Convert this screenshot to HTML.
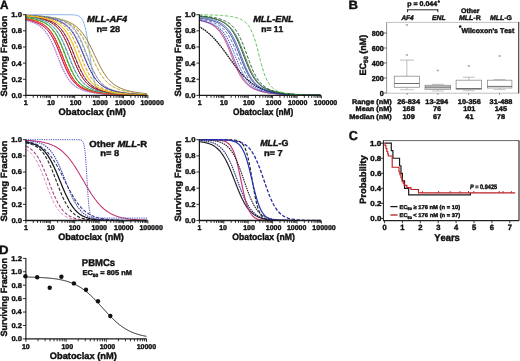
<!DOCTYPE html>
<html><head><meta charset="utf-8"><style>
html,body{margin:0;padding:0;background:#fff;}
svg{display:block;will-change:transform;filter:blur(0.35px);}
text{font-family:"Liberation Sans",sans-serif;font-kerning:none;stroke:#111;stroke-width:0.4px;white-space:pre;}
</style></head><body>
<svg width="520" height="361" viewBox="0 0 520 361" text-rendering="geometricPrecision">
<rect width="520" height="361" fill="#fff"/>
<g id="A">
<g fill="#111" transform="translate(-0.09,9.00) scale(0.9813,1)"><text x="0.00" y="0.00" font-size="12.0" style="font-weight:bold">A</text></g>
<path d="M25.9,14.7 26.9,14.7 27.9,14.7 28.9,14.7 29.9,14.7 30.9,14.7 31.9,14.7 32.9,14.7 33.9,14.7 34.9,14.7 35.9,14.7 36.9,14.7 37.9,14.7 38.9,14.7 39.9,14.7 40.9,14.7 41.9,14.7 42.9,14.7 43.9,14.7 44.9,14.7 45.9,14.7 46.9,14.7 47.9,14.7 48.9,14.7 49.9,14.7 50.9,14.7 51.9,14.7 52.9,14.7 53.9,14.7 54.9,14.7 55.9,14.7 56.9,14.7 57.9,14.7 58.9,14.7 59.9,14.7 60.9,14.7 61.9,14.7 62.9,14.7 63.9,14.7 64.9,14.7 65.9,14.7 66.9,14.7 67.9,14.7 68.9,14.7 69.9,14.7 70.9,14.8 71.9,14.8 72.9,14.9 73.9,14.9 74.9,15.0 75.9,15.2 76.9,15.4 77.9,15.7 78.9,16.1 79.9,16.8 80.9,17.7 81.9,18.9 82.9,20.7 83.9,23.2 84.9,26.4 85.9,30.6 86.9,35.8 87.9,41.9 88.9,48.7 89.9,55.8 90.9,62.7 91.9,69.0 92.9,74.6 93.9,79.3 94.9,83.1 95.9,86.0 96.9,88.4 97.9,90.1 98.9,91.5 99.9,92.5 100.9,93.2 101.9,93.8 102.9,94.2 103.9,94.5 104.9,94.7 105.9,94.9 106.9,95.0 107.9,95.1 108.9,95.2 109.9,95.3 110.9,95.3 111.9,95.3 112.9,95.3 113.9,95.4 114.9,95.4 115.9,95.4 116.9,95.4 117.9,95.4 118.9,95.4 119.9,95.4 120.9,95.4 121.9,95.4 122.9,95.4 123.9,95.4 124.9,95.4 125.9,95.4 126.9,95.4 127.9,95.4 128.9,95.4 129.9,95.4 130.9,95.4 131.9,95.4 132.9,95.4 133.9,95.4 134.9,95.4 135.9,95.4 136.9,95.4 137.9,95.4 138.9,95.4 139.9,95.4 140.9,95.4 141.9,95.4 142.9,95.4 143.9,95.4 144.9,95.4 145.9,95.4 146.9,95.4" fill="none" stroke="#80b0e8" stroke-width="0.95" />
<path d="M25.9,15.5 26.9,15.5 27.9,15.5 28.9,15.6 29.9,15.6 30.9,15.7 31.9,15.7 32.9,15.8 33.9,15.8 34.9,15.9 35.9,16.0 36.9,16.0 37.9,16.1 38.9,16.2 39.9,16.2 40.9,16.3 41.9,16.4 42.9,16.5 43.9,16.6 44.9,16.7 45.9,16.8 46.9,16.9 47.9,17.0 48.9,17.2 49.9,17.3 50.9,17.4 51.9,17.6 52.9,17.7 53.9,17.9 54.9,18.1 55.9,18.2 56.9,18.4 57.9,18.6 58.9,18.9 59.9,19.1 60.9,19.3 61.9,19.6 62.9,19.9 63.9,20.2 64.9,20.5 65.9,20.9 66.9,21.2 67.9,21.6 68.9,22.1 69.9,22.5 70.9,23.0 71.9,23.6 72.9,24.2 73.9,24.8 74.9,25.5 75.9,26.3 76.9,27.1 77.9,28.0 78.9,28.9 79.9,30.0 80.9,31.1 81.9,32.3 82.9,33.6 83.9,35.0 84.9,36.5 85.9,38.0 86.9,39.7 87.9,41.5 88.9,43.3 89.9,45.3 90.9,47.3 91.9,49.3 92.9,51.4 93.9,53.6 94.9,55.7 95.9,57.8 96.9,59.9 97.9,62.0 98.9,64.0 99.9,66.0 100.9,67.9 101.9,69.7 102.9,71.4 103.9,73.0 104.9,74.5 105.9,76.0 106.9,77.3 107.9,78.6 108.9,79.7 109.9,80.8 110.9,81.8 111.9,82.7 112.9,83.5 113.9,84.3 114.9,85.0 115.9,85.7 116.9,86.3 117.9,86.8 118.9,87.4 119.9,87.8 120.9,88.3 121.9,88.7 122.9,89.1 123.9,89.5 124.9,89.8 125.9,90.1 126.9,90.4 127.9,90.7 128.9,90.9 129.9,91.2 130.9,91.4 131.9,91.6 132.9,91.8 133.9,92.0 134.9,92.2 135.9,92.3 136.9,92.5 137.9,92.6 138.9,92.8 139.9,92.9 140.9,93.0 141.9,93.1 142.9,93.3 143.9,93.4 144.9,93.5 145.9,93.6 146.9,93.7" fill="none" stroke="#8a6a30" stroke-width="0.9" />
<path d="M25.9,15.5 26.9,15.5 27.9,15.6 28.9,15.6 29.9,15.7 30.9,15.7 31.9,15.8 32.9,15.8 33.9,15.9 34.9,15.9 35.9,16.0 36.9,16.1 37.9,16.2 38.9,16.2 39.9,16.3 40.9,16.4 41.9,16.5 42.9,16.6 43.9,16.7 44.9,16.8 45.9,16.9 46.9,17.1 47.9,17.2 48.9,17.3 49.9,17.5 50.9,17.6 51.9,17.8 52.9,18.0 53.9,18.2 54.9,18.4 55.9,18.6 56.9,18.8 57.9,19.1 58.9,19.3 59.9,19.6 60.9,19.9 61.9,20.2 62.9,20.5 63.9,20.9 64.9,21.3 65.9,21.7 66.9,22.2 67.9,22.7 68.9,23.3 69.9,23.9 70.9,24.5 71.9,25.2 72.9,26.0 73.9,26.8 74.9,27.7 75.9,28.7 76.9,29.7 77.9,30.9 78.9,32.2 79.9,33.5 80.9,35.0 81.9,36.5 82.9,38.2 83.9,40.0 84.9,41.8 85.9,43.8 86.9,45.9 87.9,48.0 88.9,50.1 89.9,52.4 90.9,54.6 91.9,56.8 92.9,59.1 93.9,61.3 94.9,63.4 95.9,65.5 96.9,67.5 97.9,69.4 98.9,71.2 99.9,72.9 100.9,74.5 101.9,76.0 102.9,77.4 103.9,78.7 104.9,79.9 105.9,81.0 106.9,82.0 107.9,83.0 108.9,83.8 109.9,84.6 110.9,85.3 111.9,86.0 112.9,86.6 113.9,87.2 114.9,87.7 115.9,88.2 116.9,88.6 117.9,89.0 118.9,89.4 119.9,89.8 120.9,90.1 121.9,90.4 122.9,90.7 123.9,90.9 124.9,91.2 125.9,91.4 126.9,91.6 127.9,91.8 128.9,92.0 129.9,92.2 130.9,92.4 131.9,92.6 132.9,92.7 133.9,92.8 134.9,93.0 135.9,93.1 136.9,93.2 137.9,93.3 138.9,93.5 139.9,93.6 140.9,93.6 141.9,93.7 142.9,93.8 143.9,93.9 144.9,94.0 145.9,94.1 146.9,94.1" fill="none" stroke="#a09040" stroke-width="0.85" stroke-dasharray="3.2,1.7" />
<path d="M25.9,15.4 26.9,15.4 27.9,15.4 28.9,15.5 29.9,15.5 30.9,15.6 31.9,15.6 32.9,15.7 33.9,15.7 34.9,15.8 35.9,15.8 36.9,15.9 37.9,16.0 38.9,16.1 39.9,16.1 40.9,16.2 41.9,16.3 42.9,16.4 43.9,16.5 44.9,16.6 45.9,16.7 46.9,16.8 47.9,16.9 48.9,17.1 49.9,17.2 50.9,17.3 51.9,17.5 52.9,17.7 53.9,17.8 54.9,18.0 55.9,18.2 56.9,18.4 57.9,18.7 58.9,18.9 59.9,19.2 60.9,19.4 61.9,19.7 62.9,20.0 63.9,20.4 64.9,20.8 65.9,21.1 66.9,21.6 67.9,22.0 68.9,22.6 69.9,23.1 70.9,23.7 71.9,24.4 72.9,25.1 73.9,25.9 74.9,26.7 75.9,27.6 76.9,28.7 77.9,29.8 78.9,31.0 79.9,32.3 80.9,33.7 81.9,35.2 82.9,36.8 83.9,38.6 84.9,40.5 85.9,42.4 86.9,44.5 87.9,46.6 88.9,48.8 89.9,51.1 90.9,53.4 91.9,55.7 92.9,58.1 93.9,60.3 94.9,62.6 95.9,64.8 96.9,66.9 97.9,68.9 98.9,70.8 99.9,72.6 100.9,74.3 101.9,75.8 102.9,77.3 103.9,78.6 104.9,79.9 105.9,81.0 106.9,82.1 107.9,83.0 108.9,83.9 109.9,84.7 110.9,85.5 111.9,86.1 112.9,86.8 113.9,87.3 114.9,87.9 115.9,88.3 116.9,88.8 117.9,89.2 118.9,89.6 119.9,89.9 120.9,90.3 121.9,90.6 122.9,90.8 123.9,91.1 124.9,91.4 125.9,91.6 126.9,91.8 127.9,92.0 128.9,92.2 129.9,92.4 130.9,92.5 131.9,92.7 132.9,92.8 133.9,93.0 134.9,93.1 135.9,93.2 136.9,93.4 137.9,93.5 138.9,93.6 139.9,93.7 140.9,93.8 141.9,93.9 142.9,93.9 143.9,94.0 144.9,94.1 145.9,94.2 146.9,94.2" fill="none" stroke="#e0c840" stroke-width="0.85" stroke-dasharray="3.2,1.7" />
<path d="M25.9,15.2 26.9,15.3 27.9,15.3 28.9,15.3 29.9,15.4 30.9,15.4 31.9,15.5 32.9,15.5 33.9,15.6 34.9,15.6 35.9,15.7 36.9,15.8 37.9,15.8 38.9,15.9 39.9,16.0 40.9,16.1 41.9,16.2 42.9,16.3 43.9,16.4 44.9,16.5 45.9,16.6 46.9,16.7 47.9,16.8 48.9,17.0 49.9,17.1 50.9,17.3 51.9,17.5 52.9,17.7 53.9,17.9 54.9,18.1 55.9,18.3 56.9,18.5 57.9,18.8 58.9,19.1 59.9,19.4 60.9,19.7 61.9,20.1 62.9,20.5 63.9,20.9 64.9,21.4 65.9,21.9 66.9,22.5 67.9,23.1 68.9,23.8 69.9,24.6 70.9,25.4 71.9,26.3 72.9,27.3 73.9,28.5 74.9,29.7 75.9,31.1 76.9,32.6 77.9,34.2 78.9,36.0 79.9,37.9 80.9,40.0 81.9,42.2 82.9,44.6 83.9,47.0 84.9,49.6 85.9,52.2 86.9,54.8 87.9,57.4 88.9,60.0 89.9,62.6 90.9,65.0 91.9,67.4 92.9,69.7 93.9,71.8 94.9,73.7 95.9,75.5 96.9,77.2 97.9,78.7 98.9,80.1 99.9,81.4 100.9,82.6 101.9,83.6 102.9,84.5 103.9,85.4 104.9,86.2 105.9,86.9 106.9,87.5 107.9,88.1 108.9,88.6 109.9,89.1 110.9,89.5 111.9,89.9 112.9,90.3 113.9,90.6 114.9,90.9 115.9,91.2 116.9,91.5 117.9,91.8 118.9,92.0 119.9,92.2 120.9,92.4 121.9,92.6 122.9,92.8 123.9,92.9 124.9,93.1 125.9,93.2 126.9,93.4 127.9,93.5 128.9,93.6 129.9,93.7 130.9,93.8 131.9,93.9 132.9,94.0 133.9,94.1 134.9,94.2 135.9,94.2 136.9,94.3 137.9,94.4 138.9,94.4 139.9,94.5 140.9,94.6 141.9,94.6 142.9,94.7 143.9,94.7 144.9,94.7 145.9,94.8 146.9,94.8" fill="none" stroke="#8898b0" stroke-width="0.85" />
<path d="M25.9,15.3 26.9,15.4 27.9,15.4 28.9,15.5 29.9,15.5 30.9,15.6 31.9,15.6 32.9,15.7 33.9,15.7 34.9,15.8 35.9,15.9 36.9,16.0 37.9,16.0 38.9,16.1 39.9,16.2 40.9,16.3 41.9,16.4 42.9,16.5 43.9,16.6 44.9,16.7 45.9,16.9 46.9,17.0 47.9,17.1 48.9,17.3 49.9,17.5 50.9,17.6 51.9,17.8 52.9,18.0 53.9,18.2 54.9,18.5 55.9,18.7 56.9,19.0 57.9,19.3 58.9,19.6 59.9,19.9 60.9,20.3 61.9,20.7 62.9,21.1 63.9,21.6 64.9,22.1 65.9,22.7 66.9,23.3 67.9,24.0 68.9,24.7 69.9,25.5 70.9,26.4 71.9,27.4 72.9,28.5 73.9,29.7 74.9,31.0 75.9,32.5 76.9,34.0 77.9,35.7 78.9,37.5 79.9,39.5 80.9,41.6 81.9,43.8 82.9,46.1 83.9,48.5 84.9,51.0 85.9,53.5 86.9,56.1 87.9,58.6 88.9,61.1 89.9,63.5 90.9,65.8 91.9,68.1 92.9,70.2 93.9,72.2 94.9,74.0 95.9,75.8 96.9,77.3 97.9,78.8 98.9,80.1 99.9,81.4 100.9,82.5 101.9,83.5 102.9,84.4 103.9,85.2 104.9,86.0 105.9,86.7 106.9,87.3 107.9,87.9 108.9,88.4 109.9,88.9 110.9,89.3 111.9,89.7 112.9,90.1 113.9,90.4 114.9,90.8 115.9,91.0 116.9,91.3 117.9,91.6 118.9,91.8 119.9,92.0 120.9,92.2 121.9,92.4 122.9,92.6 123.9,92.8 124.9,92.9 125.9,93.1 126.9,93.2 127.9,93.3 128.9,93.5 129.9,93.6 130.9,93.7 131.9,93.8 132.9,93.9 133.9,94.0 134.9,94.1 135.9,94.1 136.9,94.2 137.9,94.3 138.9,94.3 139.9,94.4 140.9,94.5 141.9,94.5 142.9,94.6 143.9,94.6 144.9,94.7 145.9,94.7 146.9,94.7" fill="none" stroke="#909090" stroke-width="0.85" stroke-dasharray="3.2,1.7" />
<path d="M25.9,15.5 26.9,15.5 27.9,15.5 28.9,15.6 29.9,15.7 30.9,15.7 31.9,15.8 32.9,15.8 33.9,15.9 34.9,16.0 35.9,16.1 36.9,16.2 37.9,16.3 38.9,16.3 39.9,16.4 40.9,16.6 41.9,16.7 42.9,16.8 43.9,16.9 44.9,17.1 45.9,17.2 46.9,17.4 47.9,17.6 48.9,17.7 49.9,17.9 50.9,18.1 51.9,18.4 52.9,18.6 53.9,18.9 54.9,19.1 55.9,19.4 56.9,19.8 57.9,20.1 58.9,20.5 59.9,20.9 60.9,21.4 61.9,21.9 62.9,22.4 63.9,23.0 64.9,23.6 65.9,24.3 66.9,25.1 67.9,26.0 68.9,26.9 69.9,28.0 70.9,29.1 71.9,30.4 72.9,31.7 73.9,33.2 74.9,34.9 75.9,36.6 76.9,38.5 77.9,40.5 78.9,42.7 79.9,45.0 80.9,47.3 81.9,49.8 82.9,52.3 83.9,54.8 84.9,57.3 85.9,59.8 86.9,62.3 87.9,64.7 88.9,67.0 89.9,69.1 90.9,71.2 91.9,73.1 92.9,74.9 93.9,76.6 94.9,78.1 95.9,79.5 96.9,80.8 97.9,81.9 98.9,83.0 99.9,83.9 100.9,84.8 101.9,85.6 102.9,86.3 103.9,87.0 104.9,87.6 105.9,88.1 106.9,88.6 107.9,89.1 108.9,89.5 109.9,89.9 110.9,90.3 111.9,90.6 112.9,90.9 113.9,91.2 114.9,91.4 115.9,91.7 116.9,91.9 117.9,92.1 118.9,92.3 119.9,92.5 120.9,92.7 121.9,92.8 122.9,93.0 123.9,93.1 124.9,93.3 125.9,93.4 126.9,93.5 127.9,93.6 128.9,93.7 129.9,93.8 130.9,93.9 131.9,94.0 132.9,94.1 133.9,94.2 134.9,94.2 135.9,94.3 136.9,94.4 137.9,94.4 138.9,94.5 139.9,94.5 140.9,94.6 141.9,94.6 142.9,94.7 143.9,94.7 144.9,94.8 145.9,94.8 146.9,94.8" fill="none" stroke="#4060c0" stroke-width="1.0" stroke-dasharray="0.5,1.8" stroke-linecap="round"/>
<path d="M25.9,15.6 26.9,15.6 27.9,15.7 28.9,15.8 29.9,15.8 30.9,15.9 31.9,16.0 32.9,16.0 33.9,16.1 34.9,16.2 35.9,16.3 36.9,16.4 37.9,16.5 38.9,16.6 39.9,16.7 40.9,16.8 41.9,17.0 42.9,17.1 43.9,17.2 44.9,17.4 45.9,17.6 46.9,17.7 47.9,17.9 48.9,18.1 49.9,18.3 50.9,18.6 51.9,18.8 52.9,19.1 53.9,19.4 54.9,19.7 55.9,20.0 56.9,20.3 57.9,20.7 58.9,21.1 59.9,21.6 60.9,22.1 61.9,22.6 62.9,23.2 63.9,23.8 64.9,24.5 65.9,25.3 66.9,26.1 67.9,27.1 68.9,28.1 69.9,29.2 70.9,30.4 71.9,31.7 72.9,33.1 73.9,34.7 74.9,36.4 75.9,38.2 76.9,40.1 77.9,42.1 78.9,44.3 79.9,46.5 80.9,48.8 81.9,51.2 82.9,53.6 83.9,56.0 84.9,58.4 85.9,60.8 86.9,63.2 87.9,65.4 88.9,67.6 89.9,69.6 90.9,71.6 91.9,73.4 92.9,75.1 93.9,76.7 94.9,78.1 95.9,79.5 96.9,80.7 97.9,81.8 98.9,82.8 99.9,83.8 100.9,84.6 101.9,85.4 102.9,86.1 103.9,86.8 104.9,87.4 105.9,87.9 106.9,88.4 107.9,88.9 108.9,89.3 109.9,89.7 110.9,90.0 111.9,90.4 112.9,90.7 113.9,91.0 114.9,91.2 115.9,91.5 116.9,91.7 117.9,91.9 118.9,92.1 119.9,92.3 120.9,92.5 121.9,92.7 122.9,92.8 123.9,93.0 124.9,93.1 125.9,93.2 126.9,93.4 127.9,93.5 128.9,93.6 129.9,93.7 130.9,93.8 131.9,93.9 132.9,94.0 133.9,94.0 134.9,94.1 135.9,94.2 136.9,94.3 137.9,94.3 138.9,94.4 139.9,94.4 140.9,94.5 141.9,94.5 142.9,94.6 143.9,94.6 144.9,94.7 145.9,94.7 146.9,94.8" fill="none" stroke="#302890" stroke-width="0.85" />
<path d="M25.9,15.6 26.9,15.7 27.9,15.7 28.9,15.8 29.9,15.9 30.9,15.9 31.9,16.0 32.9,16.1 33.9,16.2 34.9,16.3 35.9,16.4 36.9,16.5 37.9,16.6 38.9,16.7 39.9,16.8 40.9,17.0 41.9,17.1 42.9,17.3 43.9,17.4 44.9,17.6 45.9,17.8 46.9,18.0 47.9,18.2 48.9,18.4 49.9,18.7 50.9,18.9 51.9,19.2 52.9,19.5 53.9,19.9 54.9,20.2 55.9,20.6 56.9,21.0 57.9,21.5 58.9,22.0 59.9,22.6 60.9,23.2 61.9,23.8 62.9,24.6 63.9,25.4 64.9,26.2 65.9,27.2 66.9,28.3 67.9,29.5 68.9,30.7 69.9,32.2 70.9,33.7 71.9,35.4 72.9,37.2 73.9,39.1 74.9,41.2 75.9,43.4 76.9,45.7 77.9,48.1 78.9,50.5 79.9,53.0 80.9,55.6 81.9,58.1 82.9,60.6 83.9,63.0 84.9,65.4 85.9,67.6 86.9,69.8 87.9,71.8 88.9,73.7 89.9,75.4 90.9,77.0 91.9,78.5 92.9,79.9 93.9,81.1 94.9,82.3 95.9,83.3 96.9,84.2 97.9,85.1 98.9,85.8 99.9,86.5 100.9,87.2 101.9,87.8 102.9,88.3 103.9,88.8 104.9,89.2 105.9,89.6 106.9,90.0 107.9,90.4 108.9,90.7 109.9,91.0 110.9,91.3 111.9,91.5 112.9,91.8 113.9,92.0 114.9,92.2 115.9,92.4 116.9,92.6 117.9,92.7 118.9,92.9 119.9,93.0 120.9,93.2 121.9,93.3 122.9,93.4 123.9,93.6 124.9,93.7 125.9,93.8 126.9,93.9 127.9,93.9 128.9,94.0 129.9,94.1 130.9,94.2 131.9,94.3 132.9,94.3 133.9,94.4 134.9,94.5 135.9,94.5 136.9,94.6 137.9,94.6 138.9,94.7 139.9,94.7 140.9,94.7 141.9,94.8 142.9,94.8 143.9,94.8 144.9,94.9 145.9,94.9 146.9,94.9" fill="none" stroke="#b0c040" stroke-width="0.85" stroke-dasharray="3.2,1.7" />
<path d="M25.9,16.1 26.9,16.2 27.9,16.3 28.9,16.3 29.9,16.4 30.9,16.6 31.9,16.7 32.9,16.8 33.9,16.9 34.9,17.1 35.9,17.2 36.9,17.4 37.9,17.6 38.9,17.7 39.9,17.9 40.9,18.1 41.9,18.4 42.9,18.6 43.9,18.9 44.9,19.1 45.9,19.4 46.9,19.8 47.9,20.1 48.9,20.5 49.9,20.9 50.9,21.4 51.9,21.9 52.9,22.4 53.9,23.0 54.9,23.6 55.9,24.3 56.9,25.1 57.9,26.0 58.9,26.9 59.9,28.0 60.9,29.1 61.9,30.4 62.9,31.7 63.9,33.2 64.9,34.9 65.9,36.6 66.9,38.5 67.9,40.5 68.9,42.7 69.9,45.0 70.9,47.3 71.9,49.8 72.9,52.3 73.9,54.8 74.9,57.3 75.9,59.8 76.9,62.3 77.9,64.7 78.9,67.0 79.9,69.1 80.9,71.2 81.9,73.1 82.9,74.9 83.9,76.6 84.9,78.1 85.9,79.5 86.9,80.8 87.9,81.9 88.9,83.0 89.9,83.9 90.9,84.8 91.9,85.6 92.9,86.3 93.9,87.0 94.9,87.6 95.9,88.1 96.9,88.6 97.9,89.1 98.9,89.5 99.9,89.9 100.9,90.3 101.9,90.6 102.9,90.9 103.9,91.2 104.9,91.4 105.9,91.7 106.9,91.9 107.9,92.1 108.9,92.3 109.9,92.5 110.9,92.7 111.9,92.8 112.9,93.0 113.9,93.1 114.9,93.3 115.9,93.4 116.9,93.5 117.9,93.6 118.9,93.7 119.9,93.8 120.9,93.9 121.9,94.0 122.9,94.1 123.9,94.2 124.9,94.2 125.9,94.3 126.9,94.4 127.9,94.4 128.9,94.5 129.9,94.5 130.9,94.6 131.9,94.6 132.9,94.7 133.9,94.7 134.9,94.8 135.9,94.8 136.9,94.8 137.9,94.9 138.9,94.9 139.9,94.9 140.9,95.0 141.9,95.0 142.9,95.0 143.9,95.0 144.9,95.1 145.9,95.1 146.9,95.1" fill="none" stroke="#202020" stroke-width="0.85" stroke-dasharray="3.2,1.7" />
<path d="M25.9,16.0 26.9,16.1 27.9,16.2 28.9,16.3 29.9,16.4 30.9,16.5 31.9,16.6 32.9,16.8 33.9,16.9 34.9,17.0 35.9,17.2 36.9,17.3 37.9,17.5 38.9,17.7 39.9,17.9 40.9,18.1 41.9,18.3 42.9,18.5 43.9,18.8 44.9,19.1 45.9,19.3 46.9,19.7 47.9,20.0 48.9,20.4 49.9,20.8 50.9,21.2 51.9,21.7 52.9,22.2 53.9,22.8 54.9,23.4 55.9,24.1 56.9,24.9 57.9,25.7 58.9,26.6 59.9,27.6 60.9,28.7 61.9,30.0 62.9,31.3 63.9,32.8 64.9,34.3 65.9,36.1 66.9,37.9 67.9,39.9 68.9,42.0 69.9,44.3 70.9,46.6 71.9,49.0 72.9,51.5 73.9,54.0 74.9,56.6 75.9,59.1 76.9,61.6 77.9,64.0 78.9,66.3 79.9,68.5 80.9,70.6 81.9,72.6 82.9,74.4 83.9,76.1 84.9,77.6 85.9,79.1 86.9,80.4 87.9,81.6 88.9,82.7 89.9,83.7 90.9,84.6 91.9,85.4 92.9,86.1 93.9,86.8 94.9,87.4 95.9,88.0 96.9,88.5 97.9,89.0 98.9,89.4 99.9,89.8 100.9,90.2 101.9,90.5 102.9,90.8 103.9,91.1 104.9,91.4 105.9,91.6 106.9,91.9 107.9,92.1 108.9,92.3 109.9,92.5 110.9,92.6 111.9,92.8 112.9,93.0 113.9,93.1 114.9,93.2 115.9,93.4 116.9,93.5 117.9,93.6 118.9,93.7 119.9,93.8 120.9,93.9 121.9,94.0 122.9,94.1 123.9,94.1 124.9,94.2 125.9,94.3 126.9,94.4 127.9,94.4 128.9,94.5 129.9,94.5 130.9,94.6 131.9,94.6 132.9,94.7 133.9,94.7 134.9,94.8 135.9,94.8 136.9,94.8 137.9,94.9 138.9,94.9 139.9,94.9 140.9,95.0 141.9,95.0 142.9,95.0 143.9,95.0 144.9,95.0 145.9,95.1 146.9,95.1" fill="none" stroke="#a01850" stroke-width="0.9" />
<path d="M25.9,16.3 26.9,16.4 27.9,16.5 28.9,16.6 29.9,16.7 30.9,16.9 31.9,17.0 32.9,17.1 33.9,17.3 34.9,17.4 35.9,17.6 36.9,17.8 37.9,18.0 38.9,18.2 39.9,18.5 40.9,18.7 41.9,19.0 42.9,19.3 43.9,19.6 44.9,19.9 45.9,20.3 46.9,20.7 47.9,21.1 48.9,21.6 49.9,22.1 50.9,22.6 51.9,23.2 52.9,23.9 53.9,24.6 54.9,25.4 55.9,26.3 56.9,27.3 57.9,28.4 58.9,29.6 59.9,30.9 60.9,32.3 61.9,33.9 62.9,35.5 63.9,37.4 64.9,39.3 65.9,41.4 66.9,43.6 67.9,45.9 68.9,48.3 69.9,50.8 70.9,53.3 71.9,55.8 72.9,58.3 73.9,60.8 74.9,63.3 75.9,65.6 76.9,67.8 77.9,70.0 78.9,72.0 79.9,73.8 80.9,75.6 81.9,77.2 82.9,78.7 83.9,80.0 84.9,81.2 85.9,82.4 86.9,83.4 87.9,84.3 88.9,85.1 89.9,85.9 90.9,86.6 91.9,87.2 92.9,87.8 93.9,88.3 94.9,88.8 95.9,89.3 96.9,89.7 97.9,90.1 98.9,90.4 99.9,90.7 100.9,91.0 101.9,91.3 102.9,91.5 103.9,91.8 104.9,92.0 105.9,92.2 106.9,92.4 107.9,92.6 108.9,92.8 109.9,92.9 110.9,93.1 111.9,93.2 112.9,93.3 113.9,93.4 114.9,93.6 115.9,93.7 116.9,93.8 117.9,93.9 118.9,94.0 119.9,94.0 120.9,94.1 121.9,94.2 122.9,94.3 123.9,94.3 124.9,94.4 125.9,94.5 126.9,94.5 127.9,94.6 128.9,94.6 129.9,94.7 130.9,94.7 131.9,94.7 132.9,94.8 133.9,94.8 134.9,94.9 135.9,94.9 136.9,94.9 137.9,94.9 138.9,95.0 139.9,95.0 140.9,95.0 141.9,95.0 142.9,95.1 143.9,95.1 144.9,95.1 145.9,95.1 146.9,95.1" fill="none" stroke="#d02030" stroke-width="1.0" stroke-dasharray="0.5,1.8" stroke-linecap="round"/>
<path d="M25.9,16.3 26.9,16.4 27.9,16.5 28.9,16.6 29.9,16.7 30.9,16.8 31.9,16.9 32.9,17.1 33.9,17.2 34.9,17.4 35.9,17.6 36.9,17.8 37.9,17.9 38.9,18.2 39.9,18.4 40.9,18.6 41.9,18.9 42.9,19.2 43.9,19.5 44.9,19.8 45.9,20.2 46.9,20.5 47.9,21.0 48.9,21.4 49.9,21.9 50.9,22.4 51.9,23.0 52.9,23.7 53.9,24.4 54.9,25.2 55.9,26.1 56.9,27.0 57.9,28.1 58.9,29.2 59.9,30.5 60.9,31.9 61.9,33.4 62.9,35.0 63.9,36.8 64.9,38.7 65.9,40.8 66.9,42.9 67.9,45.2 68.9,47.6 69.9,50.0 70.9,52.5 71.9,55.1 72.9,57.6 73.9,60.1 74.9,62.5 75.9,64.9 76.9,67.2 77.9,69.3 78.9,71.4 79.9,73.3 80.9,75.1 81.9,76.7 82.9,78.2 83.9,79.6 84.9,80.9 85.9,82.0 86.9,83.1 87.9,84.0 88.9,84.9 89.9,85.7 90.9,86.4 91.9,87.1 92.9,87.7 93.9,88.2 94.9,88.7 95.9,89.1 96.9,89.6 97.9,89.9 98.9,90.3 99.9,90.6 100.9,90.9 101.9,91.2 102.9,91.5 103.9,91.7 104.9,91.9 105.9,92.2 106.9,92.3 107.9,92.5 108.9,92.7 109.9,92.9 110.9,93.0 111.9,93.2 112.9,93.3 113.9,93.4 114.9,93.5 115.9,93.6 116.9,93.7 117.9,93.8 118.9,93.9 119.9,94.0 120.9,94.1 121.9,94.2 122.9,94.2 123.9,94.3 124.9,94.4 125.9,94.4 126.9,94.5 127.9,94.5 128.9,94.6 129.9,94.6 130.9,94.7 131.9,94.7 132.9,94.8 133.9,94.8 134.9,94.8 135.9,94.9 136.9,94.9 137.9,94.9 138.9,95.0 139.9,95.0 140.9,95.0 141.9,95.0 142.9,95.1 143.9,95.1 144.9,95.1 145.9,95.1 146.9,95.1" fill="none" stroke="#a01020" stroke-width="0.9" />
<path d="M25.9,16.7 26.9,16.8 27.9,16.9 28.9,17.0 29.9,17.2 30.9,17.3 31.9,17.5 32.9,17.7 33.9,17.9 34.9,18.1 35.9,18.3 36.9,18.6 37.9,18.8 38.9,19.1 39.9,19.4 40.9,19.7 41.9,20.0 42.9,20.4 43.9,20.8 44.9,21.3 45.9,21.8 46.9,22.3 47.9,22.9 48.9,23.5 49.9,24.2 50.9,25.0 51.9,25.8 52.9,26.7 53.9,27.7 54.9,28.9 55.9,30.1 56.9,31.4 57.9,32.9 58.9,34.5 59.9,36.3 60.9,38.1 61.9,40.1 62.9,42.3 63.9,44.5 64.9,46.8 65.9,49.3 66.9,51.8 67.9,54.3 68.9,56.8 69.9,59.3 70.9,61.8 71.9,64.2 72.9,66.5 73.9,68.7 74.9,70.8 75.9,72.7 76.9,74.6 77.9,76.2 78.9,77.8 79.9,79.2 80.9,80.5 81.9,81.7 82.9,82.8 83.9,83.8 84.9,84.7 85.9,85.5 86.9,86.2 87.9,86.9 88.9,87.5 89.9,88.0 90.9,88.5 91.9,89.0 92.9,89.4 93.9,89.8 94.9,90.2 95.9,90.5 96.9,90.8 97.9,91.1 98.9,91.4 99.9,91.6 100.9,91.9 101.9,92.1 102.9,92.3 103.9,92.5 104.9,92.7 105.9,92.8 106.9,93.0 107.9,93.1 108.9,93.2 109.9,93.4 110.9,93.5 111.9,93.6 112.9,93.7 113.9,93.8 114.9,93.9 115.9,94.0 116.9,94.1 117.9,94.2 118.9,94.2 119.9,94.3 120.9,94.4 121.9,94.4 122.9,94.5 123.9,94.5 124.9,94.6 125.9,94.6 126.9,94.7 127.9,94.7 128.9,94.8 129.9,94.8 130.9,94.8 131.9,94.9 132.9,94.9 133.9,94.9 134.9,95.0 135.9,95.0 136.9,95.0 137.9,95.0 138.9,95.1 139.9,95.1 140.9,95.1 141.9,95.1 142.9,95.1 143.9,95.1 144.9,95.2 145.9,95.2 146.9,95.2" fill="none" stroke="#3080c0" stroke-width="0.85" stroke-dasharray="3.2,1.7" />
<path d="M25.9,16.6 26.9,16.7 27.9,16.9 28.9,17.0 29.9,17.1 30.9,17.3 31.9,17.4 32.9,17.6 33.9,17.8 34.9,18.0 35.9,18.2 36.9,18.5 37.9,18.7 38.9,19.0 39.9,19.3 40.9,19.6 41.9,19.9 42.9,20.3 43.9,20.7 44.9,21.1 45.9,21.6 46.9,22.1 47.9,22.6 48.9,23.2 49.9,23.9 50.9,24.6 51.9,25.4 52.9,26.3 53.9,27.3 54.9,28.4 55.9,29.6 56.9,30.9 57.9,32.3 58.9,33.9 59.9,35.5 60.9,37.4 61.9,39.3 62.9,41.4 63.9,43.6 64.9,45.9 65.9,48.3 66.9,50.8 67.9,53.3 68.9,55.8 69.9,58.3 70.9,60.8 71.9,63.3 72.9,65.6 73.9,67.8 74.9,70.0 75.9,72.0 76.9,73.8 77.9,75.6 78.9,77.2 79.9,78.7 80.9,80.0 81.9,81.2 82.9,82.4 83.9,83.4 84.9,84.3 85.9,85.1 86.9,85.9 87.9,86.6 88.9,87.2 89.9,87.8 90.9,88.3 91.9,88.8 92.9,89.3 93.9,89.7 94.9,90.1 95.9,90.4 96.9,90.7 97.9,91.0 98.9,91.3 99.9,91.5 100.9,91.8 101.9,92.0 102.9,92.2 103.9,92.4 104.9,92.6 105.9,92.8 106.9,92.9 107.9,93.1 108.9,93.2 109.9,93.3 110.9,93.4 111.9,93.6 112.9,93.7 113.9,93.8 114.9,93.9 115.9,94.0 116.9,94.0 117.9,94.1 118.9,94.2 119.9,94.3 120.9,94.3 121.9,94.4 122.9,94.5 123.9,94.5 124.9,94.6 125.9,94.6 126.9,94.7 127.9,94.7 128.9,94.7 129.9,94.8 130.9,94.8 131.9,94.9 132.9,94.9 133.9,94.9 134.9,94.9 135.9,95.0 136.9,95.0 137.9,95.0 138.9,95.0 139.9,95.1 140.9,95.1 141.9,95.1 142.9,95.1 143.9,95.1 144.9,95.2 145.9,95.2 146.9,95.2" fill="none" stroke="#40a0a0" stroke-width="0.8" />
<path d="M25.9,17.6 26.9,17.7 27.9,17.9 28.9,18.0 29.9,18.2 30.9,18.4 31.9,18.6 32.9,18.8 33.9,19.0 34.9,19.2 35.9,19.5 36.9,19.8 37.9,20.1 38.9,20.4 39.9,20.7 40.9,21.1 41.9,21.5 42.9,22.0 43.9,22.5 44.9,23.0 45.9,23.6 46.9,24.3 47.9,25.0 48.9,25.8 49.9,26.7 50.9,27.7 51.9,28.8 52.9,30.0 53.9,31.3 54.9,32.7 55.9,34.3 56.9,36.1 57.9,37.9 58.9,39.9 59.9,42.1 60.9,44.4 61.9,46.8 62.9,49.3 63.9,51.8 64.9,54.4 65.9,57.0 66.9,59.6 67.9,62.2 68.9,64.6 69.9,67.0 70.9,69.3 71.9,71.4 72.9,73.4 73.9,75.2 74.9,76.9 75.9,78.5 76.9,79.9 77.9,81.2 78.9,82.3 79.9,83.4 80.9,84.4 81.9,85.2 82.9,86.0 83.9,86.7 84.9,87.4 85.9,88.0 86.9,88.5 87.9,89.0 88.9,89.5 89.9,89.9 90.9,90.2 91.9,90.6 92.9,90.9 93.9,91.2 94.9,91.5 95.9,91.7 96.9,92.0 97.9,92.2 98.9,92.4 99.9,92.6 100.9,92.7 101.9,92.9 102.9,93.1 103.9,93.2 104.9,93.3 105.9,93.5 106.9,93.6 107.9,93.7 108.9,93.8 109.9,93.9 110.9,94.0 111.9,94.1 112.9,94.2 113.9,94.2 114.9,94.3 115.9,94.4 116.9,94.4 117.9,94.5 118.9,94.5 119.9,94.6 120.9,94.6 121.9,94.7 122.9,94.7 123.9,94.8 124.9,94.8 125.9,94.9 126.9,94.9 127.9,94.9 128.9,94.9 129.9,95.0 130.9,95.0 131.9,95.0 132.9,95.0 133.9,95.1 134.9,95.1 135.9,95.1 136.9,95.1 137.9,95.1 138.9,95.2 139.9,95.2 140.9,95.2 141.9,95.2 142.9,95.2 143.9,95.2 144.9,95.2 145.9,95.2 146.9,95.3" fill="none" stroke="#a0c030" stroke-width="0.85" />
<path d="M25.9,17.6 26.9,17.8 27.9,17.9 28.9,18.1 29.9,18.3 30.9,18.4 31.9,18.6 32.9,18.8 33.9,19.1 34.9,19.3 35.9,19.6 36.9,19.9 37.9,20.2 38.9,20.5 39.9,20.9 40.9,21.2 41.9,21.7 42.9,22.1 43.9,22.7 44.9,23.2 45.9,23.8 46.9,24.5 47.9,25.3 48.9,26.1 49.9,27.0 50.9,28.0 51.9,29.1 52.9,30.4 53.9,31.7 54.9,33.2 55.9,34.8 56.9,36.6 57.9,38.5 58.9,40.6 59.9,42.8 60.9,45.1 61.9,47.5 62.9,50.0 63.9,52.6 64.9,55.2 65.9,57.8 66.9,60.4 67.9,62.9 68.9,65.4 69.9,67.7 70.9,69.9 71.9,72.0 72.9,73.9 73.9,75.7 74.9,77.4 75.9,78.9 76.9,80.3 77.9,81.5 78.9,82.7 79.9,83.7 80.9,84.6 81.9,85.5 82.9,86.3 83.9,86.9 84.9,87.6 85.9,88.1 86.9,88.7 87.9,89.1 88.9,89.6 89.9,90.0 90.9,90.3 91.9,90.7 92.9,91.0 93.9,91.3 94.9,91.5 95.9,91.8 96.9,92.0 97.9,92.2 98.9,92.4 99.9,92.6 100.9,92.8 101.9,93.0 102.9,93.1 103.9,93.2 104.9,93.4 105.9,93.5 106.9,93.6 107.9,93.7 108.9,93.8 109.9,93.9 110.9,94.0 111.9,94.1 112.9,94.2 113.9,94.3 114.9,94.3 115.9,94.4 116.9,94.5 117.9,94.5 118.9,94.6 119.9,94.6 120.9,94.7 121.9,94.7 122.9,94.8 123.9,94.8 124.9,94.8 125.9,94.9 126.9,94.9 127.9,94.9 128.9,95.0 129.9,95.0 130.9,95.0 131.9,95.0 132.9,95.1 133.9,95.1 134.9,95.1 135.9,95.1 136.9,95.1 137.9,95.1 138.9,95.2 139.9,95.2 140.9,95.2 141.9,95.2 142.9,95.2 143.9,95.2 144.9,95.2 145.9,95.2 146.9,95.3" fill="none" stroke="#40b040" stroke-width="0.85" stroke-dasharray="3.2,1.7" />
<path d="M25.9,17.6 26.9,17.7 27.9,17.8 28.9,18.0 29.9,18.1 30.9,18.3 31.9,18.5 32.9,18.7 33.9,18.9 34.9,19.2 35.9,19.4 36.9,19.7 37.9,20.0 38.9,20.3 39.9,20.6 40.9,21.0 41.9,21.4 42.9,21.9 43.9,22.3 44.9,22.9 45.9,23.5 46.9,24.1 47.9,24.8 48.9,25.6 49.9,26.4 50.9,27.4 51.9,28.4 52.9,29.6 53.9,30.9 54.9,32.3 55.9,33.8 56.9,35.5 57.9,37.3 58.9,39.3 59.9,41.4 60.9,43.7 61.9,46.0 62.9,48.5 63.9,51.0 64.9,53.6 65.9,56.2 66.9,58.8 67.9,61.4 68.9,63.9 69.9,66.3 70.9,68.6 71.9,70.8 72.9,72.8 73.9,74.7 74.9,76.4 75.9,78.0 76.9,79.5 77.9,80.8 78.9,82.0 79.9,83.1 80.9,84.1 81.9,85.0 82.9,85.8 83.9,86.5 84.9,87.2 85.9,87.8 86.9,88.4 87.9,88.9 88.9,89.3 89.9,89.7 90.9,90.1 91.9,90.5 92.9,90.8 93.9,91.1 94.9,91.4 95.9,91.6 96.9,91.9 97.9,92.1 98.9,92.3 99.9,92.5 100.9,92.7 101.9,92.9 102.9,93.0 103.9,93.2 104.9,93.3 105.9,93.4 106.9,93.6 107.9,93.7 108.9,93.8 109.9,93.9 110.9,94.0 111.9,94.1 112.9,94.1 113.9,94.2 114.9,94.3 115.9,94.4 116.9,94.4 117.9,94.5 118.9,94.5 119.9,94.6 120.9,94.6 121.9,94.7 122.9,94.7 123.9,94.8 124.9,94.8 125.9,94.8 126.9,94.9 127.9,94.9 128.9,94.9 129.9,95.0 130.9,95.0 131.9,95.0 132.9,95.0 133.9,95.1 134.9,95.1 135.9,95.1 136.9,95.1 137.9,95.1 138.9,95.2 139.9,95.2 140.9,95.2 141.9,95.2 142.9,95.2 143.9,95.2 144.9,95.2 145.9,95.2 146.9,95.3" fill="none" stroke="#30a030" stroke-width="0.9" />
<path d="M25.9,18.8 26.9,19.0 27.9,19.1 28.9,19.3 29.9,19.5 30.9,19.7 31.9,20.0 32.9,20.2 33.9,20.5 34.9,20.8 35.9,21.1 36.9,21.5 37.9,21.8 38.9,22.2 39.9,22.7 40.9,23.2 41.9,23.7 42.9,24.3 43.9,24.9 44.9,25.7 45.9,26.5 46.9,27.3 47.9,28.3 48.9,29.3 49.9,30.5 50.9,31.8 51.9,33.2 52.9,34.8 53.9,36.5 54.9,38.3 55.9,40.3 56.9,42.4 57.9,44.7 58.9,47.0 59.9,49.5 60.9,52.0 61.9,54.6 62.9,57.1 63.9,59.7 64.9,62.2 65.9,64.7 66.9,67.1 67.9,69.3 68.9,71.4 69.9,73.4 70.9,75.2 71.9,76.9 72.9,78.5 73.9,79.9 74.9,81.2 75.9,82.4 76.9,83.4 77.9,84.4 78.9,85.3 79.9,86.1 80.9,86.8 81.9,87.4 82.9,88.0 83.9,88.5 84.9,89.0 85.9,89.5 86.9,89.9 87.9,90.3 88.9,90.6 89.9,90.9 90.9,91.2 91.9,91.5 92.9,91.7 93.9,92.0 94.9,92.2 95.9,92.4 96.9,92.6 97.9,92.8 98.9,92.9 99.9,93.1 100.9,93.2 101.9,93.3 102.9,93.5 103.9,93.6 104.9,93.7 105.9,93.8 106.9,93.9 107.9,94.0 108.9,94.1 109.9,94.2 110.9,94.2 111.9,94.3 112.9,94.4 113.9,94.4 114.9,94.5 115.9,94.6 116.9,94.6 117.9,94.7 118.9,94.7 119.9,94.7 120.9,94.8 121.9,94.8 122.9,94.9 123.9,94.9 124.9,94.9 125.9,94.9 126.9,95.0 127.9,95.0 128.9,95.0 129.9,95.1 130.9,95.1 131.9,95.1 132.9,95.1 133.9,95.1 134.9,95.1 135.9,95.2 136.9,95.2 137.9,95.2 138.9,95.2 139.9,95.2 140.9,95.2 141.9,95.2 142.9,95.2 143.9,95.3 144.9,95.3 145.9,95.3 146.9,95.3" fill="none" stroke="#e03040" stroke-width="0.85" stroke-dasharray="3.2,1.7" />
<path d="M25.9,18.8 26.9,18.9 27.9,19.1 28.9,19.3 29.9,19.5 30.9,19.7 31.9,19.9 32.9,20.2 33.9,20.4 34.9,20.7 35.9,21.0 36.9,21.4 37.9,21.8 38.9,22.2 39.9,22.6 40.9,23.1 41.9,23.6 42.9,24.2 43.9,24.8 44.9,25.5 45.9,26.3 46.9,27.1 47.9,28.1 48.9,29.1 49.9,30.3 50.9,31.5 51.9,32.9 52.9,34.5 53.9,36.1 54.9,37.9 55.9,39.9 56.9,42.0 57.9,44.2 58.9,46.5 59.9,49.0 60.9,51.5 61.9,54.0 62.9,56.6 63.9,59.2 64.9,61.7 65.9,64.2 66.9,66.6 67.9,68.9 68.9,71.0 69.9,73.0 70.9,74.9 71.9,76.6 72.9,78.2 73.9,79.6 74.9,80.9 75.9,82.1 76.9,83.2 77.9,84.2 78.9,85.1 79.9,85.9 80.9,86.6 81.9,87.3 82.9,87.9 83.9,88.4 84.9,88.9 85.9,89.4 86.9,89.8 87.9,90.2 88.9,90.5 89.9,90.9 90.9,91.2 91.9,91.4 92.9,91.7 93.9,91.9 94.9,92.1 95.9,92.3 96.9,92.5 97.9,92.7 98.9,92.9 99.9,93.0 100.9,93.2 101.9,93.3 102.9,93.4 103.9,93.6 104.9,93.7 105.9,93.8 106.9,93.9 107.9,94.0 108.9,94.1 109.9,94.1 110.9,94.2 111.9,94.3 112.9,94.4 113.9,94.4 114.9,94.5 115.9,94.5 116.9,94.6 117.9,94.6 118.9,94.7 119.9,94.7 120.9,94.8 121.9,94.8 122.9,94.8 123.9,94.9 124.9,94.9 125.9,94.9 126.9,95.0 127.9,95.0 128.9,95.0 129.9,95.0 130.9,95.1 131.9,95.1 132.9,95.1 133.9,95.1 134.9,95.1 135.9,95.2 136.9,95.2 137.9,95.2 138.9,95.2 139.9,95.2 140.9,95.2 141.9,95.2 142.9,95.2 143.9,95.3 144.9,95.3 145.9,95.3 146.9,95.3" fill="none" stroke="#d01828" stroke-width="0.95" />
<path d="M25.9,19.9 26.9,20.0 27.9,20.2 28.9,20.5 29.9,20.7 30.9,20.9 31.9,21.2 32.9,21.5 33.9,21.8 34.9,22.1 35.9,22.5 36.9,22.9 37.9,23.3 38.9,23.8 39.9,24.3 40.9,24.8 41.9,25.5 42.9,26.2 43.9,26.9 44.9,27.7 45.9,28.7 46.9,29.7 47.9,30.8 48.9,32.1 49.9,33.4 50.9,34.9 51.9,36.6 52.9,38.3 53.9,40.3 54.9,42.3 55.9,44.5 56.9,46.8 57.9,49.2 58.9,51.7 59.9,54.2 60.9,56.8 61.9,59.3 62.9,61.8 63.9,64.3 64.9,66.7 65.9,68.9 66.9,71.1 67.9,73.1 68.9,74.9 69.9,76.6 70.9,78.2 71.9,79.7 72.9,81.0 73.9,82.2 74.9,83.2 75.9,84.2 76.9,85.1 77.9,85.9 78.9,86.6 79.9,87.3 80.9,87.9 81.9,88.5 82.9,88.9 83.9,89.4 84.9,89.8 85.9,90.2 86.9,90.5 87.9,90.9 88.9,91.2 89.9,91.4 90.9,91.7 91.9,91.9 92.9,92.2 93.9,92.4 94.9,92.6 95.9,92.7 96.9,92.9 97.9,93.0 98.9,93.2 99.9,93.3 100.9,93.5 101.9,93.6 102.9,93.7 103.9,93.8 104.9,93.9 105.9,94.0 106.9,94.1 107.9,94.2 108.9,94.2 109.9,94.3 110.9,94.4 111.9,94.4 112.9,94.5 113.9,94.5 114.9,94.6 115.9,94.6 116.9,94.7 117.9,94.7 118.9,94.8 119.9,94.8 120.9,94.9 121.9,94.9 122.9,94.9 123.9,94.9 124.9,95.0 125.9,95.0 126.9,95.0 127.9,95.0 128.9,95.1 129.9,95.1 130.9,95.1 131.9,95.1 132.9,95.1 133.9,95.2 134.9,95.2 135.9,95.2 136.9,95.2 137.9,95.2 138.9,95.2 139.9,95.2 140.9,95.2 141.9,95.3 142.9,95.3 143.9,95.3 144.9,95.3 145.9,95.3 146.9,95.3" fill="none" stroke="#e070a0" stroke-width="0.85" />
<path d="M25.9,19.8 26.9,20.0 27.9,20.2 28.9,20.4 29.9,20.6 30.9,20.9 31.9,21.1 32.9,21.4 33.9,21.7 34.9,22.0 35.9,22.4 36.9,22.8 37.9,23.2 38.9,23.7 39.9,24.2 40.9,24.7 41.9,25.3 42.9,26.0 43.9,26.8 44.9,27.6 45.9,28.5 46.9,29.5 47.9,30.6 48.9,31.8 49.9,33.1 50.9,34.6 51.9,36.2 52.9,38.0 53.9,39.9 54.9,41.9 55.9,44.0 56.9,46.3 57.9,48.7 58.9,51.2 59.9,53.7 60.9,56.3 61.9,58.8 62.9,61.3 63.9,63.8 64.9,66.2 65.9,68.5 66.9,70.6 67.9,72.7 68.9,74.6 69.9,76.3 70.9,77.9 71.9,79.4 72.9,80.7 73.9,81.9 74.9,83.0 75.9,84.0 76.9,84.9 77.9,85.8 78.9,86.5 79.9,87.2 80.9,87.8 81.9,88.3 82.9,88.9 83.9,89.3 84.9,89.7 85.9,90.1 86.9,90.5 87.9,90.8 88.9,91.1 89.9,91.4 90.9,91.7 91.9,91.9 92.9,92.1 93.9,92.3 94.9,92.5 95.9,92.7 96.9,92.9 97.9,93.0 98.9,93.2 99.9,93.3 100.9,93.4 101.9,93.6 102.9,93.7 103.9,93.8 104.9,93.9 105.9,94.0 106.9,94.1 107.9,94.1 108.9,94.2 109.9,94.3 110.9,94.4 111.9,94.4 112.9,94.5 113.9,94.5 114.9,94.6 115.9,94.6 116.9,94.7 117.9,94.7 118.9,94.8 119.9,94.8 120.9,94.8 121.9,94.9 122.9,94.9 123.9,94.9 124.9,95.0 125.9,95.0 126.9,95.0 127.9,95.0 128.9,95.1 129.9,95.1 130.9,95.1 131.9,95.1 132.9,95.1 133.9,95.2 134.9,95.2 135.9,95.2 136.9,95.2 137.9,95.2 138.9,95.2 139.9,95.2 140.9,95.2 141.9,95.3 142.9,95.3 143.9,95.3 144.9,95.3 145.9,95.3 146.9,95.3" fill="none" stroke="#d0105a" stroke-width="1.0" />
<path d="M25.9,20.4 26.9,20.7 27.9,20.9 28.9,21.2 29.9,21.4 30.9,21.7 31.9,22.1 32.9,22.4 33.9,22.8 34.9,23.2 35.9,23.7 36.9,24.2 37.9,24.8 38.9,25.4 39.9,26.1 40.9,26.8 41.9,27.7 42.9,28.6 43.9,29.6 44.9,30.7 45.9,31.9 46.9,33.3 47.9,34.8 48.9,36.4 49.9,38.2 50.9,40.1 51.9,42.1 52.9,44.3 53.9,46.6 54.9,49.0 55.9,51.4 56.9,54.0 57.9,56.5 58.9,59.1 59.9,61.6 60.9,64.1 61.9,66.4 62.9,68.7 63.9,70.8 64.9,72.9 65.9,74.7 66.9,76.5 67.9,78.1 68.9,79.5 69.9,80.8 70.9,82.1 71.9,83.1 72.9,84.1 73.9,85.0 74.9,85.8 75.9,86.6 76.9,87.2 77.9,87.9 78.9,88.4 79.9,88.9 80.9,89.4 81.9,89.8 82.9,90.2 83.9,90.5 84.9,90.8 85.9,91.1 86.9,91.4 87.9,91.7 88.9,91.9 89.9,92.1 90.9,92.3 91.9,92.5 92.9,92.7 93.9,92.9 94.9,93.0 95.9,93.2 96.9,93.3 97.9,93.4 98.9,93.6 99.9,93.7 100.9,93.8 101.9,93.9 102.9,94.0 103.9,94.1 104.9,94.1 105.9,94.2 106.9,94.3 107.9,94.4 108.9,94.4 109.9,94.5 110.9,94.5 111.9,94.6 112.9,94.6 113.9,94.7 114.9,94.7 115.9,94.8 116.9,94.8 117.9,94.8 118.9,94.9 119.9,94.9 120.9,94.9 121.9,95.0 122.9,95.0 123.9,95.0 124.9,95.0 125.9,95.1 126.9,95.1 127.9,95.1 128.9,95.1 129.9,95.1 130.9,95.2 131.9,95.2 132.9,95.2 133.9,95.2 134.9,95.2 135.9,95.2 136.9,95.2 137.9,95.2 138.9,95.3 139.9,95.3 140.9,95.3 141.9,95.3 142.9,95.3 143.9,95.3 144.9,95.3 145.9,95.3 146.9,95.3" fill="none" stroke="#d050b0" stroke-width="0.95" stroke-dasharray="0.5,1.8" stroke-linecap="round"/>
<path d="M25.9,20.5 26.9,20.7 27.9,21.0 28.9,21.3 29.9,21.6 30.9,21.9 31.9,22.2 32.9,22.6 33.9,23.0 34.9,23.4 35.9,23.9 36.9,24.4 37.9,25.0 38.9,25.7 39.9,26.4 40.9,27.2 41.9,28.0 42.9,29.0 43.9,30.0 44.9,31.2 45.9,32.5 46.9,33.9 47.9,35.4 48.9,37.1 49.9,38.9 50.9,40.9 51.9,42.9 52.9,45.2 53.9,47.5 54.9,49.9 55.9,52.4 56.9,55.0 57.9,57.5 58.9,60.1 59.9,62.6 60.9,65.0 61.9,67.3 62.9,69.6 63.9,71.7 64.9,73.6 65.9,75.4 66.9,77.1 67.9,78.7 68.9,80.1 69.9,81.3 70.9,82.5 71.9,83.6 72.9,84.5 73.9,85.4 74.9,86.1 75.9,86.9 76.9,87.5 77.9,88.1 78.9,88.6 79.9,89.1 80.9,89.5 81.9,89.9 82.9,90.3 83.9,90.6 84.9,91.0 85.9,91.3 86.9,91.5 87.9,91.8 88.9,92.0 89.9,92.2 90.9,92.4 91.9,92.6 92.9,92.8 93.9,92.9 94.9,93.1 95.9,93.2 96.9,93.4 97.9,93.5 98.9,93.6 99.9,93.7 100.9,93.8 101.9,93.9 102.9,94.0 103.9,94.1 104.9,94.2 105.9,94.2 106.9,94.3 107.9,94.4 108.9,94.4 109.9,94.5 110.9,94.6 111.9,94.6 112.9,94.7 113.9,94.7 114.9,94.7 115.9,94.8 116.9,94.8 117.9,94.9 118.9,94.9 119.9,94.9 120.9,95.0 121.9,95.0 122.9,95.0 123.9,95.0 124.9,95.1 125.9,95.1 126.9,95.1 127.9,95.1 128.9,95.1 129.9,95.1 130.9,95.2 131.9,95.2 132.9,95.2 133.9,95.2 134.9,95.2 135.9,95.2 136.9,95.2 137.9,95.2 138.9,95.3 139.9,95.3 140.9,95.3 141.9,95.3 142.9,95.3 143.9,95.3 144.9,95.3 145.9,95.3 146.9,95.3" fill="none" stroke="#a090e0" stroke-width="1.05" stroke-dasharray="0.5,1.8" stroke-linecap="round"/>
<path d="M25.9,15.6 26.9,15.7 27.9,15.8 28.9,15.8 29.9,15.9 30.9,16.0 31.9,16.1 32.9,16.1 33.9,16.2 34.9,16.3 35.9,16.4 36.9,16.5 37.9,16.7 38.9,16.8 39.9,16.9 40.9,17.0 41.9,17.2 42.9,17.3 43.9,17.5 44.9,17.7 45.9,17.9 46.9,18.1 47.9,18.3 48.9,18.6 49.9,18.8 50.9,19.1 51.9,19.4 52.9,19.7 53.9,20.0 54.9,20.4 55.9,20.8 56.9,21.3 57.9,21.8 58.9,22.3 59.9,22.9 60.9,23.5 61.9,24.2 62.9,25.0 63.9,25.8 64.9,26.7 65.9,27.7 66.9,28.9 67.9,30.1 68.9,31.4 69.9,32.9 70.9,34.5 71.9,36.3 72.9,38.1 73.9,40.1 74.9,42.3 75.9,44.5 76.9,46.8 77.9,49.3 78.9,51.8 79.9,54.3 80.9,56.8 81.9,59.3 82.9,61.8 83.9,64.2 84.9,66.5 85.9,68.7 86.9,70.8 87.9,72.7 88.9,74.6 89.9,76.2 90.9,77.8 91.9,79.2 92.9,80.5 93.9,81.7 94.9,82.8 95.9,83.8 96.9,84.7 97.9,85.5 98.9,86.2 99.9,86.9 100.9,87.5 101.9,88.0 102.9,88.5 103.9,89.0 104.9,89.4 105.9,89.8 106.9,90.2 107.9,90.5 108.9,90.8 109.9,91.1 110.9,91.4 111.9,91.6 112.9,91.9 113.9,92.1 114.9,92.3 115.9,92.5 116.9,92.7 117.9,92.8 118.9,93.0 119.9,93.1 120.9,93.2 121.9,93.4 122.9,93.5 123.9,93.6 124.9,93.7 125.9,93.8 126.9,93.9 127.9,94.0 128.9,94.1 129.9,94.2 130.9,94.2 131.9,94.3 132.9,94.4 133.9,94.4 134.9,94.5 135.9,94.5 136.9,94.6 137.9,94.6 138.9,94.7 139.9,94.7 140.9,94.8 141.9,94.8 142.9,94.8 143.9,94.9 144.9,94.9 145.9,94.9 146.9,95.0" fill="none" stroke="#f0a030" stroke-width="0.85" stroke-dasharray="3.2,1.7" />
<path d="M25.9,15.8 26.9,15.9 27.9,16.0 28.9,16.0 29.9,16.1 30.9,16.2 31.9,16.3 32.9,16.4 33.9,16.5 34.9,16.6 35.9,16.7 36.9,16.9 37.9,17.0 38.9,17.2 39.9,17.3 40.9,17.5 41.9,17.7 42.9,17.8 43.9,18.1 44.9,18.3 45.9,18.5 46.9,18.8 47.9,19.0 48.9,19.3 49.9,19.6 50.9,20.0 51.9,20.3 52.9,20.7 53.9,21.2 54.9,21.7 55.9,22.2 56.9,22.7 57.9,23.4 58.9,24.0 59.9,24.8 60.9,25.6 61.9,26.5 62.9,27.5 63.9,28.6 64.9,29.8 65.9,31.2 66.9,32.6 67.9,34.2 68.9,35.9 69.9,37.7 70.9,39.7 71.9,41.8 72.9,44.0 73.9,46.4 74.9,48.8 75.9,51.3 76.9,53.8 77.9,56.3 78.9,58.8 79.9,61.3 80.9,63.7 81.9,66.1 82.9,68.3 83.9,70.4 84.9,72.4 85.9,74.2 86.9,75.9 87.9,77.5 88.9,78.9 89.9,80.3 90.9,81.5 91.9,82.6 92.9,83.6 93.9,84.5 94.9,85.3 95.9,86.1 96.9,86.7 97.9,87.4 98.9,87.9 99.9,88.4 100.9,88.9 101.9,89.4 102.9,89.8 103.9,90.1 104.9,90.5 105.9,90.8 106.9,91.1 107.9,91.3 108.9,91.6 109.9,91.8 110.9,92.0 111.9,92.3 112.9,92.4 113.9,92.6 114.9,92.8 115.9,92.9 116.9,93.1 117.9,93.2 118.9,93.4 119.9,93.5 120.9,93.6 121.9,93.7 122.9,93.8 123.9,93.9 124.9,94.0 125.9,94.1 126.9,94.1 127.9,94.2 128.9,94.3 129.9,94.3 130.9,94.4 131.9,94.5 132.9,94.5 133.9,94.6 134.9,94.6 135.9,94.7 136.9,94.7 137.9,94.8 138.9,94.8 139.9,94.8 140.9,94.9 141.9,94.9 142.9,94.9 143.9,94.9 144.9,95.0 145.9,95.0 146.9,95.0" fill="none" stroke="#e0a820" stroke-width="0.85" />
<path d="M25.9,15.8 26.9,15.9 27.9,16.0 28.9,16.1 29.9,16.2 30.9,16.3 31.9,16.3 32.9,16.4 33.9,16.6 34.9,16.7 35.9,16.8 36.9,16.9 37.9,17.1 38.9,17.2 39.9,17.4 40.9,17.6 41.9,17.7 42.9,17.9 43.9,18.1 44.9,18.4 45.9,18.6 46.9,18.9 47.9,19.1 48.9,19.4 49.9,19.8 50.9,20.1 51.9,20.5 52.9,20.9 53.9,21.4 54.9,21.9 55.9,22.4 56.9,23.0 57.9,23.6 58.9,24.3 59.9,25.1 60.9,26.0 61.9,26.9 62.9,28.0 63.9,29.1 64.9,30.4 65.9,31.7 66.9,33.2 67.9,34.9 68.9,36.6 69.9,38.5 70.9,40.5 71.9,42.7 72.9,45.0 73.9,47.3 74.9,49.8 75.9,52.3 76.9,54.8 77.9,57.3 78.9,59.8 79.9,62.3 80.9,64.7 81.9,67.0 82.9,69.1 83.9,71.2 84.9,73.1 85.9,74.9 86.9,76.6 87.9,78.1 88.9,79.5 89.9,80.8 90.9,81.9 91.9,83.0 92.9,83.9 93.9,84.8 94.9,85.6 95.9,86.3 96.9,87.0 97.9,87.6 98.9,88.1 99.9,88.6 100.9,89.1 101.9,89.5 102.9,89.9 103.9,90.3 104.9,90.6 105.9,90.9 106.9,91.2 107.9,91.4 108.9,91.7 109.9,91.9 110.9,92.1 111.9,92.3 112.9,92.5 113.9,92.7 114.9,92.8 115.9,93.0 116.9,93.1 117.9,93.3 118.9,93.4 119.9,93.5 120.9,93.6 121.9,93.7 122.9,93.8 123.9,93.9 124.9,94.0 125.9,94.1 126.9,94.2 127.9,94.2 128.9,94.3 129.9,94.4 130.9,94.4 131.9,94.5 132.9,94.5 133.9,94.6 134.9,94.6 135.9,94.7 136.9,94.7 137.9,94.8 138.9,94.8 139.9,94.8 140.9,94.9 141.9,94.9 142.9,94.9 143.9,95.0 144.9,95.0 145.9,95.0 146.9,95.0" fill="none" stroke="#f0d020" stroke-width="0.95" />
<path d="M25.9,18.9 26.9,19.0 27.9,19.2 28.9,19.4 29.9,19.6 30.9,19.8 31.9,20.1 32.9,20.3 33.9,20.6 34.9,20.9 35.9,21.2 36.9,21.6 37.9,22.0 38.9,22.4 39.9,22.9 40.9,23.4 41.9,23.9 42.9,24.6 43.9,25.2 44.9,26.0 45.9,26.8 46.9,27.7 47.9,28.7 48.9,29.8 49.9,31.0 50.9,32.4 51.9,33.8 52.9,35.4 53.9,37.2 54.9,39.1 55.9,41.1 56.9,43.3 57.9,45.6 58.9,48.0 59.9,50.5 60.9,53.0 61.9,55.6 62.9,58.2 63.9,60.7 64.9,63.2 65.9,65.7 66.9,68.0 67.9,70.2 68.9,72.2 69.9,74.2 70.9,75.9 71.9,77.6 72.9,79.1 73.9,80.4 74.9,81.7 75.9,82.8 76.9,83.8 77.9,84.8 78.9,85.6 79.9,86.3 80.9,87.0 81.9,87.7 82.9,88.2 83.9,88.7 84.9,89.2 85.9,89.6 86.9,90.0 87.9,90.4 88.9,90.7 89.9,91.0 90.9,91.3 91.9,91.6 92.9,91.8 93.9,92.1 94.9,92.3 95.9,92.5 96.9,92.6 97.9,92.8 98.9,93.0 99.9,93.1 100.9,93.3 101.9,93.4 102.9,93.5 103.9,93.6 104.9,93.7 105.9,93.8 106.9,93.9 107.9,94.0 108.9,94.1 109.9,94.2 110.9,94.3 111.9,94.3 112.9,94.4 113.9,94.5 114.9,94.5 115.9,94.6 116.9,94.6 117.9,94.7 118.9,94.7 119.9,94.8 120.9,94.8 121.9,94.8 122.9,94.9 123.9,94.9 124.9,94.9 125.9,95.0 126.9,95.0 127.9,95.0 128.9,95.0 129.9,95.1 130.9,95.1 131.9,95.1 132.9,95.1 133.9,95.1 134.9,95.2 135.9,95.2 136.9,95.2 137.9,95.2 138.9,95.2 139.9,95.2 140.9,95.2 141.9,95.2 142.9,95.3 143.9,95.3 144.9,95.3 145.9,95.3 146.9,95.3" fill="none" stroke="#e86020" stroke-width="0.85" />
<line x1="25.90" y1="14.40" x2="25.90" y2="95.90" stroke="#1a1a1a" stroke-width="1.25" />
<line x1="25.40" y1="95.40" x2="147.60" y2="95.40" stroke="#1a1a1a" stroke-width="1.3" />
<line x1="22.90" y1="95.40" x2="25.90" y2="95.40" stroke="#1a1a1a" stroke-width="0.9" />
<g fill="#111" transform="translate(11.40,97.80) scale(1.0800,1)"><text x="0.00" y="0.00" font-size="7.0" style="font-weight:bold">0.0</text></g>
<line x1="22.90" y1="79.26" x2="25.90" y2="79.26" stroke="#1a1a1a" stroke-width="0.9" />
<g fill="#111" transform="translate(11.40,81.66) scale(1.0792,1)"><text x="0.00" y="0.00" font-size="7.0" style="font-weight:bold">0.2</text></g>
<line x1="22.90" y1="63.12" x2="25.90" y2="63.12" stroke="#1a1a1a" stroke-width="0.9" />
<g fill="#111" transform="translate(11.41,65.52) scale(1.0513,1)"><text x="0.00" y="0.00" font-size="7.0" style="font-weight:bold">0.4</text></g>
<line x1="22.90" y1="46.98" x2="25.90" y2="46.98" stroke="#1a1a1a" stroke-width="0.9" />
<g fill="#111" transform="translate(11.40,49.38) scale(1.0759,1)"><text x="0.00" y="0.00" font-size="7.0" style="font-weight:bold">0.6</text></g>
<line x1="22.90" y1="30.84" x2="25.90" y2="30.84" stroke="#1a1a1a" stroke-width="0.9" />
<g fill="#111" transform="translate(11.40,33.24) scale(1.0716,1)"><text x="0.00" y="0.00" font-size="7.0" style="font-weight:bold">0.8</text></g>
<line x1="22.90" y1="14.70" x2="25.90" y2="14.70" stroke="#1a1a1a" stroke-width="0.9" />
<g fill="#111" transform="translate(11.22,17.10) scale(1.0996,1)"><text x="0.00" y="0.00" font-size="7.0" style="font-weight:bold">1.0</text></g>
<line x1="25.90" y1="95.40" x2="25.90" y2="98.40" stroke="#1a1a1a" stroke-width="0.9" />
<line x1="33.25" y1="95.40" x2="33.25" y2="97.80" stroke="#1a1a1a" stroke-width="0.9" />
<line x1="37.54" y1="95.40" x2="37.54" y2="97.80" stroke="#1a1a1a" stroke-width="0.9" />
<line x1="40.59" y1="95.40" x2="40.59" y2="97.80" stroke="#1a1a1a" stroke-width="0.9" />
<line x1="42.95" y1="95.40" x2="42.95" y2="97.80" stroke="#1a1a1a" stroke-width="0.9" />
<line x1="44.89" y1="95.40" x2="44.89" y2="97.80" stroke="#1a1a1a" stroke-width="0.9" />
<line x1="46.52" y1="95.40" x2="46.52" y2="97.80" stroke="#1a1a1a" stroke-width="0.9" />
<line x1="47.94" y1="95.40" x2="47.94" y2="97.80" stroke="#1a1a1a" stroke-width="0.9" />
<line x1="49.18" y1="95.40" x2="49.18" y2="97.80" stroke="#1a1a1a" stroke-width="0.9" />
<line x1="50.30" y1="95.40" x2="50.30" y2="98.40" stroke="#1a1a1a" stroke-width="0.9" />
<line x1="57.65" y1="95.40" x2="57.65" y2="97.80" stroke="#1a1a1a" stroke-width="0.9" />
<line x1="61.94" y1="95.40" x2="61.94" y2="97.80" stroke="#1a1a1a" stroke-width="0.9" />
<line x1="64.99" y1="95.40" x2="64.99" y2="97.80" stroke="#1a1a1a" stroke-width="0.9" />
<line x1="67.35" y1="95.40" x2="67.35" y2="97.80" stroke="#1a1a1a" stroke-width="0.9" />
<line x1="69.29" y1="95.40" x2="69.29" y2="97.80" stroke="#1a1a1a" stroke-width="0.9" />
<line x1="70.92" y1="95.40" x2="70.92" y2="97.80" stroke="#1a1a1a" stroke-width="0.9" />
<line x1="72.34" y1="95.40" x2="72.34" y2="97.80" stroke="#1a1a1a" stroke-width="0.9" />
<line x1="73.58" y1="95.40" x2="73.58" y2="97.80" stroke="#1a1a1a" stroke-width="0.9" />
<line x1="74.70" y1="95.40" x2="74.70" y2="98.40" stroke="#1a1a1a" stroke-width="0.9" />
<line x1="82.05" y1="95.40" x2="82.05" y2="97.80" stroke="#1a1a1a" stroke-width="0.9" />
<line x1="86.34" y1="95.40" x2="86.34" y2="97.80" stroke="#1a1a1a" stroke-width="0.9" />
<line x1="89.39" y1="95.40" x2="89.39" y2="97.80" stroke="#1a1a1a" stroke-width="0.9" />
<line x1="91.75" y1="95.40" x2="91.75" y2="97.80" stroke="#1a1a1a" stroke-width="0.9" />
<line x1="93.69" y1="95.40" x2="93.69" y2="97.80" stroke="#1a1a1a" stroke-width="0.9" />
<line x1="95.32" y1="95.40" x2="95.32" y2="97.80" stroke="#1a1a1a" stroke-width="0.9" />
<line x1="96.74" y1="95.40" x2="96.74" y2="97.80" stroke="#1a1a1a" stroke-width="0.9" />
<line x1="97.98" y1="95.40" x2="97.98" y2="97.80" stroke="#1a1a1a" stroke-width="0.9" />
<line x1="99.10" y1="95.40" x2="99.10" y2="98.40" stroke="#1a1a1a" stroke-width="0.9" />
<line x1="106.45" y1="95.40" x2="106.45" y2="97.80" stroke="#1a1a1a" stroke-width="0.9" />
<line x1="110.74" y1="95.40" x2="110.74" y2="97.80" stroke="#1a1a1a" stroke-width="0.9" />
<line x1="113.79" y1="95.40" x2="113.79" y2="97.80" stroke="#1a1a1a" stroke-width="0.9" />
<line x1="116.15" y1="95.40" x2="116.15" y2="97.80" stroke="#1a1a1a" stroke-width="0.9" />
<line x1="118.09" y1="95.40" x2="118.09" y2="97.80" stroke="#1a1a1a" stroke-width="0.9" />
<line x1="119.72" y1="95.40" x2="119.72" y2="97.80" stroke="#1a1a1a" stroke-width="0.9" />
<line x1="121.14" y1="95.40" x2="121.14" y2="97.80" stroke="#1a1a1a" stroke-width="0.9" />
<line x1="122.38" y1="95.40" x2="122.38" y2="97.80" stroke="#1a1a1a" stroke-width="0.9" />
<line x1="123.50" y1="95.40" x2="123.50" y2="98.40" stroke="#1a1a1a" stroke-width="0.9" />
<line x1="130.85" y1="95.40" x2="130.85" y2="97.80" stroke="#1a1a1a" stroke-width="0.9" />
<line x1="135.14" y1="95.40" x2="135.14" y2="97.80" stroke="#1a1a1a" stroke-width="0.9" />
<line x1="138.19" y1="95.40" x2="138.19" y2="97.80" stroke="#1a1a1a" stroke-width="0.9" />
<line x1="140.55" y1="95.40" x2="140.55" y2="97.80" stroke="#1a1a1a" stroke-width="0.9" />
<line x1="142.49" y1="95.40" x2="142.49" y2="97.80" stroke="#1a1a1a" stroke-width="0.9" />
<line x1="144.12" y1="95.40" x2="144.12" y2="97.80" stroke="#1a1a1a" stroke-width="0.9" />
<line x1="145.54" y1="95.40" x2="145.54" y2="97.80" stroke="#1a1a1a" stroke-width="0.9" />
<line x1="146.78" y1="95.40" x2="146.78" y2="97.80" stroke="#1a1a1a" stroke-width="0.9" />
<line x1="147.90" y1="95.40" x2="147.90" y2="98.40" stroke="#1a1a1a" stroke-width="0.9" />
<g fill="#111" transform="translate(23.83,105.10) scale(1.0000,1)"><text x="0.00" y="0.00" font-size="7.0" style="font-weight:bold">1</text></g>
<g fill="#111" transform="translate(47.13,105.10) scale(1.0000,1)"><text x="0.00" y="0.00" font-size="7.0" style="font-weight:bold">10</text></g>
<g fill="#111" transform="translate(69.78,105.10) scale(1.0000,1)"><text x="0.00" y="0.00" font-size="7.0" style="font-weight:bold">100</text></g>
<g fill="#111" transform="translate(92.44,105.10) scale(1.0000,1)"><text x="0.00" y="0.00" font-size="7.0" style="font-weight:bold">1000</text></g>
<g fill="#111" transform="translate(115.09,105.10) scale(1.0000,1)"><text x="0.00" y="0.00" font-size="7.0" style="font-weight:bold">10000</text></g>
<g fill="#111" transform="translate(140.44,105.10) scale(1.0000,1)"><text x="0.00" y="0.00" font-size="7.0" style="font-weight:bold">100000</text></g>
<g fill="#111" transform="translate(87.03,22.30) scale(1.0688,1)"><text x="0.00" y="0.00" font-size="8.8" style="font-weight:bold;font-style:italic">MLL-AF4</text></g>
<g fill="#111" transform="translate(96.50,31.60) scale(1.0655,1)"><text x="0.00" y="0.00" font-size="8.6" style="font-weight:bold">n= 28</text></g>
<g fill="#111" transform="translate(7.20,96.57) rotate(-90) scale(1.0569,1)"><text x="0.00" y="0.00" font-size="9.0" style="font-weight:bold">Survivng Fraction</text></g>
<g fill="#111" transform="translate(58.62,115.30) scale(0.9996,1)"><text x="0.00" y="0.00" font-size="9.3" style="font-weight:bold">Obatoclax (nM)</text></g>
</g>
<g id="ENL">
<path d="M199.4,26.8 200.4,27.4 201.4,27.9 202.4,28.6 203.4,29.2 204.4,29.9 205.4,30.6 206.4,31.4 207.4,32.2 208.4,33.0 209.4,33.9 210.4,34.8 211.4,35.7 212.4,36.7 213.4,37.7 214.4,38.8 215.4,39.9 216.4,41.0 217.4,42.2 218.4,43.4 219.4,44.6 220.4,45.9 221.4,47.2 222.4,48.5 223.4,49.8 224.4,51.2 225.4,52.5 226.4,53.9 227.4,55.3 228.4,56.7 229.4,58.1 230.4,59.4 231.4,60.8 232.4,62.2 233.4,63.5 234.4,64.9 235.4,66.2 236.4,67.5 237.4,68.8 238.4,70.0 239.4,71.2 240.4,72.4 241.4,73.6 242.4,74.7 243.4,75.7 244.4,76.8 245.4,77.8 246.4,78.7 247.4,79.7 248.4,80.5 249.4,81.4 250.4,82.2 251.4,83.0 252.4,83.7 253.4,84.4 254.4,85.1 255.4,85.7 256.4,86.3 257.4,86.9 258.4,87.4 259.4,87.9 260.4,88.4 261.4,88.8 262.4,89.2 263.4,89.6 264.4,90.0 265.4,90.4 266.4,90.7 267.4,91.0 268.4,91.3 269.4,91.6 270.4,91.8 271.4,92.1 272.4,92.3 273.4,92.5 274.4,92.7 275.4,92.9 276.4,93.0 277.4,93.2 278.4,93.3 279.4,93.5 280.4,93.6 281.4,93.7 282.4,93.9 283.4,94.0 284.4,94.1 285.4,94.1 286.4,94.2 287.4,94.3 288.4,94.4 289.4,94.5 290.4,94.5 291.4,94.6 292.4,94.6 293.4,94.7 294.4,94.7 295.4,94.8 296.4,94.8 297.4,94.9 298.4,94.9 299.4,94.9 300.4,95.0 301.4,95.0 302.4,95.0 303.4,95.1 304.4,95.1 305.4,95.1 306.4,95.1 307.4,95.1 308.4,95.2 309.4,95.2 310.4,95.2 311.4,95.2 312.4,95.2 313.4,95.2 314.4,95.2 315.4,95.3 316.4,95.3 317.4,95.3 318.4,95.3 319.4,95.3 320.4,95.3" fill="none" stroke="#111" stroke-width="1.35" stroke-dasharray="0.5,1.8" stroke-linecap="round"/>
<path d="M199.4,20.3 200.4,20.6 201.4,20.8 202.4,21.0 203.4,21.3 204.4,21.6 205.4,21.9 206.4,22.3 207.4,22.7 208.4,23.1 209.4,23.5 210.4,24.0 211.4,24.6 212.4,25.1 213.4,25.8 214.4,26.5 215.4,27.3 216.4,28.2 217.4,29.2 218.4,30.2 219.4,31.4 220.4,32.7 221.4,34.2 222.4,35.7 223.4,37.4 224.4,39.3 225.4,41.3 226.4,43.4 227.4,45.6 228.4,48.0 229.4,50.4 230.4,52.9 231.4,55.5 232.4,58.1 233.4,60.6 234.4,63.1 235.4,65.5 236.4,67.8 237.4,70.0 238.4,72.1 239.4,74.0 240.4,75.8 241.4,77.4 242.4,79.0 243.4,80.3 244.4,81.6 245.4,82.7 246.4,83.8 247.4,84.7 248.4,85.5 249.4,86.3 250.4,87.0 251.4,87.6 252.4,88.2 253.4,88.7 254.4,89.2 255.4,89.6 256.4,90.0 257.4,90.4 258.4,90.7 259.4,91.0 260.4,91.3 261.4,91.6 262.4,91.8 263.4,92.0 264.4,92.3 265.4,92.5 266.4,92.6 267.4,92.8 268.4,93.0 269.4,93.1 270.4,93.3 271.4,93.4 272.4,93.5 273.4,93.6 274.4,93.7 275.4,93.8 276.4,93.9 277.4,94.0 278.4,94.1 279.4,94.2 280.4,94.3 281.4,94.3 282.4,94.4 283.4,94.5 284.4,94.5 285.4,94.6 286.4,94.6 287.4,94.7 288.4,94.7 289.4,94.8 290.4,94.8 291.4,94.8 292.4,94.9 293.4,94.9 294.4,94.9 295.4,95.0 296.4,95.0 297.4,95.0 298.4,95.0 299.4,95.1 300.4,95.1 301.4,95.1 302.4,95.1 303.4,95.1 304.4,95.2 305.4,95.2 306.4,95.2 307.4,95.2 308.4,95.2 309.4,95.2 310.4,95.2 311.4,95.2 312.4,95.3 313.4,95.3 314.4,95.3 315.4,95.3 316.4,95.3 317.4,95.3 318.4,95.3 319.4,95.3 320.4,95.3" fill="none" stroke="#c03080" stroke-width="0.85" />
<path d="M199.4,20.1 200.4,20.3 201.4,20.5 202.4,20.7 203.4,21.0 204.4,21.2 205.4,21.5 206.4,21.8 207.4,22.2 208.4,22.5 209.4,22.9 210.4,23.4 211.4,23.9 212.4,24.4 213.4,25.0 214.4,25.6 215.4,26.3 216.4,27.1 217.4,27.9 218.4,28.9 219.4,29.9 220.4,31.1 221.4,32.3 222.4,33.7 223.4,35.2 224.4,36.9 225.4,38.7 226.4,40.7 227.4,42.7 228.4,44.9 229.4,47.3 230.4,49.7 231.4,52.2 232.4,54.7 233.4,57.3 234.4,59.8 235.4,62.3 236.4,64.8 237.4,67.1 238.4,69.4 239.4,71.5 240.4,73.4 241.4,75.3 242.4,77.0 243.4,78.5 244.4,79.9 245.4,81.2 246.4,82.4 247.4,83.5 248.4,84.4 249.4,85.3 250.4,86.1 251.4,86.8 252.4,87.4 253.4,88.0 254.4,88.6 255.4,89.0 256.4,89.5 257.4,89.9 258.4,90.3 259.4,90.6 260.4,90.9 261.4,91.2 262.4,91.5 263.4,91.7 264.4,92.0 265.4,92.2 266.4,92.4 267.4,92.6 268.4,92.8 269.4,92.9 270.4,93.1 271.4,93.2 272.4,93.4 273.4,93.5 274.4,93.6 275.4,93.7 276.4,93.8 277.4,93.9 278.4,94.0 279.4,94.1 280.4,94.2 281.4,94.2 282.4,94.3 283.4,94.4 284.4,94.4 285.4,94.5 286.4,94.6 287.4,94.6 288.4,94.7 289.4,94.7 290.4,94.7 291.4,94.8 292.4,94.8 293.4,94.9 294.4,94.9 295.4,94.9 296.4,95.0 297.4,95.0 298.4,95.0 299.4,95.0 300.4,95.1 301.4,95.1 302.4,95.1 303.4,95.1 304.4,95.1 305.4,95.1 306.4,95.2 307.4,95.2 308.4,95.2 309.4,95.2 310.4,95.2 311.4,95.2 312.4,95.2 313.4,95.2 314.4,95.3 315.4,95.3 316.4,95.3 317.4,95.3 318.4,95.3 319.4,95.3 320.4,95.3" fill="none" stroke="#7a3090" stroke-width="0.85" />
<path d="M199.4,20.4 200.4,20.6 201.4,20.8 202.4,21.0 203.4,21.2 204.4,21.4 205.4,21.6 206.4,21.9 207.4,22.1 208.4,22.4 209.4,22.8 210.4,23.1 211.4,23.5 212.4,23.9 213.4,24.4 214.4,24.9 215.4,25.4 216.4,26.0 217.4,26.7 218.4,27.4 219.4,28.2 220.4,29.1 221.4,30.1 222.4,31.1 223.4,32.3 224.4,33.6 225.4,35.1 226.4,36.7 227.4,38.4 228.4,40.2 229.4,42.2 230.4,44.4 231.4,46.6 232.4,49.0 233.4,51.4 234.4,53.9 235.4,56.4 236.4,58.9 237.4,61.4 238.4,63.9 239.4,66.3 240.4,68.5 241.4,70.7 242.4,72.7 243.4,74.6 244.4,76.3 245.4,77.9 246.4,79.4 247.4,80.7 248.4,82.0 249.4,83.1 250.4,84.1 251.4,85.0 252.4,85.8 253.4,86.5 254.4,87.2 255.4,87.8 256.4,88.4 257.4,88.9 258.4,89.3 259.4,89.8 260.4,90.1 261.4,90.5 262.4,90.8 263.4,91.1 264.4,91.4 265.4,91.7 266.4,91.9 267.4,92.1 268.4,92.3 269.4,92.5 270.4,92.7 271.4,92.9 272.4,93.0 273.4,93.2 274.4,93.3 275.4,93.4 276.4,93.6 277.4,93.7 278.4,93.8 279.4,93.9 280.4,94.0 281.4,94.1 282.4,94.1 283.4,94.2 284.4,94.3 285.4,94.4 286.4,94.4 287.4,94.5 288.4,94.5 289.4,94.6 290.4,94.6 291.4,94.7 292.4,94.7 293.4,94.8 294.4,94.8 295.4,94.8 296.4,94.9 297.4,94.9 298.4,94.9 299.4,95.0 300.4,95.0 301.4,95.0 302.4,95.0 303.4,95.1 304.4,95.1 305.4,95.1 306.4,95.1 307.4,95.1 308.4,95.2 309.4,95.2 310.4,95.2 311.4,95.2 312.4,95.2 313.4,95.2 314.4,95.2 315.4,95.2 316.4,95.3 317.4,95.3 318.4,95.3 319.4,95.3 320.4,95.3" fill="none" stroke="#4060c8" stroke-width="1.05" stroke-dasharray="0.5,1.8" stroke-linecap="round"/>
<path d="M199.4,19.3 200.4,19.4 201.4,19.6 202.4,19.7 203.4,19.9 204.4,20.1 205.4,20.3 206.4,20.5 207.4,20.7 208.4,21.0 209.4,21.2 210.4,21.5 211.4,21.8 212.4,22.2 213.4,22.5 214.4,22.9 215.4,23.4 216.4,23.9 217.4,24.4 218.4,25.0 219.4,25.6 220.4,26.3 221.4,27.1 222.4,27.9 223.4,28.9 224.4,29.9 225.4,31.1 226.4,32.3 227.4,33.7 228.4,35.2 229.4,36.9 230.4,38.7 231.4,40.7 232.4,42.7 233.4,44.9 234.4,47.3 235.4,49.7 236.4,52.2 237.4,54.7 238.4,57.3 239.4,59.8 240.4,62.3 241.4,64.8 242.4,67.1 243.4,69.4 244.4,71.5 245.4,73.4 246.4,75.3 247.4,77.0 248.4,78.5 249.4,79.9 250.4,81.2 251.4,82.4 252.4,83.5 253.4,84.4 254.4,85.3 255.4,86.1 256.4,86.8 257.4,87.4 258.4,88.0 259.4,88.6 260.4,89.0 261.4,89.5 262.4,89.9 263.4,90.3 264.4,90.6 265.4,90.9 266.4,91.2 267.4,91.5 268.4,91.7 269.4,92.0 270.4,92.2 271.4,92.4 272.4,92.6 273.4,92.8 274.4,92.9 275.4,93.1 276.4,93.2 277.4,93.4 278.4,93.5 279.4,93.6 280.4,93.7 281.4,93.8 282.4,93.9 283.4,94.0 284.4,94.1 285.4,94.2 286.4,94.2 287.4,94.3 288.4,94.4 289.4,94.4 290.4,94.5 291.4,94.6 292.4,94.6 293.4,94.7 294.4,94.7 295.4,94.7 296.4,94.8 297.4,94.8 298.4,94.9 299.4,94.9 300.4,94.9 301.4,95.0 302.4,95.0 303.4,95.0 304.4,95.0 305.4,95.1 306.4,95.1 307.4,95.1 308.4,95.1 309.4,95.1 310.4,95.1 311.4,95.2 312.4,95.2 313.4,95.2 314.4,95.2 315.4,95.2 316.4,95.2 317.4,95.2 318.4,95.2 319.4,95.3 320.4,95.3" fill="none" stroke="#3050b0" stroke-width="0.85" stroke-dasharray="3.2,1.7" />
<path d="M199.4,18.2 200.4,18.4 201.4,18.5 202.4,18.6 203.4,18.8 204.4,18.9 205.4,19.1 206.4,19.3 207.4,19.5 208.4,19.7 209.4,20.0 210.4,20.2 211.4,20.5 212.4,20.8 213.4,21.1 214.4,21.4 215.4,21.8 216.4,22.2 217.4,22.6 218.4,23.1 219.4,23.7 220.4,24.2 221.4,24.9 222.4,25.6 223.4,26.4 224.4,27.2 225.4,28.2 226.4,29.2 227.4,30.4 228.4,31.7 229.4,33.1 230.4,34.6 231.4,36.3 232.4,38.1 233.4,40.1 234.4,42.2 235.4,44.4 236.4,46.8 237.4,49.2 238.4,51.7 239.4,54.3 240.4,56.9 241.4,59.5 242.4,62.0 243.4,64.5 244.4,66.8 245.4,69.1 246.4,71.2 247.4,73.2 248.4,75.1 249.4,76.8 250.4,78.3 251.4,79.8 252.4,81.1 253.4,82.3 254.4,83.3 255.4,84.3 256.4,85.2 257.4,86.0 258.4,86.7 259.4,87.4 260.4,87.9 261.4,88.5 262.4,89.0 263.4,89.4 264.4,89.8 265.4,90.2 266.4,90.6 267.4,90.9 268.4,91.2 269.4,91.5 270.4,91.7 271.4,91.9 272.4,92.2 273.4,92.4 274.4,92.6 275.4,92.7 276.4,92.9 277.4,93.1 278.4,93.2 279.4,93.3 280.4,93.5 281.4,93.6 282.4,93.7 283.4,93.8 284.4,93.9 285.4,94.0 286.4,94.1 287.4,94.2 288.4,94.2 289.4,94.3 290.4,94.4 291.4,94.4 292.4,94.5 293.4,94.5 294.4,94.6 295.4,94.6 296.4,94.7 297.4,94.7 298.4,94.8 299.4,94.8 300.4,94.9 301.4,94.9 302.4,94.9 303.4,94.9 304.4,95.0 305.4,95.0 306.4,95.0 307.4,95.0 308.4,95.1 309.4,95.1 310.4,95.1 311.4,95.1 312.4,95.1 313.4,95.2 314.4,95.2 315.4,95.2 316.4,95.2 317.4,95.2 318.4,95.2 319.4,95.2 320.4,95.2" fill="none" stroke="#2a2a70" stroke-width="0.85" />
<path d="M199.4,17.3 200.4,17.4 201.4,17.6 202.4,17.7 203.4,17.8 204.4,18.0 205.4,18.2 206.4,18.3 207.4,18.5 208.4,18.7 209.4,19.0 210.4,19.2 211.4,19.4 212.4,19.7 213.4,20.0 214.4,20.3 215.4,20.7 216.4,21.0 217.4,21.5 218.4,21.9 219.4,22.4 220.4,22.9 221.4,23.5 222.4,24.2 223.4,24.9 224.4,25.7 225.4,26.5 226.4,27.5 227.4,28.6 228.4,29.7 229.4,31.0 230.4,32.4 231.4,34.0 232.4,35.7 233.4,37.5 234.4,39.5 235.4,41.6 236.4,43.9 237.4,46.3 238.4,48.7 239.4,51.3 240.4,53.9 241.4,56.5 242.4,59.1 243.4,61.7 244.4,64.1 245.4,66.5 246.4,68.8 247.4,71.0 248.4,73.0 249.4,74.9 250.4,76.6 251.4,78.2 252.4,79.6 253.4,80.9 254.4,82.1 255.4,83.2 256.4,84.2 257.4,85.1 258.4,85.9 259.4,86.6 260.4,87.3 261.4,87.9 262.4,88.4 263.4,88.9 264.4,89.4 265.4,89.8 266.4,90.2 267.4,90.5 268.4,90.8 269.4,91.1 270.4,91.4 271.4,91.7 272.4,91.9 273.4,92.1 274.4,92.3 275.4,92.5 276.4,92.7 277.4,92.9 278.4,93.0 279.4,93.2 280.4,93.3 281.4,93.4 282.4,93.6 283.4,93.7 284.4,93.8 285.4,93.9 286.4,94.0 287.4,94.1 288.4,94.1 289.4,94.2 290.4,94.3 291.4,94.4 292.4,94.4 293.4,94.5 294.4,94.5 295.4,94.6 296.4,94.6 297.4,94.7 298.4,94.7 299.4,94.8 300.4,94.8 301.4,94.8 302.4,94.9 303.4,94.9 304.4,94.9 305.4,95.0 306.4,95.0 307.4,95.0 308.4,95.0 309.4,95.1 310.4,95.1 311.4,95.1 312.4,95.1 313.4,95.1 314.4,95.2 315.4,95.2 316.4,95.2 317.4,95.2 318.4,95.2 319.4,95.2 320.4,95.2" fill="none" stroke="#3050c8" stroke-width="0.85" />
<path d="M199.4,16.3 200.4,16.4 201.4,16.5 202.4,16.6 203.4,16.7 204.4,16.8 205.4,17.0 206.4,17.1 207.4,17.3 208.4,17.5 209.4,17.7 210.4,17.9 211.4,18.1 212.4,18.3 213.4,18.5 214.4,18.8 215.4,19.1 216.4,19.4 217.4,19.7 218.4,20.1 219.4,20.5 220.4,20.9 221.4,21.4 222.4,21.9 223.4,22.5 224.4,23.1 225.4,23.8 226.4,24.6 227.4,25.4 228.4,26.3 229.4,27.3 230.4,28.5 231.4,29.7 232.4,31.1 233.4,32.6 234.4,34.2 235.4,36.0 236.4,37.9 237.4,40.0 238.4,42.2 239.4,44.6 240.4,47.0 241.4,49.6 242.4,52.2 243.4,54.8 244.4,57.4 245.4,60.0 246.4,62.6 247.4,65.0 248.4,67.4 249.4,69.7 250.4,71.8 251.4,73.7 252.4,75.5 253.4,77.2 254.4,78.7 255.4,80.1 256.4,81.4 257.4,82.6 258.4,83.6 259.4,84.5 260.4,85.4 261.4,86.2 262.4,86.9 263.4,87.5 264.4,88.1 265.4,88.6 266.4,89.1 267.4,89.5 268.4,89.9 269.4,90.3 270.4,90.6 271.4,90.9 272.4,91.2 273.4,91.5 274.4,91.8 275.4,92.0 276.4,92.2 277.4,92.4 278.4,92.6 279.4,92.8 280.4,92.9 281.4,93.1 282.4,93.2 283.4,93.4 284.4,93.5 285.4,93.6 286.4,93.7 287.4,93.8 288.4,93.9 289.4,94.0 290.4,94.1 291.4,94.2 292.4,94.2 293.4,94.3 294.4,94.4 295.4,94.4 296.4,94.5 297.4,94.6 298.4,94.6 299.4,94.7 300.4,94.7 301.4,94.7 302.4,94.8 303.4,94.8 304.4,94.9 305.4,94.9 306.4,94.9 307.4,95.0 308.4,95.0 309.4,95.0 310.4,95.0 311.4,95.1 312.4,95.1 313.4,95.1 314.4,95.1 315.4,95.1 316.4,95.1 317.4,95.2 318.4,95.2 319.4,95.2 320.4,95.2" fill="none" stroke="#151515" stroke-width="0.85" />
<path d="M199.4,16.2 200.4,16.3 201.4,16.4 202.4,16.5 203.4,16.6 204.4,16.7 205.4,16.8 206.4,17.0 207.4,17.1 208.4,17.3 209.4,17.5 210.4,17.7 211.4,17.9 212.4,18.1 213.4,18.3 214.4,18.5 215.4,18.8 216.4,19.1 217.4,19.4 218.4,19.7 219.4,20.1 220.4,20.5 221.4,20.9 222.4,21.4 223.4,21.9 224.4,22.5 225.4,23.1 226.4,23.8 227.4,24.6 228.4,25.4 229.4,26.3 230.4,27.3 231.4,28.5 232.4,29.7 233.4,31.1 234.4,32.6 235.4,34.2 236.4,36.0 237.4,37.9 238.4,40.0 239.4,42.2 240.4,44.6 241.4,47.0 242.4,49.6 243.4,52.2 244.4,54.8 245.4,57.4 246.4,60.0 247.4,62.6 248.4,65.0 249.4,67.4 250.4,69.7 251.4,71.8 252.4,73.7 253.4,75.5 254.4,77.2 255.4,78.7 256.4,80.1 257.4,81.4 258.4,82.6 259.4,83.6 260.4,84.5 261.4,85.4 262.4,86.2 263.4,86.9 264.4,87.5 265.4,88.1 266.4,88.6 267.4,89.1 268.4,89.5 269.4,89.9 270.4,90.3 271.4,90.6 272.4,90.9 273.4,91.2 274.4,91.5 275.4,91.8 276.4,92.0 277.4,92.2 278.4,92.4 279.4,92.6 280.4,92.8 281.4,92.9 282.4,93.1 283.4,93.2 284.4,93.4 285.4,93.5 286.4,93.6 287.4,93.7 288.4,93.8 289.4,93.9 290.4,94.0 291.4,94.1 292.4,94.2 293.4,94.2 294.4,94.3 295.4,94.4 296.4,94.4 297.4,94.5 298.4,94.6 299.4,94.6 300.4,94.7 301.4,94.7 302.4,94.7 303.4,94.8 304.4,94.8 305.4,94.9 306.4,94.9 307.4,94.9 308.4,95.0 309.4,95.0 310.4,95.0 311.4,95.0 312.4,95.1 313.4,95.1 314.4,95.1 315.4,95.1 316.4,95.1 317.4,95.1 318.4,95.2 319.4,95.2 320.4,95.2" fill="none" stroke="#2a8a3a" stroke-width="0.9" />
<path d="M199.4,15.8 200.4,15.9 201.4,15.9 202.4,16.0 203.4,16.1 204.4,16.2 205.4,16.3 206.4,16.4 207.4,16.5 208.4,16.7 209.4,16.8 210.4,16.9 211.4,17.1 212.4,17.3 213.4,17.4 214.4,17.6 215.4,17.8 216.4,18.1 217.4,18.3 218.4,18.6 219.4,18.8 220.4,19.1 221.4,19.5 222.4,19.8 223.4,20.2 224.4,20.7 225.4,21.1 226.4,21.6 227.4,22.2 228.4,22.8 229.4,23.5 230.4,24.3 231.4,25.1 232.4,26.1 233.4,27.1 234.4,28.3 235.4,29.6 236.4,31.0 237.4,32.6 238.4,34.3 239.4,36.2 240.4,38.3 241.4,40.5 242.4,42.8 243.4,45.3 244.4,47.9 245.4,50.6 246.4,53.4 247.4,56.2 248.4,58.9 249.4,61.6 250.4,64.2 251.4,66.8 252.4,69.1 253.4,71.4 254.4,73.5 255.4,75.4 256.4,77.2 257.4,78.8 258.4,80.2 259.4,81.5 260.4,82.7 261.4,83.8 262.4,84.8 263.4,85.6 264.4,86.4 265.4,87.1 266.4,87.8 267.4,88.4 268.4,88.9 269.4,89.4 270.4,89.8 271.4,90.2 272.4,90.6 273.4,90.9 274.4,91.2 275.4,91.5 276.4,91.8 277.4,92.0 278.4,92.2 279.4,92.4 280.4,92.6 281.4,92.8 282.4,93.0 283.4,93.1 284.4,93.3 285.4,93.4 286.4,93.5 287.4,93.7 288.4,93.8 289.4,93.9 290.4,94.0 291.4,94.1 292.4,94.1 293.4,94.2 294.4,94.3 295.4,94.4 296.4,94.4 297.4,94.5 298.4,94.6 299.4,94.6 300.4,94.7 301.4,94.7 302.4,94.8 303.4,94.8 304.4,94.8 305.4,94.9 306.4,94.9 307.4,94.9 308.4,95.0 309.4,95.0 310.4,95.0 311.4,95.0 312.4,95.1 313.4,95.1 314.4,95.1 315.4,95.1 316.4,95.1 317.4,95.2 318.4,95.2 319.4,95.2 320.4,95.2" fill="none" stroke="#1a4a2a" stroke-width="0.9" stroke-dasharray="3.2,1.7" />
<path d="M199.4,14.8 200.4,14.8 201.4,14.8 202.4,14.8 203.4,14.8 204.4,14.8 205.4,14.9 206.4,14.9 207.4,14.9 208.4,14.9 209.4,14.9 210.4,15.0 211.4,15.0 212.4,15.0 213.4,15.0 214.4,15.1 215.4,15.1 216.4,15.1 217.4,15.2 218.4,15.2 219.4,15.3 220.4,15.4 221.4,15.4 222.4,15.5 223.4,15.6 224.4,15.7 225.4,15.8 226.4,15.9 227.4,16.0 228.4,16.1 229.4,16.2 230.4,16.4 231.4,16.6 232.4,16.7 233.4,16.9 234.4,17.2 235.4,17.4 236.4,17.7 237.4,18.0 238.4,18.3 239.4,18.7 240.4,19.2 241.4,19.6 242.4,20.2 243.4,20.8 244.4,21.5 245.4,22.3 246.4,23.2 247.4,24.3 248.4,25.6 249.4,27.0 250.4,28.7 251.4,30.6 252.4,32.9 253.4,35.5 254.4,38.3 255.4,41.6 256.4,45.1 257.4,48.8 258.4,52.7 259.4,56.6 260.4,60.5 261.4,64.3 262.4,67.9 263.4,71.1 264.4,74.1 265.4,76.7 266.4,79.0 267.4,81.0 268.4,82.8 269.4,84.3 270.4,85.5 271.4,86.7 272.4,87.6 273.4,88.4 274.4,89.2 275.4,89.8 276.4,90.4 277.4,90.9 278.4,91.3 279.4,91.7 280.4,92.0 281.4,92.3 282.4,92.6 283.4,92.9 284.4,93.1 285.4,93.3 286.4,93.5 287.4,93.7 288.4,93.8 289.4,94.0 290.4,94.1 291.4,94.2 292.4,94.3 293.4,94.4 294.4,94.5 295.4,94.6 296.4,94.7 297.4,94.7 298.4,94.8 299.4,94.8 300.4,94.9 301.4,94.9 302.4,95.0 303.4,95.0 304.4,95.1 305.4,95.1 306.4,95.1 307.4,95.1 308.4,95.2 309.4,95.2 310.4,95.2 311.4,95.2 312.4,95.2 313.4,95.3 314.4,95.3 315.4,95.3 316.4,95.3 317.4,95.3 318.4,95.3 319.4,95.3 320.4,95.3" fill="none" stroke="#5ac050" stroke-width="0.95" stroke-dasharray="3.4,1.7" />
<line x1="199.40" y1="14.40" x2="199.40" y2="95.90" stroke="#1a1a1a" stroke-width="1.25" />
<line x1="198.90" y1="95.40" x2="321.00" y2="95.40" stroke="#1a1a1a" stroke-width="1.3" />
<line x1="196.40" y1="95.40" x2="199.40" y2="95.40" stroke="#1a1a1a" stroke-width="0.9" />
<g fill="#111" transform="translate(184.90,97.80) scale(1.0800,1)"><text x="0.00" y="0.00" font-size="7.0" style="font-weight:bold">0.0</text></g>
<line x1="196.40" y1="79.26" x2="199.40" y2="79.26" stroke="#1a1a1a" stroke-width="0.9" />
<g fill="#111" transform="translate(184.90,81.66) scale(1.0792,1)"><text x="0.00" y="0.00" font-size="7.0" style="font-weight:bold">0.2</text></g>
<line x1="196.40" y1="63.12" x2="199.40" y2="63.12" stroke="#1a1a1a" stroke-width="0.9" />
<g fill="#111" transform="translate(184.91,65.52) scale(1.0513,1)"><text x="0.00" y="0.00" font-size="7.0" style="font-weight:bold">0.4</text></g>
<line x1="196.40" y1="46.98" x2="199.40" y2="46.98" stroke="#1a1a1a" stroke-width="0.9" />
<g fill="#111" transform="translate(184.90,49.38) scale(1.0759,1)"><text x="0.00" y="0.00" font-size="7.0" style="font-weight:bold">0.6</text></g>
<line x1="196.40" y1="30.84" x2="199.40" y2="30.84" stroke="#1a1a1a" stroke-width="0.9" />
<g fill="#111" transform="translate(184.90,33.24) scale(1.0716,1)"><text x="0.00" y="0.00" font-size="7.0" style="font-weight:bold">0.8</text></g>
<line x1="196.40" y1="14.70" x2="199.40" y2="14.70" stroke="#1a1a1a" stroke-width="0.9" />
<g fill="#111" transform="translate(184.72,17.10) scale(1.0996,1)"><text x="0.00" y="0.00" font-size="7.0" style="font-weight:bold">1.0</text></g>
<line x1="199.40" y1="95.40" x2="199.40" y2="98.40" stroke="#1a1a1a" stroke-width="0.9" />
<line x1="206.75" y1="95.40" x2="206.75" y2="97.80" stroke="#1a1a1a" stroke-width="0.9" />
<line x1="211.04" y1="95.40" x2="211.04" y2="97.80" stroke="#1a1a1a" stroke-width="0.9" />
<line x1="214.09" y1="95.40" x2="214.09" y2="97.80" stroke="#1a1a1a" stroke-width="0.9" />
<line x1="216.45" y1="95.40" x2="216.45" y2="97.80" stroke="#1a1a1a" stroke-width="0.9" />
<line x1="218.39" y1="95.40" x2="218.39" y2="97.80" stroke="#1a1a1a" stroke-width="0.9" />
<line x1="220.02" y1="95.40" x2="220.02" y2="97.80" stroke="#1a1a1a" stroke-width="0.9" />
<line x1="221.44" y1="95.40" x2="221.44" y2="97.80" stroke="#1a1a1a" stroke-width="0.9" />
<line x1="222.68" y1="95.40" x2="222.68" y2="97.80" stroke="#1a1a1a" stroke-width="0.9" />
<line x1="223.80" y1="95.40" x2="223.80" y2="98.40" stroke="#1a1a1a" stroke-width="0.9" />
<line x1="231.15" y1="95.40" x2="231.15" y2="97.80" stroke="#1a1a1a" stroke-width="0.9" />
<line x1="235.44" y1="95.40" x2="235.44" y2="97.80" stroke="#1a1a1a" stroke-width="0.9" />
<line x1="238.49" y1="95.40" x2="238.49" y2="97.80" stroke="#1a1a1a" stroke-width="0.9" />
<line x1="240.85" y1="95.40" x2="240.85" y2="97.80" stroke="#1a1a1a" stroke-width="0.9" />
<line x1="242.79" y1="95.40" x2="242.79" y2="97.80" stroke="#1a1a1a" stroke-width="0.9" />
<line x1="244.42" y1="95.40" x2="244.42" y2="97.80" stroke="#1a1a1a" stroke-width="0.9" />
<line x1="245.84" y1="95.40" x2="245.84" y2="97.80" stroke="#1a1a1a" stroke-width="0.9" />
<line x1="247.08" y1="95.40" x2="247.08" y2="97.80" stroke="#1a1a1a" stroke-width="0.9" />
<line x1="248.20" y1="95.40" x2="248.20" y2="98.40" stroke="#1a1a1a" stroke-width="0.9" />
<line x1="255.55" y1="95.40" x2="255.55" y2="97.80" stroke="#1a1a1a" stroke-width="0.9" />
<line x1="259.84" y1="95.40" x2="259.84" y2="97.80" stroke="#1a1a1a" stroke-width="0.9" />
<line x1="262.89" y1="95.40" x2="262.89" y2="97.80" stroke="#1a1a1a" stroke-width="0.9" />
<line x1="265.25" y1="95.40" x2="265.25" y2="97.80" stroke="#1a1a1a" stroke-width="0.9" />
<line x1="267.19" y1="95.40" x2="267.19" y2="97.80" stroke="#1a1a1a" stroke-width="0.9" />
<line x1="268.82" y1="95.40" x2="268.82" y2="97.80" stroke="#1a1a1a" stroke-width="0.9" />
<line x1="270.24" y1="95.40" x2="270.24" y2="97.80" stroke="#1a1a1a" stroke-width="0.9" />
<line x1="271.48" y1="95.40" x2="271.48" y2="97.80" stroke="#1a1a1a" stroke-width="0.9" />
<line x1="272.60" y1="95.40" x2="272.60" y2="98.40" stroke="#1a1a1a" stroke-width="0.9" />
<line x1="279.95" y1="95.40" x2="279.95" y2="97.80" stroke="#1a1a1a" stroke-width="0.9" />
<line x1="284.24" y1="95.40" x2="284.24" y2="97.80" stroke="#1a1a1a" stroke-width="0.9" />
<line x1="287.29" y1="95.40" x2="287.29" y2="97.80" stroke="#1a1a1a" stroke-width="0.9" />
<line x1="289.65" y1="95.40" x2="289.65" y2="97.80" stroke="#1a1a1a" stroke-width="0.9" />
<line x1="291.59" y1="95.40" x2="291.59" y2="97.80" stroke="#1a1a1a" stroke-width="0.9" />
<line x1="293.22" y1="95.40" x2="293.22" y2="97.80" stroke="#1a1a1a" stroke-width="0.9" />
<line x1="294.64" y1="95.40" x2="294.64" y2="97.80" stroke="#1a1a1a" stroke-width="0.9" />
<line x1="295.88" y1="95.40" x2="295.88" y2="97.80" stroke="#1a1a1a" stroke-width="0.9" />
<line x1="297.00" y1="95.40" x2="297.00" y2="98.40" stroke="#1a1a1a" stroke-width="0.9" />
<line x1="304.35" y1="95.40" x2="304.35" y2="97.80" stroke="#1a1a1a" stroke-width="0.9" />
<line x1="308.64" y1="95.40" x2="308.64" y2="97.80" stroke="#1a1a1a" stroke-width="0.9" />
<line x1="311.69" y1="95.40" x2="311.69" y2="97.80" stroke="#1a1a1a" stroke-width="0.9" />
<line x1="314.05" y1="95.40" x2="314.05" y2="97.80" stroke="#1a1a1a" stroke-width="0.9" />
<line x1="315.99" y1="95.40" x2="315.99" y2="97.80" stroke="#1a1a1a" stroke-width="0.9" />
<line x1="317.62" y1="95.40" x2="317.62" y2="97.80" stroke="#1a1a1a" stroke-width="0.9" />
<line x1="319.04" y1="95.40" x2="319.04" y2="97.80" stroke="#1a1a1a" stroke-width="0.9" />
<line x1="320.28" y1="95.40" x2="320.28" y2="97.80" stroke="#1a1a1a" stroke-width="0.9" />
<line x1="321.40" y1="95.40" x2="321.40" y2="98.40" stroke="#1a1a1a" stroke-width="0.9" />
<g fill="#111" transform="translate(197.63,105.10) scale(1.0000,1)"><text x="0.00" y="0.00" font-size="7.0" style="font-weight:bold">1</text></g>
<g fill="#111" transform="translate(220.03,105.10) scale(1.0000,1)"><text x="0.00" y="0.00" font-size="7.0" style="font-weight:bold">10</text></g>
<g fill="#111" transform="translate(243.08,105.10) scale(1.0000,1)"><text x="0.00" y="0.00" font-size="7.0" style="font-weight:bold">100</text></g>
<g fill="#111" transform="translate(265.84,105.10) scale(1.0000,1)"><text x="0.00" y="0.00" font-size="7.0" style="font-weight:bold">1000</text></g>
<g fill="#111" transform="translate(287.89,105.10) scale(1.0000,1)"><text x="0.00" y="0.00" font-size="7.0" style="font-weight:bold">10000</text></g>
<g fill="#111" transform="translate(313.84,105.10) scale(1.0000,1)"><text x="0.00" y="0.00" font-size="7.0" style="font-weight:bold">100000</text></g>
<g fill="#111" transform="translate(253.14,22.40) scale(1.0516,1)"><text x="0.00" y="0.00" font-size="8.8" style="font-weight:bold;font-style:italic">MLL-ENL</text></g>
<g fill="#111" transform="translate(261.24,31.60) scale(0.9895,1)"><text x="0.00" y="0.00" font-size="8.6" style="font-weight:bold">n= 11</text></g>
<g fill="#111" transform="translate(181.00,96.57) rotate(-90) scale(1.0569,1)"><text x="0.00" y="0.00" font-size="9.0" style="font-weight:bold">Survivng Fraction</text></g>
<g fill="#111" transform="translate(232.96,115.30) scale(0.8986,1)"><text x="0.00" y="0.00" font-size="9.3" style="font-weight:bold">Obatoclax (nM)</text></g>
</g>
<g id="OR">
<path d="M25.9,149.4 26.9,150.0 27.9,150.6 28.9,151.4 29.9,152.2 30.9,153.2 31.9,154.2 32.9,155.4 33.9,156.7 34.9,158.2 35.9,159.8 36.9,161.6 37.9,163.5 38.9,165.6 39.9,167.8 40.9,170.1 41.9,172.6 42.9,175.1 43.9,177.8 44.9,180.5 45.9,183.2 46.9,185.9 47.9,188.6 48.9,191.2 49.9,193.8 50.9,196.2 51.9,198.5 52.9,200.7 53.9,202.8 54.9,204.7 55.9,206.4 56.9,208.0 57.9,209.4 58.9,210.7 59.9,211.9 60.9,213.0 61.9,213.9 62.9,214.7 63.9,215.4 64.9,216.1 65.9,216.6 66.9,217.1 67.9,217.6 68.9,218.0 69.9,218.3 70.9,218.6 71.9,218.8 72.9,219.1 73.9,219.3 74.9,219.4 75.9,219.6 76.9,219.7 77.9,219.8 78.9,219.9 79.9,220.0 80.9,220.0 81.9,220.1 82.9,220.2 83.9,220.2 84.9,220.2 85.9,220.3 86.9,220.3 87.9,220.3 88.9,220.4 89.9,220.4 90.9,220.4 91.9,220.4 92.9,220.4 93.9,220.4 94.9,220.4 95.9,220.4 96.9,220.5 97.9,220.5 98.9,220.5 99.9,220.5 100.9,220.5 101.9,220.5 102.9,220.5 103.9,220.5 104.9,220.5 105.9,220.5 106.9,220.5 107.9,220.5 108.9,220.5 109.9,220.5 110.9,220.5 111.9,220.5 112.9,220.5 113.9,220.5 114.9,220.5 115.9,220.5 116.9,220.5 117.9,220.5 118.9,220.5 119.9,220.5 120.9,220.5 121.9,220.5 122.9,220.5 123.9,220.5 124.9,220.5 125.9,220.5 126.9,220.5 127.9,220.5 128.9,220.5 129.9,220.5 130.9,220.5 131.9,220.5 132.9,220.5 133.9,220.5 134.9,220.5 135.9,220.5 136.9,220.5 137.9,220.5 138.9,220.5 139.9,220.5 140.9,220.5 141.9,220.5 142.9,220.5 143.9,220.5 144.9,220.5 145.9,220.5 146.9,220.5" fill="none" stroke="#d890b8" stroke-width="1.0" stroke-dasharray="3.2,1.7" />
<path d="M25.9,146.2 26.9,146.6 27.9,147.1 28.9,147.7 29.9,148.4 30.9,149.1 31.9,150.0 32.9,150.9 33.9,151.9 34.9,153.1 35.9,154.3 36.9,155.7 37.9,157.3 38.9,158.9 39.9,160.7 40.9,162.6 41.9,164.7 42.9,166.9 43.9,169.2 44.9,171.6 45.9,174.1 46.9,176.7 47.9,179.3 48.9,181.9 49.9,184.5 50.9,187.1 51.9,189.7 52.9,192.2 53.9,194.6 54.9,196.8 55.9,199.0 56.9,201.0 57.9,203.0 58.9,204.7 59.9,206.4 60.9,207.9 61.9,209.2 62.9,210.5 63.9,211.6 64.9,212.6 65.9,213.5 66.9,214.3 67.9,215.1 68.9,215.7 69.9,216.3 70.9,216.8 71.9,217.2 72.9,217.6 73.9,218.0 74.9,218.3 75.9,218.6 76.9,218.8 77.9,219.0 78.9,219.2 79.9,219.4 80.9,219.5 81.9,219.6 82.9,219.7 83.9,219.8 84.9,219.9 85.9,220.0 86.9,220.1 87.9,220.1 88.9,220.2 89.9,220.2 90.9,220.2 91.9,220.3 92.9,220.3 93.9,220.3 94.9,220.3 95.9,220.4 96.9,220.4 97.9,220.4 98.9,220.4 99.9,220.4 100.9,220.4 101.9,220.4 102.9,220.4 103.9,220.5 104.9,220.5 105.9,220.5 106.9,220.5 107.9,220.5 108.9,220.5 109.9,220.5 110.9,220.5 111.9,220.5 112.9,220.5 113.9,220.5 114.9,220.5 115.9,220.5 116.9,220.5 117.9,220.5 118.9,220.5 119.9,220.5 120.9,220.5 121.9,220.5 122.9,220.5 123.9,220.5 124.9,220.5 125.9,220.5 126.9,220.5 127.9,220.5 128.9,220.5 129.9,220.5 130.9,220.5 131.9,220.5 132.9,220.5 133.9,220.5 134.9,220.5 135.9,220.5 136.9,220.5 137.9,220.5 138.9,220.5 139.9,220.5 140.9,220.5 141.9,220.5 142.9,220.5 143.9,220.5 144.9,220.5 145.9,220.5 146.9,220.5" fill="none" stroke="#a04880" stroke-width="1.1" stroke-dasharray="3.2,1.7" />
<path d="M25.9,142.9 26.9,143.1 27.9,143.3 28.9,143.6 29.9,143.8 30.9,144.1 31.9,144.5 32.9,144.8 33.9,145.3 34.9,145.8 35.9,146.3 36.9,147.0 37.9,147.7 38.9,148.5 39.9,149.4 40.9,150.4 41.9,151.5 42.9,152.7 43.9,154.0 44.9,155.5 45.9,157.1 46.9,158.9 47.9,160.8 48.9,162.8 49.9,164.9 50.9,167.2 51.9,169.6 52.9,172.1 53.9,174.6 54.9,177.2 55.9,179.9 56.9,182.6 57.9,185.2 58.9,187.8 59.9,190.4 60.9,192.8 61.9,195.2 62.9,197.5 63.9,199.6 64.9,201.6 65.9,203.5 66.9,205.2 67.9,206.8 68.9,208.3 69.9,209.6 70.9,210.8 71.9,211.9 72.9,212.9 73.9,213.8 74.9,214.6 75.9,215.3 76.9,215.9 77.9,216.4 78.9,216.9 79.9,217.4 80.9,217.7 81.9,218.1 82.9,218.4 83.9,218.6 84.9,218.9 85.9,219.1 86.9,219.3 87.9,219.4 88.9,219.5 89.9,219.7 90.9,219.8 91.9,219.9 92.9,219.9 93.9,220.0 94.9,220.1 95.9,220.1 96.9,220.2 97.9,220.2 98.9,220.2 99.9,220.3 100.9,220.3 101.9,220.3 102.9,220.4 103.9,220.4 104.9,220.4 105.9,220.4 106.9,220.4 107.9,220.4 108.9,220.4 109.9,220.4 110.9,220.5 111.9,220.5 112.9,220.5 113.9,220.5 114.9,220.5 115.9,220.5 116.9,220.5 117.9,220.5 118.9,220.5 119.9,220.5 120.9,220.5 121.9,220.5 122.9,220.5 123.9,220.5 124.9,220.5 125.9,220.5 126.9,220.5 127.9,220.5 128.9,220.5 129.9,220.5 130.9,220.5 131.9,220.5 132.9,220.5 133.9,220.5 134.9,220.5 135.9,220.5 136.9,220.5 137.9,220.5 138.9,220.5 139.9,220.5 140.9,220.5 141.9,220.5 142.9,220.5 143.9,220.5 144.9,220.5 145.9,220.5 146.9,220.5" fill="none" stroke="#202020" stroke-width="1.1" stroke-dasharray="3.2,1.7" />
<path d="M25.9,142.1 26.9,142.3 27.9,142.5 28.9,142.6 29.9,142.9 30.9,143.1 31.9,143.4 32.9,143.7 33.9,144.1 34.9,144.4 35.9,144.9 36.9,145.4 37.9,145.9 38.9,146.5 39.9,147.2 40.9,147.9 41.9,148.8 42.9,149.7 43.9,150.7 44.9,151.8 45.9,153.0 46.9,154.3 47.9,155.7 48.9,157.3 49.9,158.9 50.9,160.7 51.9,162.6 52.9,164.6 53.9,166.7 54.9,168.9 55.9,171.1 56.9,173.5 57.9,175.8 58.9,178.3 59.9,180.7 60.9,183.1 61.9,185.6 62.9,188.0 63.9,190.3 64.9,192.6 65.9,194.7 66.9,196.8 67.9,198.8 68.9,200.7 69.9,202.5 70.9,204.1 71.9,205.7 72.9,207.1 73.9,208.4 74.9,209.6 75.9,210.7 76.9,211.7 77.9,212.6 78.9,213.5 79.9,214.2 80.9,214.9 81.9,215.5 82.9,216.1 83.9,216.5 84.9,217.0 85.9,217.4 86.9,217.7 87.9,218.0 88.9,218.3 89.9,218.6 90.9,218.8 91.9,219.0 92.9,219.1 93.9,219.3 94.9,219.4 95.9,219.6 96.9,219.7 97.9,219.8 98.9,219.8 99.9,219.9 100.9,220.0 101.9,220.0 102.9,220.1 103.9,220.1 104.9,220.2 105.9,220.2 106.9,220.3 107.9,220.3 108.9,220.3 109.9,220.3 110.9,220.3 111.9,220.4 112.9,220.4 113.9,220.4 114.9,220.4 115.9,220.4 116.9,220.4 117.9,220.4 118.9,220.4 119.9,220.5 120.9,220.5 121.9,220.5 122.9,220.5 123.9,220.5 124.9,220.5 125.9,220.5 126.9,220.5 127.9,220.5 128.9,220.5 129.9,220.5 130.9,220.5 131.9,220.5 132.9,220.5 133.9,220.5 134.9,220.5 135.9,220.5 136.9,220.5 137.9,220.5 138.9,220.5 139.9,220.5 140.9,220.5 141.9,220.5 142.9,220.5 143.9,220.5 144.9,220.5 145.9,220.5 146.9,220.5" fill="none" stroke="#151515" stroke-width="1.25" />
<path d="M25.9,141.3 26.9,141.5 27.9,141.7 28.9,141.9 29.9,142.1 30.9,142.4 31.9,142.7 32.9,143.0 33.9,143.3 34.9,143.7 35.9,144.1 36.9,144.5 37.9,145.0 38.9,145.5 39.9,146.1 40.9,146.7 41.9,147.4 42.9,148.1 43.9,148.9 44.9,149.7 45.9,150.6 46.9,151.6 47.9,152.7 48.9,153.8 49.9,155.0 50.9,156.3 51.9,157.7 52.9,159.1 53.9,160.6 54.9,162.2 55.9,163.8 56.9,165.6 57.9,167.3 58.9,169.2 59.9,171.1 60.9,173.0 61.9,175.0 62.9,177.0 63.9,179.0 64.9,181.0 65.9,183.0 66.9,185.0 67.9,186.9 68.9,188.9 69.9,190.8 70.9,192.6 71.9,194.4 72.9,196.1 73.9,197.8 74.9,199.4 75.9,200.9 76.9,202.3 77.9,203.7 78.9,205.0 79.9,206.2 80.9,207.3 81.9,208.4 82.9,209.4 83.9,210.3 84.9,211.1 85.9,211.9 86.9,212.7 87.9,213.3 88.9,214.0 89.9,214.5 90.9,215.1 91.9,215.6 92.9,216.0 93.9,216.4 94.9,216.8 95.9,217.1 96.9,217.4 97.9,217.7 98.9,218.0 99.9,218.2 100.9,218.4 101.9,218.6 102.9,218.8 103.9,218.9 104.9,219.1 105.9,219.2 106.9,219.3 107.9,219.4 108.9,219.5 109.9,219.6 110.9,219.7 111.9,219.8 112.9,219.9 113.9,219.9 114.9,220.0 115.9,220.0 116.9,220.1 117.9,220.1 118.9,220.1 119.9,220.2 120.9,220.2 121.9,220.2 122.9,220.3 123.9,220.3 124.9,220.3 125.9,220.3 126.9,220.3 127.9,220.4 128.9,220.4 129.9,220.4 130.9,220.4 131.9,220.4 132.9,220.4 133.9,220.4 134.9,220.4 135.9,220.4 136.9,220.4 137.9,220.4 138.9,220.5 139.9,220.5 140.9,220.5 141.9,220.5 142.9,220.5 143.9,220.5 144.9,220.5 145.9,220.5 146.9,220.5" fill="none" stroke="#303a80" stroke-width="1.1" stroke-dasharray="3.2,1.7" />
<path d="M25.9,140.5 26.9,140.6 27.9,140.7 28.9,140.8 29.9,140.9 30.9,141.0 31.9,141.1 32.9,141.3 33.9,141.4 34.9,141.6 35.9,141.9 36.9,142.1 37.9,142.4 38.9,142.7 39.9,143.1 40.9,143.5 41.9,143.9 42.9,144.4 43.9,145.0 44.9,145.6 45.9,146.3 46.9,147.1 47.9,148.0 48.9,149.0 49.9,150.0 50.9,151.2 51.9,152.5 52.9,153.9 53.9,155.4 54.9,157.1 55.9,158.9 56.9,160.8 57.9,162.8 58.9,164.9 59.9,167.2 60.9,169.5 61.9,171.9 62.9,174.4 63.9,176.9 64.9,179.5 65.9,182.0 66.9,184.6 67.9,187.1 68.9,189.6 69.9,191.9 70.9,194.2 71.9,196.4 72.9,198.5 73.9,200.5 74.9,202.4 75.9,204.1 76.9,205.7 77.9,207.2 78.9,208.5 79.9,209.8 80.9,210.9 81.9,211.9 82.9,212.8 83.9,213.7 84.9,214.4 85.9,215.1 86.9,215.7 87.9,216.3 88.9,216.7 89.9,217.2 90.9,217.6 91.9,217.9 92.9,218.2 93.9,218.5 94.9,218.7 95.9,218.9 96.9,219.1 97.9,219.3 98.9,219.4 99.9,219.5 100.9,219.7 101.9,219.8 102.9,219.8 103.9,219.9 104.9,220.0 105.9,220.0 106.9,220.1 107.9,220.2 108.9,220.2 109.9,220.2 110.9,220.3 111.9,220.3 112.9,220.3 113.9,220.3 114.9,220.4 115.9,220.4 116.9,220.4 117.9,220.4 118.9,220.4 119.9,220.4 120.9,220.4 121.9,220.4 122.9,220.4 123.9,220.5 124.9,220.5 125.9,220.5 126.9,220.5 127.9,220.5 128.9,220.5 129.9,220.5 130.9,220.5 131.9,220.5 132.9,220.5 133.9,220.5 134.9,220.5 135.9,220.5 136.9,220.5 137.9,220.5 138.9,220.5 139.9,220.5 140.9,220.5 141.9,220.5 142.9,220.5 143.9,220.5 144.9,220.5 145.9,220.5 146.9,220.5" fill="none" stroke="#3a3a9a" stroke-width="1.1" stroke-dasharray="0.5,1.8" stroke-linecap="round"/>
<path d="M25.9,140.3 26.9,140.4 27.9,140.4 28.9,140.5 29.9,140.5 30.9,140.6 31.9,140.7 32.9,140.8 33.9,140.9 34.9,141.0 35.9,141.1 36.9,141.2 37.9,141.4 38.9,141.5 39.9,141.7 40.9,141.8 41.9,142.0 42.9,142.2 43.9,142.4 44.9,142.7 45.9,142.9 46.9,143.2 47.9,143.5 48.9,143.8 49.9,144.2 50.9,144.5 51.9,144.9 52.9,145.4 53.9,145.8 54.9,146.3 55.9,146.9 56.9,147.5 57.9,148.1 58.9,148.8 59.9,149.5 60.9,150.2 61.9,151.0 62.9,151.9 63.9,152.8 64.9,153.8 65.9,154.8 66.9,155.9 67.9,157.0 68.9,158.2 69.9,159.5 70.9,160.8 71.9,162.1 72.9,163.5 73.9,165.0 74.9,166.5 75.9,168.1 76.9,169.7 77.9,171.3 78.9,173.0 79.9,174.7 80.9,176.4 81.9,178.1 82.9,179.8 83.9,181.5 84.9,183.3 85.9,185.0 86.9,186.7 87.9,188.3 88.9,190.0 89.9,191.6 90.9,193.2 91.9,194.7 92.9,196.2 93.9,197.6 94.9,199.0 95.9,200.3 96.9,201.6 97.9,202.8 98.9,203.9 99.9,205.0 100.9,206.1 101.9,207.1 102.9,208.0 103.9,208.9 104.9,209.7 105.9,210.5 106.9,211.2 107.9,211.9 108.9,212.5 109.9,213.1 110.9,213.7 111.9,214.2 112.9,214.7 113.9,215.1 114.9,215.5 115.9,215.9 116.9,216.3 117.9,216.6 118.9,216.9 119.9,217.2 120.9,217.5 121.9,217.7 122.9,217.9 123.9,218.1 124.9,218.3 125.9,218.5 126.9,218.6 127.9,218.8 128.9,218.9 129.9,219.1 130.9,219.2 131.9,219.3 132.9,219.4 133.9,219.5 134.9,219.6 135.9,219.6 136.9,219.7 137.9,219.8 138.9,219.8 139.9,219.9 140.9,219.9 141.9,220.0 142.9,220.0 143.9,220.1 144.9,220.1 145.9,220.1 146.9,220.2" fill="none" stroke="#c03070" stroke-width="1.05" />
<path d="M25.9,139.7 26.9,139.7 27.9,139.7 28.9,139.7 29.9,139.7 30.9,139.7 31.9,139.7 32.9,139.7 33.9,139.7 34.9,139.7 35.9,139.7 36.9,139.7 37.9,139.7 38.9,139.7 39.9,139.7 40.9,139.7 41.9,139.7 42.9,139.7 43.9,139.7 44.9,139.7 45.9,139.7 46.9,139.7 47.9,139.7 48.9,139.7 49.9,139.7 50.9,139.7 51.9,139.7 52.9,139.7 53.9,139.7 54.9,139.7 55.9,139.7 56.9,139.7 57.9,139.7 58.9,139.7 59.9,139.7 60.9,139.7 61.9,139.7 62.9,139.7 63.9,139.7 64.9,139.7 65.9,139.7 66.9,139.7 67.9,139.7 68.9,139.7 69.9,139.7 70.9,139.7 71.9,139.7 72.9,139.7 73.9,139.7 74.9,139.7 75.9,139.7 76.9,139.7 77.9,139.7 78.9,139.8 79.9,139.8 80.9,140.0 81.9,140.5 82.9,141.7 83.9,144.3 84.9,150.2 85.9,161.4 86.9,177.7 87.9,194.4 88.9,206.4 89.9,212.9 90.9,215.9 91.9,217.2 92.9,217.7 93.9,217.9 94.9,218.0 95.9,218.1 96.9,218.1 97.9,218.1 98.9,218.1 99.9,218.1 100.9,218.1 101.9,218.1 102.9,218.1 103.9,218.1 104.9,218.1 105.9,218.1 106.9,218.1 107.9,218.1 108.9,218.1 109.9,218.1 110.9,218.1 111.9,218.1 112.9,218.1 113.9,218.1 114.9,218.1 115.9,218.1 116.9,218.1 117.9,218.1 118.9,218.1 119.9,218.1 120.9,218.1 121.9,218.1 122.9,218.1 123.9,218.1 124.9,218.1 125.9,218.1 126.9,218.1 127.9,218.1 128.9,218.1 129.9,218.1 130.9,218.1 131.9,218.1 132.9,218.1 133.9,218.1 134.9,218.1 135.9,218.1 136.9,218.1 137.9,218.1 138.9,218.1 139.9,218.1 140.9,218.1 141.9,218.1 142.9,218.1 143.9,218.1 144.9,218.1 145.9,218.1 146.9,218.1" fill="none" stroke="#5050c8" stroke-width="1.0" stroke-dasharray="0.5,1.8" stroke-linecap="round"/>
<line x1="25.90" y1="139.40" x2="25.90" y2="221.00" stroke="#1a1a1a" stroke-width="1.25" />
<line x1="25.40" y1="220.50" x2="147.60" y2="220.50" stroke="#1a1a1a" stroke-width="1.3" />
<line x1="22.90" y1="220.50" x2="25.90" y2="220.50" stroke="#1a1a1a" stroke-width="0.9" />
<g fill="#111" transform="translate(11.40,222.90) scale(1.0800,1)"><text x="0.00" y="0.00" font-size="7.0" style="font-weight:bold">0.0</text></g>
<line x1="22.90" y1="204.34" x2="25.90" y2="204.34" stroke="#1a1a1a" stroke-width="0.9" />
<g fill="#111" transform="translate(11.40,206.74) scale(1.0792,1)"><text x="0.00" y="0.00" font-size="7.0" style="font-weight:bold">0.2</text></g>
<line x1="22.90" y1="188.18" x2="25.90" y2="188.18" stroke="#1a1a1a" stroke-width="0.9" />
<g fill="#111" transform="translate(11.41,190.58) scale(1.0513,1)"><text x="0.00" y="0.00" font-size="7.0" style="font-weight:bold">0.4</text></g>
<line x1="22.90" y1="172.02" x2="25.90" y2="172.02" stroke="#1a1a1a" stroke-width="0.9" />
<g fill="#111" transform="translate(11.40,174.42) scale(1.0759,1)"><text x="0.00" y="0.00" font-size="7.0" style="font-weight:bold">0.6</text></g>
<line x1="22.90" y1="155.86" x2="25.90" y2="155.86" stroke="#1a1a1a" stroke-width="0.9" />
<g fill="#111" transform="translate(11.40,158.26) scale(1.0716,1)"><text x="0.00" y="0.00" font-size="7.0" style="font-weight:bold">0.8</text></g>
<line x1="22.90" y1="139.70" x2="25.90" y2="139.70" stroke="#1a1a1a" stroke-width="0.9" />
<g fill="#111" transform="translate(11.22,142.10) scale(1.0996,1)"><text x="0.00" y="0.00" font-size="7.0" style="font-weight:bold">1.0</text></g>
<line x1="25.90" y1="220.50" x2="25.90" y2="223.50" stroke="#1a1a1a" stroke-width="0.9" />
<line x1="33.25" y1="220.50" x2="33.25" y2="222.90" stroke="#1a1a1a" stroke-width="0.9" />
<line x1="37.54" y1="220.50" x2="37.54" y2="222.90" stroke="#1a1a1a" stroke-width="0.9" />
<line x1="40.59" y1="220.50" x2="40.59" y2="222.90" stroke="#1a1a1a" stroke-width="0.9" />
<line x1="42.95" y1="220.50" x2="42.95" y2="222.90" stroke="#1a1a1a" stroke-width="0.9" />
<line x1="44.89" y1="220.50" x2="44.89" y2="222.90" stroke="#1a1a1a" stroke-width="0.9" />
<line x1="46.52" y1="220.50" x2="46.52" y2="222.90" stroke="#1a1a1a" stroke-width="0.9" />
<line x1="47.94" y1="220.50" x2="47.94" y2="222.90" stroke="#1a1a1a" stroke-width="0.9" />
<line x1="49.18" y1="220.50" x2="49.18" y2="222.90" stroke="#1a1a1a" stroke-width="0.9" />
<line x1="50.30" y1="220.50" x2="50.30" y2="223.50" stroke="#1a1a1a" stroke-width="0.9" />
<line x1="57.65" y1="220.50" x2="57.65" y2="222.90" stroke="#1a1a1a" stroke-width="0.9" />
<line x1="61.94" y1="220.50" x2="61.94" y2="222.90" stroke="#1a1a1a" stroke-width="0.9" />
<line x1="64.99" y1="220.50" x2="64.99" y2="222.90" stroke="#1a1a1a" stroke-width="0.9" />
<line x1="67.35" y1="220.50" x2="67.35" y2="222.90" stroke="#1a1a1a" stroke-width="0.9" />
<line x1="69.29" y1="220.50" x2="69.29" y2="222.90" stroke="#1a1a1a" stroke-width="0.9" />
<line x1="70.92" y1="220.50" x2="70.92" y2="222.90" stroke="#1a1a1a" stroke-width="0.9" />
<line x1="72.34" y1="220.50" x2="72.34" y2="222.90" stroke="#1a1a1a" stroke-width="0.9" />
<line x1="73.58" y1="220.50" x2="73.58" y2="222.90" stroke="#1a1a1a" stroke-width="0.9" />
<line x1="74.70" y1="220.50" x2="74.70" y2="223.50" stroke="#1a1a1a" stroke-width="0.9" />
<line x1="82.05" y1="220.50" x2="82.05" y2="222.90" stroke="#1a1a1a" stroke-width="0.9" />
<line x1="86.34" y1="220.50" x2="86.34" y2="222.90" stroke="#1a1a1a" stroke-width="0.9" />
<line x1="89.39" y1="220.50" x2="89.39" y2="222.90" stroke="#1a1a1a" stroke-width="0.9" />
<line x1="91.75" y1="220.50" x2="91.75" y2="222.90" stroke="#1a1a1a" stroke-width="0.9" />
<line x1="93.69" y1="220.50" x2="93.69" y2="222.90" stroke="#1a1a1a" stroke-width="0.9" />
<line x1="95.32" y1="220.50" x2="95.32" y2="222.90" stroke="#1a1a1a" stroke-width="0.9" />
<line x1="96.74" y1="220.50" x2="96.74" y2="222.90" stroke="#1a1a1a" stroke-width="0.9" />
<line x1="97.98" y1="220.50" x2="97.98" y2="222.90" stroke="#1a1a1a" stroke-width="0.9" />
<line x1="99.10" y1="220.50" x2="99.10" y2="223.50" stroke="#1a1a1a" stroke-width="0.9" />
<line x1="106.45" y1="220.50" x2="106.45" y2="222.90" stroke="#1a1a1a" stroke-width="0.9" />
<line x1="110.74" y1="220.50" x2="110.74" y2="222.90" stroke="#1a1a1a" stroke-width="0.9" />
<line x1="113.79" y1="220.50" x2="113.79" y2="222.90" stroke="#1a1a1a" stroke-width="0.9" />
<line x1="116.15" y1="220.50" x2="116.15" y2="222.90" stroke="#1a1a1a" stroke-width="0.9" />
<line x1="118.09" y1="220.50" x2="118.09" y2="222.90" stroke="#1a1a1a" stroke-width="0.9" />
<line x1="119.72" y1="220.50" x2="119.72" y2="222.90" stroke="#1a1a1a" stroke-width="0.9" />
<line x1="121.14" y1="220.50" x2="121.14" y2="222.90" stroke="#1a1a1a" stroke-width="0.9" />
<line x1="122.38" y1="220.50" x2="122.38" y2="222.90" stroke="#1a1a1a" stroke-width="0.9" />
<line x1="123.50" y1="220.50" x2="123.50" y2="223.50" stroke="#1a1a1a" stroke-width="0.9" />
<line x1="130.85" y1="220.50" x2="130.85" y2="222.90" stroke="#1a1a1a" stroke-width="0.9" />
<line x1="135.14" y1="220.50" x2="135.14" y2="222.90" stroke="#1a1a1a" stroke-width="0.9" />
<line x1="138.19" y1="220.50" x2="138.19" y2="222.90" stroke="#1a1a1a" stroke-width="0.9" />
<line x1="140.55" y1="220.50" x2="140.55" y2="222.90" stroke="#1a1a1a" stroke-width="0.9" />
<line x1="142.49" y1="220.50" x2="142.49" y2="222.90" stroke="#1a1a1a" stroke-width="0.9" />
<line x1="144.12" y1="220.50" x2="144.12" y2="222.90" stroke="#1a1a1a" stroke-width="0.9" />
<line x1="145.54" y1="220.50" x2="145.54" y2="222.90" stroke="#1a1a1a" stroke-width="0.9" />
<line x1="146.78" y1="220.50" x2="146.78" y2="222.90" stroke="#1a1a1a" stroke-width="0.9" />
<line x1="147.90" y1="220.50" x2="147.90" y2="223.50" stroke="#1a1a1a" stroke-width="0.9" />
<g fill="#111" transform="translate(24.03,229.60) scale(1.0000,1)"><text x="0.00" y="0.00" font-size="7.0" style="font-weight:bold">1</text></g>
<g fill="#111" transform="translate(46.93,229.60) scale(1.0000,1)"><text x="0.00" y="0.00" font-size="7.0" style="font-weight:bold">10</text></g>
<g fill="#111" transform="translate(68.68,229.60) scale(1.0000,1)"><text x="0.00" y="0.00" font-size="7.0" style="font-weight:bold">100</text></g>
<g fill="#111" transform="translate(91.44,229.60) scale(1.0000,1)"><text x="0.00" y="0.00" font-size="7.0" style="font-weight:bold">1000</text></g>
<g fill="#111" transform="translate(113.99,229.60) scale(1.0000,1)"><text x="0.00" y="0.00" font-size="7.0" style="font-weight:bold">10000</text></g>
<g fill="#111" transform="translate(139.44,229.60) scale(1.0000,1)"><text x="0.00" y="0.00" font-size="7.0" style="font-weight:bold">100000</text></g>
<g fill="#111" transform="translate(89.31,146.60) scale(1.0846,1)"><text x="0.00" y="0.00" font-size="8.8" style="font-weight:bold">Other </text><text x="25.91" y="0.00" font-size="8.8" style="font-weight:bold;font-style:italic">MLL</text><text x="44.00" y="0.00" font-size="8.8" style="font-weight:bold">-R</text></g>
<g fill="#111" transform="translate(100.28,156.20) scale(1.0893,1)"><text x="0.00" y="0.00" font-size="8.6" style="font-weight:bold">n= 8</text></g>
<g fill="#111" transform="translate(7.20,221.57) rotate(-90) scale(1.0569,1)"><text x="0.00" y="0.00" font-size="9.0" style="font-weight:bold">Survivng Fraction</text></g>
<g fill="#111" transform="translate(58.13,240.30) scale(0.9785,1)"><text x="0.00" y="0.00" font-size="9.3" style="font-weight:bold">Obatoclax (nM)</text></g>
</g>
<g id="MG">
<path d="M199.4,141.7 200.4,141.8 201.4,142.0 202.4,142.1 203.4,142.3 204.4,142.4 205.4,142.6 206.4,142.9 207.4,143.1 208.4,143.4 209.4,143.8 210.4,144.2 211.4,144.6 212.4,145.1 213.4,145.6 214.4,146.2 215.4,146.9 216.4,147.7 217.4,148.5 218.4,149.5 219.4,150.5 220.4,151.7 221.4,153.0 222.4,154.4 223.4,155.9 224.4,157.5 225.4,159.3 226.4,161.2 227.4,163.2 228.4,165.4 229.4,167.6 230.4,170.0 231.4,172.4 232.4,175.0 233.4,177.5 234.4,180.1 235.4,182.7 236.4,185.3 237.4,187.8 238.4,190.3 239.4,192.7 240.4,195.0 241.4,197.2 242.4,199.3 243.4,201.2 244.4,203.1 245.4,204.8 246.4,206.4 247.4,207.8 248.4,209.1 249.4,210.3 250.4,211.4 251.4,212.4 252.4,213.3 253.4,214.1 254.4,214.9 255.4,215.5 256.4,216.1 257.4,216.6 258.4,217.1 259.4,217.5 260.4,217.8 261.4,218.1 262.4,218.4 263.4,218.7 264.4,218.9 265.4,219.1 266.4,219.2 267.4,219.4 268.4,219.5 269.4,219.6 270.4,219.8 271.4,219.8 272.4,219.9 273.4,220.0 274.4,220.1 275.4,220.1 276.4,220.2 277.4,220.2 278.4,220.2 279.4,220.3 280.4,220.3 281.4,220.3 282.4,220.3 283.4,220.4 284.4,220.4 285.4,220.4 286.4,220.4 287.4,220.4 288.4,220.4 289.4,220.4 290.4,220.4 291.4,220.5 292.4,220.5 293.4,220.5 294.4,220.5 295.4,220.5 296.4,220.5 297.4,220.5 298.4,220.5 299.4,220.5 300.4,220.5 301.4,220.5 302.4,220.5 303.4,220.5 304.4,220.5 305.4,220.5 306.4,220.5 307.4,220.5 308.4,220.5 309.4,220.5 310.4,220.5 311.4,220.5 312.4,220.5 313.4,220.5 314.4,220.5 315.4,220.5 316.4,220.5 317.4,220.5 318.4,220.5 319.4,220.5 320.4,220.5" fill="none" stroke="#222" stroke-width="1.15" />
<path d="M199.4,140.5 200.4,140.6 201.4,140.6 202.4,140.7 203.4,140.8 204.4,140.9 205.4,141.1 206.4,141.2 207.4,141.4 208.4,141.6 209.4,141.8 210.4,142.0 211.4,142.3 212.4,142.7 213.4,143.0 214.4,143.4 215.4,143.9 216.4,144.4 217.4,145.0 218.4,145.7 219.4,146.5 220.4,147.3 221.4,148.3 222.4,149.3 223.4,150.5 224.4,151.8 225.4,153.3 226.4,154.8 227.4,156.6 228.4,158.4 229.4,160.4 230.4,162.6 231.4,164.8 232.4,167.2 233.4,169.7 234.4,172.3 235.4,175.0 236.4,177.7 237.4,180.5 238.4,183.2 239.4,185.9 240.4,188.6 241.4,191.2 242.4,193.6 243.4,196.0 244.4,198.3 245.4,200.4 246.4,202.4 247.4,204.2 248.4,205.9 249.4,207.5 250.4,208.9 251.4,210.2 252.4,211.4 253.4,212.4 254.4,213.3 255.4,214.2 256.4,214.9 257.4,215.6 258.4,216.2 259.4,216.7 260.4,217.2 261.4,217.6 262.4,217.9 263.4,218.3 264.4,218.5 265.4,218.8 266.4,219.0 267.4,219.2 268.4,219.4 269.4,219.5 270.4,219.6 271.4,219.7 272.4,219.8 273.4,219.9 274.4,220.0 275.4,220.1 276.4,220.1 277.4,220.2 278.4,220.2 279.4,220.2 280.4,220.3 281.4,220.3 282.4,220.3 283.4,220.3 284.4,220.4 285.4,220.4 286.4,220.4 287.4,220.4 288.4,220.4 289.4,220.4 290.4,220.4 291.4,220.4 292.4,220.5 293.4,220.5 294.4,220.5 295.4,220.5 296.4,220.5 297.4,220.5 298.4,220.5 299.4,220.5 300.4,220.5 301.4,220.5 302.4,220.5 303.4,220.5 304.4,220.5 305.4,220.5 306.4,220.5 307.4,220.5 308.4,220.5 309.4,220.5 310.4,220.5 311.4,220.5 312.4,220.5 313.4,220.5 314.4,220.5 315.4,220.5 316.4,220.5 317.4,220.5 318.4,220.5 319.4,220.5 320.4,220.5" fill="none" stroke="#2a2a7a" stroke-width="1.2" stroke-dasharray="0.5,1.8" stroke-linecap="round"/>
<path d="M199.4,139.7 200.4,139.7 201.4,139.7 202.4,139.7 203.4,139.7 204.4,139.7 205.4,139.7 206.4,139.7 207.4,139.7 208.4,139.7 209.4,139.7 210.4,139.8 211.4,139.8 212.4,139.8 213.4,139.8 214.4,139.8 215.4,139.9 216.4,139.9 217.4,140.0 218.4,140.1 219.4,140.2 220.4,140.3 221.4,140.4 222.4,140.6 223.4,140.9 224.4,141.2 225.4,141.6 226.4,142.1 227.4,142.7 228.4,143.5 229.4,144.5 230.4,145.7 231.4,147.1 232.4,148.9 233.4,151.1 234.4,153.6 235.4,156.6 236.4,160.1 237.4,163.9 238.4,168.2 239.4,172.8 240.4,177.6 241.4,182.4 242.4,187.2 243.4,191.8 244.4,196.1 245.4,200.0 246.4,203.4 247.4,206.4 248.4,209.0 249.4,211.2 250.4,213.0 251.4,214.5 252.4,215.7 253.4,216.7 254.4,217.5 255.4,218.1 256.4,218.6 257.4,219.0 258.4,219.3 259.4,219.6 260.4,219.8 261.4,219.9 262.4,220.0 263.4,220.1 264.4,220.2 265.4,220.3 266.4,220.3 267.4,220.4 268.4,220.4 269.4,220.4 270.4,220.4 271.4,220.4 272.4,220.5 273.4,220.5 274.4,220.5 275.4,220.5 276.4,220.5 277.4,220.5 278.4,220.5 279.4,220.5 280.4,220.5 281.4,220.5 282.4,220.5 283.4,220.5 284.4,220.5 285.4,220.5 286.4,220.5 287.4,220.5 288.4,220.5 289.4,220.5 290.4,220.5 291.4,220.5 292.4,220.5 293.4,220.5 294.4,220.5 295.4,220.5 296.4,220.5 297.4,220.5 298.4,220.5 299.4,220.5 300.4,220.5 301.4,220.5 302.4,220.5 303.4,220.5 304.4,220.5 305.4,220.5 306.4,220.5 307.4,220.5 308.4,220.5 309.4,220.5 310.4,220.5 311.4,220.5 312.4,220.5 313.4,220.5 314.4,220.5 315.4,220.5 316.4,220.5 317.4,220.5 318.4,220.5 319.4,220.5 320.4,220.5" fill="none" stroke="#c8307a" stroke-width="1.15" />
<path d="M199.4,139.8 200.4,139.8 201.4,139.9 202.4,139.9 203.4,139.9 204.4,140.0 205.4,140.0 206.4,140.0 207.4,140.1 208.4,140.2 209.4,140.2 210.4,140.3 211.4,140.4 212.4,140.5 213.4,140.6 214.4,140.8 215.4,141.0 216.4,141.2 217.4,141.4 218.4,141.6 219.4,141.9 220.4,142.3 221.4,142.7 222.4,143.1 223.4,143.6 224.4,144.2 225.4,144.8 226.4,145.6 227.4,146.4 228.4,147.4 229.4,148.4 230.4,149.6 231.4,151.0 232.4,152.5 233.4,154.1 234.4,155.9 235.4,157.9 236.4,160.0 237.4,162.3 238.4,164.7 239.4,167.3 240.4,170.0 241.4,172.8 242.4,175.7 243.4,178.6 244.4,181.5 245.4,184.4 246.4,187.3 247.4,190.1 248.4,192.8 249.4,195.4 250.4,197.8 251.4,200.1 252.4,202.3 253.4,204.2 254.4,206.0 255.4,207.7 256.4,209.2 257.4,210.5 258.4,211.7 259.4,212.8 260.4,213.7 261.4,214.6 262.4,215.3 263.4,216.0 264.4,216.6 265.4,217.1 266.4,217.5 267.4,217.9 268.4,218.3 269.4,218.6 270.4,218.8 271.4,219.0 272.4,219.2 273.4,219.4 274.4,219.5 275.4,219.7 276.4,219.8 277.4,219.9 278.4,220.0 279.4,220.0 280.4,220.1 281.4,220.2 282.4,220.2 283.4,220.2 284.4,220.3 285.4,220.3 286.4,220.3 287.4,220.4 288.4,220.4 289.4,220.4 290.4,220.4 291.4,220.4 292.4,220.4 293.4,220.4 294.4,220.4 295.4,220.5 296.4,220.5 297.4,220.5 298.4,220.5 299.4,220.5 300.4,220.5 301.4,220.5 302.4,220.5 303.4,220.5 304.4,220.5 305.4,220.5 306.4,220.5 307.4,220.5 308.4,220.5 309.4,220.5 310.4,220.5 311.4,220.5 312.4,220.5 313.4,220.5 314.4,220.5 315.4,220.5 316.4,220.5 317.4,220.5 318.4,220.5 319.4,220.5 320.4,220.5" fill="none" stroke="#222" stroke-width="1.2" stroke-dasharray="0.5,1.8" stroke-linecap="round"/>
<path d="M199.4,139.7 200.4,139.7 201.4,139.7 202.4,139.7 203.4,139.7 204.4,139.7 205.4,139.7 206.4,139.7 207.4,139.7 208.4,139.7 209.4,139.7 210.4,139.7 211.4,139.7 212.4,139.7 213.4,139.7 214.4,139.7 215.4,139.7 216.4,139.7 217.4,139.7 218.4,139.7 219.4,139.7 220.4,139.7 221.4,139.7 222.4,139.7 223.4,139.7 224.4,139.7 225.4,139.7 226.4,139.7 227.4,139.7 228.4,139.8 229.4,139.8 230.4,139.8 231.4,139.9 232.4,139.9 233.4,140.0 234.4,140.1 235.4,140.2 236.4,140.4 237.4,140.6 238.4,141.0 239.4,141.4 240.4,142.0 241.4,142.8 242.4,143.8 243.4,145.1 244.4,146.8 245.4,149.0 246.4,151.8 247.4,155.2 248.4,159.3 249.4,164.1 250.4,169.4 251.4,175.3 252.4,181.3 253.4,187.3 254.4,192.9 255.4,198.1 256.4,202.6 257.4,206.4 258.4,209.6 259.4,212.1 260.4,214.1 261.4,215.7 262.4,216.9 263.4,217.8 264.4,218.5 265.4,219.0 266.4,219.4 267.4,219.7 268.4,219.9 269.4,220.0 270.4,220.2 271.4,220.2 272.4,220.3 273.4,220.4 274.4,220.4 275.4,220.4 276.4,220.4 277.4,220.5 278.4,220.5 279.4,220.5 280.4,220.5 281.4,220.5 282.4,220.5 283.4,220.5 284.4,220.5 285.4,220.5 286.4,220.5 287.4,220.5 288.4,220.5 289.4,220.5 290.4,220.5 291.4,220.5 292.4,220.5 293.4,220.5 294.4,220.5 295.4,220.5 296.4,220.5 297.4,220.5 298.4,220.5 299.4,220.5 300.4,220.5 301.4,220.5 302.4,220.5 303.4,220.5 304.4,220.5 305.4,220.5 306.4,220.5 307.4,220.5 308.4,220.5 309.4,220.5 310.4,220.5 311.4,220.5 312.4,220.5 313.4,220.5 314.4,220.5 315.4,220.5 316.4,220.5 317.4,220.5 318.4,220.5 319.4,220.5 320.4,220.5" fill="none" stroke="#222" stroke-width="1.15" stroke-dasharray="3.2,1.7" />
<path d="M199.4,139.7 200.4,139.7 201.4,139.7 202.4,139.7 203.4,139.7 204.4,139.7 205.4,139.7 206.4,139.7 207.4,139.7 208.4,139.7 209.4,139.7 210.4,139.7 211.4,139.7 212.4,139.7 213.4,139.7 214.4,139.7 215.4,139.7 216.4,139.7 217.4,139.8 218.4,139.8 219.4,139.8 220.4,139.8 221.4,139.8 222.4,139.8 223.4,139.9 224.4,139.9 225.4,140.0 226.4,140.0 227.4,140.1 228.4,140.2 229.4,140.4 230.4,140.5 231.4,140.7 232.4,140.9 233.4,141.2 234.4,141.6 235.4,142.0 236.4,142.5 237.4,143.2 238.4,143.9 239.4,144.9 240.4,146.0 241.4,147.4 242.4,149.0 243.4,150.9 244.4,153.1 245.4,155.6 246.4,158.5 247.4,161.8 248.4,165.3 249.4,169.2 250.4,173.3 251.4,177.5 252.4,181.8 253.4,186.1 254.4,190.2 255.4,194.1 256.4,197.7 257.4,201.1 258.4,204.0 259.4,206.6 260.4,208.9 261.4,210.9 262.4,212.5 263.4,213.9 264.4,215.1 265.4,216.1 266.4,216.9 267.4,217.6 268.4,218.1 269.4,218.6 270.4,218.9 271.4,219.2 272.4,219.5 273.4,219.7 274.4,219.8 275.4,219.9 276.4,220.1 277.4,220.1 278.4,220.2 279.4,220.3 280.4,220.3 281.4,220.3 282.4,220.4 283.4,220.4 284.4,220.4 285.4,220.4 286.4,220.4 287.4,220.5 288.4,220.5 289.4,220.5 290.4,220.5 291.4,220.5 292.4,220.5 293.4,220.5 294.4,220.5 295.4,220.5 296.4,220.5 297.4,220.5 298.4,220.5 299.4,220.5 300.4,220.5 301.4,220.5 302.4,220.5 303.4,220.5 304.4,220.5 305.4,220.5 306.4,220.5 307.4,220.5 308.4,220.5 309.4,220.5 310.4,220.5 311.4,220.5 312.4,220.5 313.4,220.5 314.4,220.5 315.4,220.5 316.4,220.5 317.4,220.5 318.4,220.5 319.4,220.5 320.4,220.5" fill="none" stroke="#2030b0" stroke-width="1.2" />
<path d="M199.4,139.7 200.4,139.7 201.4,139.7 202.4,139.7 203.4,139.7 204.4,139.7 205.4,139.7 206.4,139.7 207.4,139.7 208.4,139.7 209.4,139.7 210.4,139.7 211.4,139.7 212.4,139.7 213.4,139.8 214.4,139.8 215.4,139.8 216.4,139.8 217.4,139.8 218.4,139.8 219.4,139.8 220.4,139.8 221.4,139.9 222.4,139.9 223.4,139.9 224.4,140.0 225.4,140.0 226.4,140.0 227.4,140.1 228.4,140.2 229.4,140.2 230.4,140.3 231.4,140.4 232.4,140.5 233.4,140.6 234.4,140.8 235.4,141.0 236.4,141.2 237.4,141.4 238.4,141.6 239.4,141.9 240.4,142.3 241.4,142.7 242.4,143.1 243.4,143.6 244.4,144.2 245.4,144.8 246.4,145.6 247.4,146.4 248.4,147.4 249.4,148.4 250.4,149.6 251.4,151.0 252.4,152.5 253.4,154.1 254.4,155.9 255.4,157.9 256.4,160.0 257.4,162.3 258.4,164.7 259.4,167.3 260.4,170.0 261.4,172.8 262.4,175.7 263.4,178.6 264.4,181.5 265.4,184.4 266.4,187.3 267.4,190.1 268.4,192.8 269.4,195.4 270.4,197.8 271.4,200.1 272.4,202.3 273.4,204.2 274.4,206.0 275.4,207.7 276.4,209.2 277.4,210.5 278.4,211.7 279.4,212.8 280.4,213.7 281.4,214.6 282.4,215.3 283.4,216.0 284.4,216.6 285.4,217.1 286.4,217.5 287.4,217.9 288.4,218.3 289.4,218.6 290.4,218.8 291.4,219.0 292.4,219.2 293.4,219.4 294.4,219.5 295.4,219.7 296.4,219.8 297.4,219.9 298.4,220.0 299.4,220.0 300.4,220.1 301.4,220.2 302.4,220.2 303.4,220.2 304.4,220.3 305.4,220.3 306.4,220.3 307.4,220.4 308.4,220.4 309.4,220.4 310.4,220.4 311.4,220.4 312.4,220.4 313.4,220.4 314.4,220.4 315.4,220.5 316.4,220.5 317.4,220.5 318.4,220.5 319.4,220.5 320.4,220.5" fill="none" stroke="#2a2a9a" stroke-width="1.3" stroke-dasharray="3.4,1.7" />
<line x1="199.40" y1="139.40" x2="199.40" y2="221.00" stroke="#1a1a1a" stroke-width="1.25" />
<line x1="198.90" y1="220.50" x2="321.00" y2="220.50" stroke="#1a1a1a" stroke-width="1.3" />
<line x1="196.40" y1="220.50" x2="199.40" y2="220.50" stroke="#1a1a1a" stroke-width="0.9" />
<g fill="#111" transform="translate(184.90,222.90) scale(1.0800,1)"><text x="0.00" y="0.00" font-size="7.0" style="font-weight:bold">0.0</text></g>
<line x1="196.40" y1="204.34" x2="199.40" y2="204.34" stroke="#1a1a1a" stroke-width="0.9" />
<g fill="#111" transform="translate(184.90,206.74) scale(1.0792,1)"><text x="0.00" y="0.00" font-size="7.0" style="font-weight:bold">0.2</text></g>
<line x1="196.40" y1="188.18" x2="199.40" y2="188.18" stroke="#1a1a1a" stroke-width="0.9" />
<g fill="#111" transform="translate(184.91,190.58) scale(1.0513,1)"><text x="0.00" y="0.00" font-size="7.0" style="font-weight:bold">0.4</text></g>
<line x1="196.40" y1="172.02" x2="199.40" y2="172.02" stroke="#1a1a1a" stroke-width="0.9" />
<g fill="#111" transform="translate(184.90,174.42) scale(1.0759,1)"><text x="0.00" y="0.00" font-size="7.0" style="font-weight:bold">0.6</text></g>
<line x1="196.40" y1="155.86" x2="199.40" y2="155.86" stroke="#1a1a1a" stroke-width="0.9" />
<g fill="#111" transform="translate(184.90,158.26) scale(1.0716,1)"><text x="0.00" y="0.00" font-size="7.0" style="font-weight:bold">0.8</text></g>
<line x1="196.40" y1="139.70" x2="199.40" y2="139.70" stroke="#1a1a1a" stroke-width="0.9" />
<g fill="#111" transform="translate(184.72,142.10) scale(1.0996,1)"><text x="0.00" y="0.00" font-size="7.0" style="font-weight:bold">1.0</text></g>
<line x1="199.40" y1="220.50" x2="199.40" y2="223.50" stroke="#1a1a1a" stroke-width="0.9" />
<line x1="206.75" y1="220.50" x2="206.75" y2="222.90" stroke="#1a1a1a" stroke-width="0.9" />
<line x1="211.04" y1="220.50" x2="211.04" y2="222.90" stroke="#1a1a1a" stroke-width="0.9" />
<line x1="214.09" y1="220.50" x2="214.09" y2="222.90" stroke="#1a1a1a" stroke-width="0.9" />
<line x1="216.45" y1="220.50" x2="216.45" y2="222.90" stroke="#1a1a1a" stroke-width="0.9" />
<line x1="218.39" y1="220.50" x2="218.39" y2="222.90" stroke="#1a1a1a" stroke-width="0.9" />
<line x1="220.02" y1="220.50" x2="220.02" y2="222.90" stroke="#1a1a1a" stroke-width="0.9" />
<line x1="221.44" y1="220.50" x2="221.44" y2="222.90" stroke="#1a1a1a" stroke-width="0.9" />
<line x1="222.68" y1="220.50" x2="222.68" y2="222.90" stroke="#1a1a1a" stroke-width="0.9" />
<line x1="223.80" y1="220.50" x2="223.80" y2="223.50" stroke="#1a1a1a" stroke-width="0.9" />
<line x1="231.15" y1="220.50" x2="231.15" y2="222.90" stroke="#1a1a1a" stroke-width="0.9" />
<line x1="235.44" y1="220.50" x2="235.44" y2="222.90" stroke="#1a1a1a" stroke-width="0.9" />
<line x1="238.49" y1="220.50" x2="238.49" y2="222.90" stroke="#1a1a1a" stroke-width="0.9" />
<line x1="240.85" y1="220.50" x2="240.85" y2="222.90" stroke="#1a1a1a" stroke-width="0.9" />
<line x1="242.79" y1="220.50" x2="242.79" y2="222.90" stroke="#1a1a1a" stroke-width="0.9" />
<line x1="244.42" y1="220.50" x2="244.42" y2="222.90" stroke="#1a1a1a" stroke-width="0.9" />
<line x1="245.84" y1="220.50" x2="245.84" y2="222.90" stroke="#1a1a1a" stroke-width="0.9" />
<line x1="247.08" y1="220.50" x2="247.08" y2="222.90" stroke="#1a1a1a" stroke-width="0.9" />
<line x1="248.20" y1="220.50" x2="248.20" y2="223.50" stroke="#1a1a1a" stroke-width="0.9" />
<line x1="255.55" y1="220.50" x2="255.55" y2="222.90" stroke="#1a1a1a" stroke-width="0.9" />
<line x1="259.84" y1="220.50" x2="259.84" y2="222.90" stroke="#1a1a1a" stroke-width="0.9" />
<line x1="262.89" y1="220.50" x2="262.89" y2="222.90" stroke="#1a1a1a" stroke-width="0.9" />
<line x1="265.25" y1="220.50" x2="265.25" y2="222.90" stroke="#1a1a1a" stroke-width="0.9" />
<line x1="267.19" y1="220.50" x2="267.19" y2="222.90" stroke="#1a1a1a" stroke-width="0.9" />
<line x1="268.82" y1="220.50" x2="268.82" y2="222.90" stroke="#1a1a1a" stroke-width="0.9" />
<line x1="270.24" y1="220.50" x2="270.24" y2="222.90" stroke="#1a1a1a" stroke-width="0.9" />
<line x1="271.48" y1="220.50" x2="271.48" y2="222.90" stroke="#1a1a1a" stroke-width="0.9" />
<line x1="272.60" y1="220.50" x2="272.60" y2="223.50" stroke="#1a1a1a" stroke-width="0.9" />
<line x1="279.95" y1="220.50" x2="279.95" y2="222.90" stroke="#1a1a1a" stroke-width="0.9" />
<line x1="284.24" y1="220.50" x2="284.24" y2="222.90" stroke="#1a1a1a" stroke-width="0.9" />
<line x1="287.29" y1="220.50" x2="287.29" y2="222.90" stroke="#1a1a1a" stroke-width="0.9" />
<line x1="289.65" y1="220.50" x2="289.65" y2="222.90" stroke="#1a1a1a" stroke-width="0.9" />
<line x1="291.59" y1="220.50" x2="291.59" y2="222.90" stroke="#1a1a1a" stroke-width="0.9" />
<line x1="293.22" y1="220.50" x2="293.22" y2="222.90" stroke="#1a1a1a" stroke-width="0.9" />
<line x1="294.64" y1="220.50" x2="294.64" y2="222.90" stroke="#1a1a1a" stroke-width="0.9" />
<line x1="295.88" y1="220.50" x2="295.88" y2="222.90" stroke="#1a1a1a" stroke-width="0.9" />
<line x1="297.00" y1="220.50" x2="297.00" y2="223.50" stroke="#1a1a1a" stroke-width="0.9" />
<line x1="304.35" y1="220.50" x2="304.35" y2="222.90" stroke="#1a1a1a" stroke-width="0.9" />
<line x1="308.64" y1="220.50" x2="308.64" y2="222.90" stroke="#1a1a1a" stroke-width="0.9" />
<line x1="311.69" y1="220.50" x2="311.69" y2="222.90" stroke="#1a1a1a" stroke-width="0.9" />
<line x1="314.05" y1="220.50" x2="314.05" y2="222.90" stroke="#1a1a1a" stroke-width="0.9" />
<line x1="315.99" y1="220.50" x2="315.99" y2="222.90" stroke="#1a1a1a" stroke-width="0.9" />
<line x1="317.62" y1="220.50" x2="317.62" y2="222.90" stroke="#1a1a1a" stroke-width="0.9" />
<line x1="319.04" y1="220.50" x2="319.04" y2="222.90" stroke="#1a1a1a" stroke-width="0.9" />
<line x1="320.28" y1="220.50" x2="320.28" y2="222.90" stroke="#1a1a1a" stroke-width="0.9" />
<line x1="321.40" y1="220.50" x2="321.40" y2="223.50" stroke="#1a1a1a" stroke-width="0.9" />
<g fill="#111" transform="translate(197.43,229.60) scale(1.0000,1)"><text x="0.00" y="0.00" font-size="7.0" style="font-weight:bold">1</text></g>
<g fill="#111" transform="translate(219.23,229.60) scale(1.0000,1)"><text x="0.00" y="0.00" font-size="7.0" style="font-weight:bold">10</text></g>
<g fill="#111" transform="translate(243.18,229.60) scale(1.0000,1)"><text x="0.00" y="0.00" font-size="7.0" style="font-weight:bold">100</text></g>
<g fill="#111" transform="translate(265.74,229.60) scale(1.0000,1)"><text x="0.00" y="0.00" font-size="7.0" style="font-weight:bold">1000</text></g>
<g fill="#111" transform="translate(286.89,229.60) scale(1.0000,1)"><text x="0.00" y="0.00" font-size="7.0" style="font-weight:bold">10000</text></g>
<g fill="#111" transform="translate(312.34,229.60) scale(1.0000,1)"><text x="0.00" y="0.00" font-size="7.0" style="font-weight:bold">100000</text></g>
<g fill="#111" transform="translate(260.14,146.40) scale(1.0163,1)"><text x="0.00" y="0.00" font-size="8.8" style="font-weight:bold;font-style:italic">MLL</text><text x="18.08" y="0.00" font-size="8.8" style="font-weight:bold">-G</text></g>
<g fill="#111" transform="translate(263.89,156.20) scale(1.0786,1)"><text x="0.00" y="0.00" font-size="8.6" style="font-weight:bold">n= 7</text></g>
<g fill="#111" transform="translate(181.00,221.57) rotate(-90) scale(1.0569,1)"><text x="0.00" y="0.00" font-size="9.0" style="font-weight:bold">Survivng Fraction</text></g>
<g fill="#111" transform="translate(232.35,240.30) scale(0.9303,1)"><text x="0.00" y="0.00" font-size="9.3" style="font-weight:bold">Obatoclax (nM)</text></g>
</g>
<g id="B">
<g fill="#111" transform="translate(348.62,9.00) scale(1.0931,1)"><text x="0.00" y="0.00" font-size="12.0" style="font-weight:bold">B</text></g>
<line x1="386.60" y1="22.40" x2="518.60" y2="22.40" stroke="#b0b0b0" stroke-width="0.8" />
<line x1="386.60" y1="22.40" x2="386.60" y2="93.20" stroke="#8a8a8a" stroke-width="0.9" />
<line x1="386.60" y1="93.20" x2="518.60" y2="93.20" stroke="#b0b0b0" stroke-width="0.8" />
<line x1="518.70" y1="22.00" x2="518.70" y2="93.60" stroke="#444" stroke-width="1.2" />
<line x1="383.60" y1="93.00" x2="386.60" y2="93.00" stroke="#444" stroke-width="0.8" />
<g fill="#111" transform="translate(379.69,95.50) scale(1.0000,1)"><text x="0.00" y="0.00" font-size="7.2" style="font-weight:bold">0</text></g>
<line x1="383.60" y1="78.00" x2="386.60" y2="78.00" stroke="#444" stroke-width="0.8" />
<g fill="#111" transform="translate(371.68,80.50) scale(1.0000,1)"><text x="0.00" y="0.00" font-size="7.2" style="font-weight:bold">200</text></g>
<line x1="383.60" y1="63.00" x2="386.60" y2="63.00" stroke="#444" stroke-width="0.8" />
<g fill="#111" transform="translate(371.68,65.50) scale(1.0000,1)"><text x="0.00" y="0.00" font-size="7.2" style="font-weight:bold">400</text></g>
<line x1="383.60" y1="48.00" x2="386.60" y2="48.00" stroke="#444" stroke-width="0.8" />
<g fill="#111" transform="translate(371.68,50.50) scale(1.0000,1)"><text x="0.00" y="0.00" font-size="7.2" style="font-weight:bold">600</text></g>
<line x1="383.60" y1="33.00" x2="386.60" y2="33.00" stroke="#444" stroke-width="0.8" />
<g fill="#111" transform="translate(371.68,35.50) scale(1.0000,1)"><text x="0.00" y="0.00" font-size="7.2" style="font-weight:bold">800</text></g>
<line x1="407.10" y1="93.20" x2="407.10" y2="95.00" stroke="#666" stroke-width="0.7" />
<line x1="437.80" y1="93.20" x2="437.80" y2="95.00" stroke="#666" stroke-width="0.7" />
<line x1="468.60" y1="93.20" x2="468.60" y2="95.00" stroke="#666" stroke-width="0.7" />
<line x1="499.50" y1="93.20" x2="499.50" y2="95.00" stroke="#666" stroke-width="0.7" />
<rect x="394.30" y="76.20" width="25.10" height="11.10" fill="none" stroke="#8e8e8e" stroke-width="0.8"/>
<line x1="394.30" y1="83.50" x2="419.40" y2="83.50" stroke="#707070" stroke-width="1.0" />
<line x1="406.85" y1="76.20" x2="406.85" y2="60.10" stroke="#a0a0a0" stroke-width="0.7" />
<line x1="406.85" y1="87.30" x2="406.85" y2="89.70" stroke="#a0a0a0" stroke-width="0.7" />
<line x1="399.85" y1="60.10" x2="413.85" y2="60.10" stroke="#a0a0a0" stroke-width="0.7" />
<line x1="399.85" y1="89.70" x2="413.85" y2="89.70" stroke="#b0b0b0" stroke-width="0.7" />
<rect x="405.75" y="54.20" width="2.2" height="1.6" fill="#aaa"/>
<rect x="405.75" y="24.10" width="2.2" height="1.6" fill="#aaa"/>
<rect x="425.00" y="85.30" width="25.60" height="4.00" fill="#d4d4d4" stroke="#8e8e8e" stroke-width="0.8"/>
<line x1="425.00" y1="87.20" x2="450.60" y2="87.20" stroke="#707070" stroke-width="1.0" />
<line x1="437.80" y1="85.30" x2="437.80" y2="84.30" stroke="#a0a0a0" stroke-width="0.7" />
<line x1="437.80" y1="89.30" x2="437.80" y2="91.00" stroke="#a0a0a0" stroke-width="0.7" />
<line x1="431.80" y1="84.30" x2="443.80" y2="84.30" stroke="#a0a0a0" stroke-width="0.7" />
<line x1="431.80" y1="91.00" x2="443.80" y2="91.00" stroke="#b0b0b0" stroke-width="0.7" />
<rect x="436.70" y="69.70" width="2.2" height="1.6" fill="#aaa"/>
<rect x="456.10" y="80.20" width="25.50" height="9.10" fill="none" stroke="#8e8e8e" stroke-width="0.8"/>
<line x1="456.10" y1="88.50" x2="481.60" y2="88.50" stroke="#707070" stroke-width="1.0" />
<line x1="468.85" y1="80.20" x2="468.85" y2="77.20" stroke="#a0a0a0" stroke-width="0.7" />
<line x1="468.85" y1="89.30" x2="468.85" y2="90.70" stroke="#a0a0a0" stroke-width="0.7" />
<line x1="462.85" y1="77.20" x2="474.85" y2="77.20" stroke="#a0a0a0" stroke-width="0.7" />
<line x1="462.85" y1="90.70" x2="474.85" y2="90.70" stroke="#b0b0b0" stroke-width="0.7" />
<rect x="467.75" y="65.20" width="2.2" height="1.6" fill="#aaa"/>
<rect x="487.40" y="80.20" width="24.50" height="7.80" fill="none" stroke="#8e8e8e" stroke-width="0.8"/>
<line x1="487.40" y1="86.40" x2="511.90" y2="86.40" stroke="#707070" stroke-width="1.0" />
<line x1="499.65" y1="80.20" x2="499.65" y2="79.60" stroke="#a0a0a0" stroke-width="0.7" />
<line x1="499.65" y1="88.00" x2="499.65" y2="89.60" stroke="#a0a0a0" stroke-width="0.7" />
<line x1="493.65" y1="79.60" x2="505.65" y2="79.60" stroke="#a0a0a0" stroke-width="0.7" />
<line x1="493.65" y1="89.60" x2="505.65" y2="89.60" stroke="#b0b0b0" stroke-width="0.7" />
<rect x="498.55" y="55.20" width="2.2" height="1.6" fill="#aaa"/>
<g fill="#111" transform="translate(407.24,6.40) scale(1.0339,1)"><text x="0.00" y="0.00" font-size="6.8" style="font-weight:bold">p = 0.044</text></g>
<g fill="#111" transform="translate(437.78,3.60) scale(1.0383,1)"><text x="0.00" y="0.00" font-size="5.0" style="font-weight:bold">*</text></g>
<line x1="407.20" y1="9.80" x2="438.20" y2="9.80" stroke="#111" stroke-width="0.9" />
<line x1="407.60" y1="9.40" x2="407.60" y2="12.20" stroke="#111" stroke-width="0.9" />
<line x1="437.80" y1="9.40" x2="437.80" y2="12.20" stroke="#111" stroke-width="0.9" />
<g fill="#111" transform="translate(401.43,19.60) scale(0.9480,1)"><text x="0.00" y="0.00" font-size="6.8" style="font-weight:bold;font-style:italic">AF4</text></g>
<g fill="#111" transform="translate(431.98,19.60) scale(1.0014,1)"><text x="0.00" y="0.00" font-size="6.8" style="font-weight:bold;font-style:italic">ENL</text></g>
<g fill="#111" transform="translate(461.01,13.30) scale(1.0404,1)"><text x="0.00" y="0.00" font-size="6.7" style="font-weight:bold">Other</text></g>
<g fill="#111" transform="translate(458.88,20.00) scale(1.0341,1)"><text x="0.00" y="0.00" font-size="6.8" style="font-weight:bold;font-style:italic">MLL</text><text x="13.97" y="0.00" font-size="6.8" style="font-weight:bold">-R</text></g>
<g fill="#111" transform="translate(490.08,20.00) scale(1.0150,1)"><text x="0.00" y="0.00" font-size="6.8" style="font-weight:bold;font-style:italic">MLL</text><text x="13.97" y="0.00" font-size="6.8" style="font-weight:bold">-G</text></g>
<g fill="#111" transform="translate(458.98,28.60) scale(1.2459,1)"><text x="0.00" y="0.00" font-size="5.0" style="font-weight:bold">*</text></g>
<g fill="#111" transform="translate(461.39,33.00) scale(1.0142,1)"><text x="0.00" y="0.00" font-size="6.9" style="font-weight:bold">Wilcoxon's Test</text></g>
<g fill="#111" transform="translate(366.40,75.40) rotate(-90) scale(0.9761,1)"><text x="0.00" y="0.00" font-size="9.2" style="font-weight:bold">EC</text><text x="12.78" y="2.00" font-size="6.2" style="font-weight:bold">50</text><text x="19.68" y="0.00" font-size="9.2" style="font-weight:bold"> (nM)</text></g>
<g fill="#111" transform="translate(352.01,103.70) scale(1.0711,1)"><text x="0.00" y="0.00" font-size="6.8" style="font-weight:bold">Range (nM)</text></g>
<g fill="#111" transform="translate(397.16,103.70) scale(1.0800,1)"><text x="0.00" y="0.00" font-size="6.8" style="font-weight:bold">26-834</text></g>
<g fill="#111" transform="translate(425.35,103.70) scale(1.0800,1)"><text x="0.00" y="0.00" font-size="6.8" style="font-weight:bold">13-294</text></g>
<g fill="#111" transform="translate(457.87,103.70) scale(1.0800,1)"><text x="0.00" y="0.00" font-size="6.8" style="font-weight:bold">10-356</text></g>
<g fill="#111" transform="translate(489.59,103.70) scale(1.0800,1)"><text x="0.00" y="0.00" font-size="6.8" style="font-weight:bold">31-488</text></g>
<g fill="#111" transform="translate(355.61,111.10) scale(1.0724,1)"><text x="0.00" y="0.00" font-size="6.8" style="font-weight:bold">Mean (nM)</text></g>
<g fill="#111" transform="translate(402.46,111.10) scale(1.0800,1)"><text x="0.00" y="0.00" font-size="6.8" style="font-weight:bold">168</text></g>
<g fill="#111" transform="translate(432.89,111.10) scale(1.0800,1)"><text x="0.00" y="0.00" font-size="6.8" style="font-weight:bold">76</text></g>
<g fill="#111" transform="translate(463.14,111.10) scale(1.0800,1)"><text x="0.00" y="0.00" font-size="6.8" style="font-weight:bold">101</text></g>
<g fill="#111" transform="translate(494.74,111.10) scale(1.0800,1)"><text x="0.00" y="0.00" font-size="6.8" style="font-weight:bold">145</text></g>
<g fill="#111" transform="translate(349.31,119.00) scale(1.0677,1)"><text x="0.00" y="0.00" font-size="6.8" style="font-weight:bold">Median (nM)</text></g>
<g fill="#111" transform="translate(402.48,119.00) scale(1.0800,1)"><text x="0.00" y="0.00" font-size="6.8" style="font-weight:bold">109</text></g>
<g fill="#111" transform="translate(432.94,119.00) scale(1.0800,1)"><text x="0.00" y="0.00" font-size="6.8" style="font-weight:bold">67</text></g>
<g fill="#111" transform="translate(465.36,119.00) scale(1.0800,1)"><text x="0.00" y="0.00" font-size="6.8" style="font-weight:bold">41</text></g>
<g fill="#111" transform="translate(496.87,119.00) scale(1.0800,1)"><text x="0.00" y="0.00" font-size="6.8" style="font-weight:bold">78</text></g>
</g>
<g id="C">
<g fill="#111" transform="translate(348.69,140.20) scale(0.9648,1)"><text x="0.00" y="0.00" font-size="13.0" style="font-weight:bold">C</text></g>
<line x1="383.40" y1="140.60" x2="519.00" y2="140.60" stroke="#555" stroke-width="0.9" />
<line x1="519.00" y1="140.60" x2="519.00" y2="220.60" stroke="#333" stroke-width="1.2" />
<line x1="383.40" y1="140.20" x2="383.40" y2="220.80" stroke="#222" stroke-width="1.1" />
<line x1="383.00" y1="220.60" x2="519.20" y2="220.60" stroke="#222" stroke-width="1.1" />
<line x1="380.60" y1="218.40" x2="383.40" y2="218.40" stroke="#222" stroke-width="0.9" />
<g fill="#111" transform="translate(370.29,220.90) scale(1.1030,1)"><text x="0.00" y="0.00" font-size="7.2" style="font-weight:bold">0.0</text></g>
<line x1="380.60" y1="203.36" x2="383.40" y2="203.36" stroke="#222" stroke-width="0.9" />
<g fill="#111" transform="translate(370.29,205.86) scale(1.1022,1)"><text x="0.00" y="0.00" font-size="7.2" style="font-weight:bold">0.2</text></g>
<line x1="380.60" y1="188.32" x2="383.40" y2="188.32" stroke="#222" stroke-width="0.9" />
<g fill="#111" transform="translate(370.29,190.82) scale(1.0738,1)"><text x="0.00" y="0.00" font-size="7.2" style="font-weight:bold">0.4</text></g>
<line x1="380.60" y1="173.28" x2="383.40" y2="173.28" stroke="#222" stroke-width="0.9" />
<g fill="#111" transform="translate(370.29,175.78) scale(1.0989,1)"><text x="0.00" y="0.00" font-size="7.2" style="font-weight:bold">0.6</text></g>
<line x1="380.60" y1="158.24" x2="383.40" y2="158.24" stroke="#222" stroke-width="0.9" />
<g fill="#111" transform="translate(370.29,160.74) scale(1.0944,1)"><text x="0.00" y="0.00" font-size="7.2" style="font-weight:bold">0.8</text></g>
<line x1="380.60" y1="143.20" x2="383.40" y2="143.20" stroke="#222" stroke-width="0.9" />
<g fill="#111" transform="translate(370.09,145.70) scale(1.1231,1)"><text x="0.00" y="0.00" font-size="7.2" style="font-weight:bold">1.0</text></g>
<line x1="384.50" y1="220.60" x2="384.50" y2="223.20" stroke="#222" stroke-width="0.9" />
<g fill="#111" transform="translate(382.39,230.00) scale(1.0000,1)"><text x="0.00" y="0.00" font-size="7.6" style="font-weight:bold">0</text></g>
<line x1="402.40" y1="220.60" x2="402.40" y2="223.20" stroke="#222" stroke-width="0.9" />
<g fill="#111" transform="translate(400.15,230.00) scale(1.0000,1)"><text x="0.00" y="0.00" font-size="7.6" style="font-weight:bold">1</text></g>
<line x1="420.30" y1="220.60" x2="420.30" y2="223.20" stroke="#222" stroke-width="0.9" />
<g fill="#111" transform="translate(418.21,230.00) scale(1.0000,1)"><text x="0.00" y="0.00" font-size="7.6" style="font-weight:bold">2</text></g>
<line x1="438.20" y1="220.60" x2="438.20" y2="223.20" stroke="#222" stroke-width="0.9" />
<g fill="#111" transform="translate(436.14,230.00) scale(1.0000,1)"><text x="0.00" y="0.00" font-size="7.6" style="font-weight:bold">3</text></g>
<line x1="456.10" y1="220.60" x2="456.10" y2="223.20" stroke="#222" stroke-width="0.9" />
<g fill="#111" transform="translate(453.95,230.00) scale(1.0000,1)"><text x="0.00" y="0.00" font-size="7.6" style="font-weight:bold">4</text></g>
<line x1="474.00" y1="220.60" x2="474.00" y2="223.20" stroke="#222" stroke-width="0.9" />
<g fill="#111" transform="translate(471.88,230.00) scale(1.0000,1)"><text x="0.00" y="0.00" font-size="7.6" style="font-weight:bold">5</text></g>
<line x1="491.90" y1="220.60" x2="491.90" y2="223.20" stroke="#222" stroke-width="0.9" />
<g fill="#111" transform="translate(489.78,230.00) scale(1.0000,1)"><text x="0.00" y="0.00" font-size="7.6" style="font-weight:bold">6</text></g>
<line x1="509.80" y1="220.60" x2="509.80" y2="223.20" stroke="#222" stroke-width="0.9" />
<g fill="#111" transform="translate(507.69,230.00) scale(1.0000,1)"><text x="0.00" y="0.00" font-size="7.6" style="font-weight:bold">7</text></g>
<g fill="#111" transform="translate(434.14,240.70) scale(0.9413,1)"><text x="0.00" y="0.00" font-size="10.0" style="font-weight:bold">Years</text></g>
<g fill="#111" transform="translate(366.30,204.03) rotate(-90) scale(1.0489,1)"><text x="0.00" y="0.00" font-size="9.0" style="font-weight:bold">Probability</text></g>
<path d="M384.50,143.20 H391.30 V150.72 H392.91 V158.24 H399.54 V165.76 H400.97 V173.28 H402.40 V180.80 H404.55 V188.32 H408.67 V194.79 H470.42 V194.79 H470.42 V192.83" fill="none" stroke="#1a1a1a" stroke-width="1.2" />
<path d="M384.50,143.20 H385.04 V145.46 H385.93 V148.46 H386.83 V151.47 H387.72 V153.73 H388.26 V155.98 H392.20 V167.26 H399.00 V171.78 H399.89 V174.78 H400.97 V177.79 H402.04 V180.80 H403.12 V183.06 H404.19 V185.31 H406.88 V187.57 H410.99 V189.52 H418.51 V192.83 H515.17 V192.83" fill="none" stroke="#c02020" stroke-width="1.15" />
<line x1="422.45" y1="191.03" x2="422.45" y2="192.83" stroke="#c02020" stroke-width="0.9" />
<line x1="438.56" y1="191.03" x2="438.56" y2="192.83" stroke="#c02020" stroke-width="0.9" />
<line x1="450.19" y1="191.03" x2="450.19" y2="192.83" stroke="#c02020" stroke-width="0.9" />
<line x1="460.04" y1="191.03" x2="460.04" y2="192.83" stroke="#c02020" stroke-width="0.9" />
<line x1="468.45" y1="191.03" x2="468.45" y2="192.83" stroke="#c02020" stroke-width="0.9" />
<line x1="473.82" y1="191.03" x2="473.82" y2="192.83" stroke="#c02020" stroke-width="0.9" />
<line x1="499.24" y1="191.03" x2="499.24" y2="192.83" stroke="#c02020" stroke-width="0.9" />
<line x1="503.00" y1="191.03" x2="503.00" y2="192.83" stroke="#c02020" stroke-width="0.9" />
<line x1="511.41" y1="191.03" x2="511.41" y2="192.83" stroke="#c02020" stroke-width="0.9" />
<g fill="#111" transform="translate(469.90,189.30) scale(0.8753,1)"><text x="0.00" y="0.00" font-size="6.4" style="font-weight:bold;font-style:italic">P</text><text x="4.27" y="0.00" font-size="6.4" style="font-weight:bold"> = 0.9425</text></g>
<line x1="390.40" y1="206.60" x2="397.60" y2="206.60" stroke="#1a1a1a" stroke-width="1.3" />
<line x1="390.40" y1="215.00" x2="397.60" y2="215.00" stroke="#b02020" stroke-width="1.3" />
<g fill="#111" transform="translate(399.51,208.60) scale(1.0414,1)"><text x="0.00" y="0.00" font-size="5.6" style="font-weight:bold">EC</text><text x="7.78" y="1.50" font-size="3.6" style="font-weight:bold">50</text><text x="11.78" y="0.00" font-size="5.6" style="font-weight:bold"> ≥ 176 nM (n = 10)</text></g>
<g fill="#111" transform="translate(399.51,217.00) scale(1.0378,1)"><text x="0.00" y="0.00" font-size="5.6" style="font-weight:bold">EC</text><text x="7.78" y="1.50" font-size="3.6" style="font-weight:bold">50</text><text x="11.78" y="0.00" font-size="5.6" style="font-weight:bold"> &lt; 176 nM (n = 37)</text></g>
</g>
<g id="D">
<g fill="#111" transform="translate(-0.88,254.10) scale(1.1006,1)"><text x="0.00" y="0.00" font-size="12.0" style="font-weight:bold">D</text></g>
<path d="M25.90,277.04 L26.40,277.05 L26.90,277.06 L27.40,277.07 L27.90,277.08 L28.40,277.09 L28.90,277.10 L29.40,277.12 L29.90,277.13 L30.40,277.14 L30.90,277.15 L31.40,277.17 L31.90,277.18 L32.40,277.19 L32.90,277.21 L33.40,277.22 L33.90,277.24 L34.40,277.26 L34.90,277.27 L35.40,277.29 L35.90,277.31 L36.40,277.33 L36.90,277.35 L37.40,277.37 L37.90,277.39 L38.40,277.41 L38.90,277.43 L39.40,277.46 L39.90,277.48 L40.40,277.51 L40.90,277.53 L41.40,277.56 L41.90,277.59 L42.40,277.61 L42.90,277.64 L43.40,277.68 L43.90,277.71 L44.40,277.74 L44.90,277.77 L45.40,277.81 L45.90,277.85 L46.40,277.88 L46.90,277.92 L47.40,277.96 L47.90,278.01 L48.40,278.05 L48.90,278.10 L49.40,278.14 L49.90,278.19 L50.40,278.24 L50.90,278.29 L51.40,278.35 L51.90,278.40 L52.40,278.46 L52.90,278.52 L53.40,278.58 L53.90,278.64 L54.40,278.71 L54.90,278.77 L55.40,278.84 L55.90,278.92 L56.40,278.99 L56.90,279.07 L57.40,279.15 L57.90,279.23 L58.40,279.32 L58.90,279.41 L59.40,279.50 L59.90,279.59 L60.40,279.69 L60.90,279.79 L61.40,279.89 L61.90,280.00 L62.40,280.11 L62.90,280.23 L63.40,280.35 L63.90,280.47 L64.40,280.59 L64.90,280.72 L65.40,280.86 L65.90,281.00 L66.40,281.14 L66.90,281.29 L67.40,281.44 L67.90,281.59 L68.40,281.76 L68.90,281.92 L69.40,282.09 L69.90,282.27 L70.40,282.45 L70.90,282.64 L71.40,282.83 L71.90,283.03 L72.40,283.23 L72.90,283.44 L73.40,283.66 L73.90,283.88 L74.40,284.11 L74.90,284.34 L75.40,284.58 L75.90,284.83 L76.40,285.08 L76.90,285.34 L77.40,285.61 L77.90,285.89 L78.40,286.17 L78.90,286.46 L79.40,286.75 L79.90,287.06 L80.40,287.37 L80.90,287.68 L81.40,288.01 L81.90,288.34 L82.40,288.68 L82.90,289.03 L83.40,289.39 L83.90,289.75 L84.40,290.12 L84.90,290.50 L85.40,290.89 L85.90,291.28 L86.40,291.68 L86.90,292.09 L87.40,292.51 L87.90,292.93 L88.40,293.36 L88.90,293.80 L89.40,294.25 L89.90,294.70 L90.40,295.16 L90.90,295.63 L91.40,296.10 L91.90,296.58 L92.40,297.07 L92.90,297.56 L93.40,298.06 L93.90,298.56 L94.40,299.07 L94.90,299.58 L95.40,300.10 L95.90,300.63 L96.40,301.15 L96.90,301.69 L97.40,302.22 L97.90,302.76 L98.40,303.30 L98.90,303.85 L99.40,304.40 L99.90,304.95 L100.40,305.50 L100.90,306.05 L101.40,306.61 L101.90,307.16 L102.40,307.72 L102.90,308.27 L103.40,308.83 L103.90,309.38 L104.40,309.94 L104.90,310.49 L105.40,311.04 L105.90,311.59 L106.40,312.14 L106.90,312.68 L107.40,313.22 L107.90,313.76 L108.40,314.29 L108.90,314.82 L109.40,315.35 L109.90,315.87 L110.40,316.39 L110.90,316.90 L111.40,317.40 L111.90,317.90 L112.40,318.40 L112.90,318.89 L113.40,319.37 L113.90,319.85 L114.40,320.32 L114.90,320.78 L115.40,321.23 L115.90,321.68 L116.40,322.13 L116.90,322.56 L117.40,322.99 L117.90,323.41 L118.40,323.82 L118.90,324.22 L119.40,324.62 L119.90,325.01 L120.40,325.39 L120.90,325.77 L121.40,326.14 L121.90,326.49 L122.40,326.85 L122.90,327.19 L123.40,327.53 L123.90,327.86 L124.40,328.18 L124.90,328.49 L125.40,328.80 L125.90,329.10 L126.40,329.39 L126.90,329.67 L127.40,329.95 L127.90,330.22 L128.40,330.49 L128.90,330.74 L129.40,330.99 L129.90,331.24 L130.40,331.47 L130.90,331.70 L131.40,331.93 L131.90,332.15 L132.40,332.36 L132.90,332.57 L133.40,332.77 L133.90,332.96 L134.40,333.15 L134.90,333.34 L135.40,333.51 L135.90,333.69 L136.40,333.86 L136.90,334.02 L137.40,334.18 L137.90,334.33 L138.40,334.48 L138.90,334.63 L139.40,334.77 L139.90,334.90 L140.40,335.03 L140.90,335.16 L141.40,335.29 L141.90,335.41 L142.40,335.52 L142.90,335.63 L143.40,335.74 L143.90,335.85 L144.40,335.95 L144.90,336.05 L145.40,336.15 L145.90,336.24 L146.40,336.33" fill="none" stroke="#1a1a1a" stroke-width="1.0" />
<line x1="25.90" y1="258.02" x2="25.90" y2="339.40" stroke="#1a1a1a" stroke-width="1.1" />
<line x1="25.40" y1="338.90" x2="146.60" y2="338.90" stroke="#1a1a1a" stroke-width="1.1" />
<line x1="22.90" y1="338.90" x2="25.90" y2="338.90" stroke="#1a1a1a" stroke-width="0.9" />
<g fill="#111" transform="translate(11.40,341.30) scale(1.0800,1)"><text x="0.00" y="0.00" font-size="7.0" style="font-weight:bold">0.0</text></g>
<line x1="22.90" y1="325.47" x2="25.90" y2="325.47" stroke="#1a1a1a" stroke-width="0.9" />
<g fill="#111" transform="translate(11.40,327.87) scale(1.0792,1)"><text x="0.00" y="0.00" font-size="7.0" style="font-weight:bold">0.2</text></g>
<line x1="22.90" y1="312.04" x2="25.90" y2="312.04" stroke="#1a1a1a" stroke-width="0.9" />
<g fill="#111" transform="translate(11.41,314.44) scale(1.0513,1)"><text x="0.00" y="0.00" font-size="7.0" style="font-weight:bold">0.4</text></g>
<line x1="22.90" y1="298.61" x2="25.90" y2="298.61" stroke="#1a1a1a" stroke-width="0.9" />
<g fill="#111" transform="translate(11.40,301.01) scale(1.0759,1)"><text x="0.00" y="0.00" font-size="7.0" style="font-weight:bold">0.6</text></g>
<line x1="22.90" y1="285.18" x2="25.90" y2="285.18" stroke="#1a1a1a" stroke-width="0.9" />
<g fill="#111" transform="translate(11.40,287.58) scale(1.0716,1)"><text x="0.00" y="0.00" font-size="7.0" style="font-weight:bold">0.8</text></g>
<line x1="22.90" y1="271.75" x2="25.90" y2="271.75" stroke="#1a1a1a" stroke-width="0.9" />
<g fill="#111" transform="translate(11.22,274.15) scale(1.0996,1)"><text x="0.00" y="0.00" font-size="7.0" style="font-weight:bold">1.0</text></g>
<line x1="22.90" y1="258.32" x2="25.90" y2="258.32" stroke="#1a1a1a" stroke-width="0.9" />
<g fill="#111" transform="translate(11.22,260.72) scale(1.0988,1)"><text x="0.00" y="0.00" font-size="7.0" style="font-weight:bold">1.2</text></g>
<line x1="25.90" y1="338.90" x2="25.90" y2="341.90" stroke="#1a1a1a" stroke-width="0.9" />
<line x1="38.00" y1="338.90" x2="38.00" y2="341.30" stroke="#1a1a1a" stroke-width="0.9" />
<line x1="45.08" y1="338.90" x2="45.08" y2="341.30" stroke="#1a1a1a" stroke-width="0.9" />
<line x1="50.10" y1="338.90" x2="50.10" y2="341.30" stroke="#1a1a1a" stroke-width="0.9" />
<line x1="54.00" y1="338.90" x2="54.00" y2="341.30" stroke="#1a1a1a" stroke-width="0.9" />
<line x1="57.18" y1="338.90" x2="57.18" y2="341.30" stroke="#1a1a1a" stroke-width="0.9" />
<line x1="59.87" y1="338.90" x2="59.87" y2="341.30" stroke="#1a1a1a" stroke-width="0.9" />
<line x1="62.20" y1="338.90" x2="62.20" y2="341.30" stroke="#1a1a1a" stroke-width="0.9" />
<line x1="64.26" y1="338.90" x2="64.26" y2="341.30" stroke="#1a1a1a" stroke-width="0.9" />
<line x1="66.10" y1="338.90" x2="66.10" y2="341.90" stroke="#1a1a1a" stroke-width="0.9" />
<line x1="78.20" y1="338.90" x2="78.20" y2="341.30" stroke="#1a1a1a" stroke-width="0.9" />
<line x1="85.28" y1="338.90" x2="85.28" y2="341.30" stroke="#1a1a1a" stroke-width="0.9" />
<line x1="90.30" y1="338.90" x2="90.30" y2="341.30" stroke="#1a1a1a" stroke-width="0.9" />
<line x1="94.20" y1="338.90" x2="94.20" y2="341.30" stroke="#1a1a1a" stroke-width="0.9" />
<line x1="97.38" y1="338.90" x2="97.38" y2="341.30" stroke="#1a1a1a" stroke-width="0.9" />
<line x1="100.07" y1="338.90" x2="100.07" y2="341.30" stroke="#1a1a1a" stroke-width="0.9" />
<line x1="102.40" y1="338.90" x2="102.40" y2="341.30" stroke="#1a1a1a" stroke-width="0.9" />
<line x1="104.46" y1="338.90" x2="104.46" y2="341.30" stroke="#1a1a1a" stroke-width="0.9" />
<line x1="106.30" y1="338.90" x2="106.30" y2="341.90" stroke="#1a1a1a" stroke-width="0.9" />
<line x1="118.40" y1="338.90" x2="118.40" y2="341.30" stroke="#1a1a1a" stroke-width="0.9" />
<line x1="125.48" y1="338.90" x2="125.48" y2="341.30" stroke="#1a1a1a" stroke-width="0.9" />
<line x1="130.50" y1="338.90" x2="130.50" y2="341.30" stroke="#1a1a1a" stroke-width="0.9" />
<line x1="134.40" y1="338.90" x2="134.40" y2="341.30" stroke="#1a1a1a" stroke-width="0.9" />
<line x1="137.58" y1="338.90" x2="137.58" y2="341.30" stroke="#1a1a1a" stroke-width="0.9" />
<line x1="140.27" y1="338.90" x2="140.27" y2="341.30" stroke="#1a1a1a" stroke-width="0.9" />
<line x1="142.60" y1="338.90" x2="142.60" y2="341.30" stroke="#1a1a1a" stroke-width="0.9" />
<line x1="144.66" y1="338.90" x2="144.66" y2="341.30" stroke="#1a1a1a" stroke-width="0.9" />
<line x1="146.50" y1="338.90" x2="146.50" y2="341.90" stroke="#1a1a1a" stroke-width="0.9" />
<g fill="#111" transform="translate(21.93,349.20) scale(1.0000,1)"><text x="0.00" y="0.00" font-size="7.0" style="font-weight:bold">10</text></g>
<g fill="#111" transform="translate(61.48,349.20) scale(1.0000,1)"><text x="0.00" y="0.00" font-size="7.0" style="font-weight:bold">100</text></g>
<g fill="#111" transform="translate(99.64,349.20) scale(1.0000,1)"><text x="0.00" y="0.00" font-size="7.0" style="font-weight:bold">1000</text></g>
<g fill="#111" transform="translate(136.69,349.20) scale(1.0000,1)"><text x="0.00" y="0.00" font-size="7.0" style="font-weight:bold">10000</text></g>
<circle cx="25.4" cy="276.3" r="2.2" fill="#111"/>
<circle cx="37.2" cy="277.3" r="2.2" fill="#111"/>
<circle cx="49.7" cy="287.7" r="2.2" fill="#111"/>
<circle cx="61.4" cy="276.8" r="2.2" fill="#111"/>
<circle cx="73.9" cy="283.4" r="2.2" fill="#111"/>
<circle cx="86.0" cy="289.8" r="2.2" fill="#111"/>
<circle cx="98.0" cy="301.2" r="2.2" fill="#111"/>
<circle cx="110.3" cy="316.0" r="2.2" fill="#111"/>
<g fill="#111" transform="translate(81.87,266.40) scale(0.9491,1)"><text x="0.00" y="0.00" font-size="10.0" style="font-weight:bold">PBMCs</text></g>
<g fill="#111" transform="translate(82.50,275.10) scale(1.0611,1)"><text x="0.00" y="0.00" font-size="7.0" style="font-weight:bold">EC</text><text x="9.72" y="1.80" font-size="4.6" style="font-weight:bold">50</text><text x="14.84" y="0.00" font-size="7.0" style="font-weight:bold"> = 805 nM</text></g>
<g fill="#111" transform="translate(7.40,336.46) rotate(-90) scale(0.9924,1)"><text x="0.00" y="0.00" font-size="9.0" style="font-weight:bold">Surviving Fraction</text></g>
<g fill="#111" transform="translate(49.82,359.30) scale(0.9981,1)"><text x="0.00" y="0.00" font-size="9.3" style="font-weight:bold">Obatoclax (nM)</text></g>
</g>
</svg>
</body></html>
